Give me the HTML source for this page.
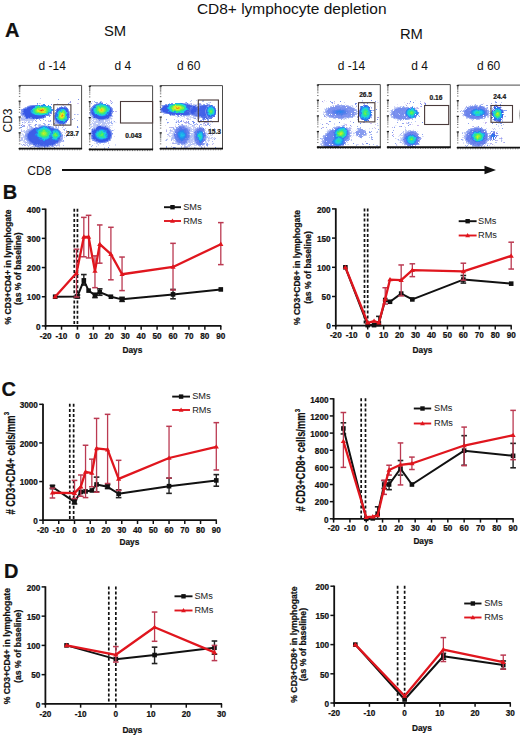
<!DOCTYPE html>
<html><head><meta charset="utf-8"><style>
html,body{margin:0;padding:0;background:#fff;}
body{width:520px;height:735px;overflow:hidden;}
svg{display:block;font-family:"Liberation Sans", sans-serif;}
text[font-weight="bold"]{stroke:#111;stroke-width:0.22px;}
</style></head><body>
<svg width="520" height="735" viewBox="0 0 520 735">
<defs><filter id="bl" x="-10%" y="-10%" width="120%" height="120%" color-interpolation-filters="sRGB"><feTurbulence type="fractalNoise" baseFrequency="0.35" numOctaves="2" seed="3" result="t"/><feDisplacementMap in="SourceGraphic" in2="t" scale="3" xChannelSelector="R" yChannelSelector="G" result="d"/><feGaussianBlur in="d" stdDeviation="0.5" result="b"/><feTurbulence type="fractalNoise" baseFrequency="0.9" numOctaves="1" seed="11" result="n0"/><feColorMatrix in="n0" type="matrix" values="0 0 0 0 0  0 0 0 0 0  0 0 0 0 0  2.2 0 0 0 -0.6" result="n"/><feComposite in="b" in2="n" operator="arithmetic" k1="0" k2="1.4" k3="-1" k4="0.5" result="m0"/><feComponentTransfer in="m0" result="m"><feFuncA type="linear" slope="10" intercept="-6.5"/></feComponentTransfer><feComposite in="b" in2="m" operator="in" result="r"/><feComponentTransfer in="r"><feFuncA type="linear" slope="1.6" intercept="0"/></feComponentTransfer></filter><radialGradient id="g0"><stop offset="0.000" stop-color="#b4c2f4" stop-opacity="0.75"/><stop offset="0.600" stop-color="#c4cef6" stop-opacity="0.6"/><stop offset="1.000" stop-color="#dde3fa" stop-opacity="0"/></radialGradient><radialGradient id="g1"><stop offset="0.000" stop-color="#3556e6" stop-opacity="1"/><stop offset="0.740" stop-color="#3556e6" stop-opacity="1"/><stop offset="0.880" stop-color="#8ea2f0" stop-opacity="0.75"/><stop offset="1.000" stop-color="#d2daf7" stop-opacity="0"/></radialGradient><radialGradient id="g2"><stop offset="0.000" stop-color="#e63c12" stop-opacity="1"/><stop offset="0.120" stop-color="#f5a014" stop-opacity="1"/><stop offset="0.260" stop-color="#e6ec22" stop-opacity="1"/><stop offset="0.420" stop-color="#8cf03a" stop-opacity="1"/><stop offset="0.600" stop-color="#2ee884" stop-opacity="1"/><stop offset="0.770" stop-color="#1ccfe6" stop-opacity="1"/><stop offset="0.890" stop-color="#1f8cf0" stop-opacity="1"/><stop offset="1.000" stop-color="#3556e6" stop-opacity="0"/></radialGradient><radialGradient id="g3"><stop offset="0.000" stop-color="#e6ec22" stop-opacity="1"/><stop offset="0.216" stop-color="#8cf03a" stop-opacity="1"/><stop offset="0.459" stop-color="#2ee884" stop-opacity="1"/><stop offset="0.689" stop-color="#1ccfe6" stop-opacity="1"/><stop offset="0.851" stop-color="#1f8cf0" stop-opacity="1"/><stop offset="1.000" stop-color="#3556e6" stop-opacity="0"/></radialGradient><radialGradient id="g4"><stop offset="0.000" stop-color="#8cf03a" stop-opacity="1"/><stop offset="0.310" stop-color="#2ee884" stop-opacity="1"/><stop offset="0.603" stop-color="#1ccfe6" stop-opacity="1"/><stop offset="0.810" stop-color="#1f8cf0" stop-opacity="1"/><stop offset="1.000" stop-color="#3556e6" stop-opacity="0"/></radialGradient><radialGradient id="g5"><stop offset="0.000" stop-color="#f5a014" stop-opacity="1"/><stop offset="0.159" stop-color="#e6ec22" stop-opacity="1"/><stop offset="0.341" stop-color="#8cf03a" stop-opacity="1"/><stop offset="0.545" stop-color="#2ee884" stop-opacity="1"/><stop offset="0.739" stop-color="#1ccfe6" stop-opacity="1"/><stop offset="0.875" stop-color="#1f8cf0" stop-opacity="1"/><stop offset="1.000" stop-color="#3556e6" stop-opacity="0"/></radialGradient><radialGradient id="g6"><stop offset="0.000" stop-color="#1ccfe6" stop-opacity="1"/><stop offset="0.522" stop-color="#1f8cf0" stop-opacity="1"/><stop offset="1.000" stop-color="#3556e6" stop-opacity="0"/></radialGradient><radialGradient id="g7"><stop offset="0.000" stop-color="#2ee884" stop-opacity="1"/><stop offset="0.425" stop-color="#1ccfe6" stop-opacity="1"/><stop offset="0.725" stop-color="#1f8cf0" stop-opacity="1"/><stop offset="1.000" stop-color="#3556e6" stop-opacity="0"/></radialGradient><radialGradient id="g8"><stop offset="0.000" stop-color="#1f8cf0" stop-opacity="1"/><stop offset="1.000" stop-color="#3556e6" stop-opacity="0"/></radialGradient></defs>
<clipPath id="fc19"><rect x="19.40" y="85.40" width="62.20" height="63.20"/></clipPath>
<g clip-path="url(#fc19)"><g filter="url(#bl)">
<rect x="39.4" y="103.0" width="1.1" height="1.1" fill="#b9c4f2"/>
<rect x="24.3" y="123.4" width="1.1" height="1.1" fill="#7890ec"/>
<rect x="55.0" y="143.2" width="1.1" height="1.1" fill="#8ea4f0"/>
<rect x="22.2" y="118.0" width="1.1" height="1.1" fill="#9fb0ee"/>
<rect x="34.4" y="124.2" width="1.1" height="1.1" fill="#b9c4f2"/>
<rect x="69.6" y="101.6" width="1.1" height="1.1" fill="#8ea4f0"/>
<rect x="57.8" y="125.9" width="1.1" height="1.1" fill="#b9c4f2"/>
<rect x="54.6" y="116.0" width="1.1" height="1.1" fill="#8ea4f0"/>
<rect x="22.8" y="140.5" width="1.1" height="1.1" fill="#d0d8f8"/>
<rect x="45.1" y="123.7" width="1.1" height="1.1" fill="#d0d8f8"/>
<rect x="53.6" y="131.1" width="1.1" height="1.1" fill="#9fb0ee"/>
<rect x="54.9" y="128.9" width="1.1" height="1.1" fill="#7890ec"/>
<rect x="25.8" y="132.7" width="1.1" height="1.1" fill="#b9c4f2"/>
<rect x="57.1" y="121.3" width="1.1" height="1.1" fill="#a8a0e8"/>
<rect x="66.6" y="119.7" width="1.1" height="1.1" fill="#6f8cf0"/>
<rect x="41.7" y="108.2" width="1.1" height="1.1" fill="#c8b8ee"/>
<rect x="61.9" y="107.9" width="1.1" height="1.1" fill="#d0d8f8"/>
<rect x="51.5" y="141.4" width="1.1" height="1.1" fill="#6f8cf0"/>
<rect x="37.3" y="146.9" width="1.1" height="1.1" fill="#9fb0ee"/>
<rect x="50.7" y="103.7" width="1.1" height="1.1" fill="#7890ec"/>
<rect x="29.1" y="120.9" width="1.1" height="1.1" fill="#b9c4f2"/>
<rect x="77.7" y="99.1" width="1.1" height="1.1" fill="#7890ec"/>
<rect x="40.4" y="113.6" width="1.1" height="1.1" fill="#6f8cf0"/>
<rect x="54.8" y="119.2" width="1.1" height="1.1" fill="#9fb0ee"/>
<rect x="76.7" y="120.1" width="1.1" height="1.1" fill="#9fb0ee"/>
<rect x="23.6" y="132.2" width="1.1" height="1.1" fill="#6f8cf0"/>
<rect x="37.1" y="115.4" width="1.1" height="1.1" fill="#7890ec"/>
<rect x="21.4" y="119.5" width="1.1" height="1.1" fill="#c8b8ee"/>
<rect x="56.7" y="121.2" width="1.1" height="1.1" fill="#8ea4f0"/>
<rect x="66.1" y="101.9" width="1.1" height="1.1" fill="#8ea4f0"/>
<rect x="43.9" y="143.6" width="1.1" height="1.1" fill="#6f8cf0"/>
<rect x="24.8" y="118.8" width="1.1" height="1.1" fill="#d0d8f8"/>
<rect x="73.0" y="138.4" width="1.1" height="1.1" fill="#d0d8f8"/>
<rect x="62.4" y="147.3" width="1.1" height="1.1" fill="#a8a0e8"/>
<rect x="77.5" y="103.0" width="1.1" height="1.1" fill="#c8b8ee"/>
<rect x="29.1" y="129.9" width="1.1" height="1.1" fill="#b9c4f2"/>
<rect x="49.1" y="126.2" width="1.1" height="1.1" fill="#d0d8f8"/>
<rect x="36.9" y="102.7" width="1.1" height="1.1" fill="#7890ec"/>
<rect x="56.6" y="111.9" width="1.1" height="1.1" fill="#c8b8ee"/>
<rect x="61.4" y="122.3" width="1.1" height="1.1" fill="#b9c4f2"/>
<rect x="47.4" y="141.2" width="1.1" height="1.1" fill="#a8a0e8"/>
<rect x="43.9" y="115.9" width="1.1" height="1.1" fill="#6f8cf0"/>
<rect x="58.1" y="98.3" width="1.1" height="1.1" fill="#9fb0ee"/>
<rect x="79.1" y="118.4" width="1.1" height="1.1" fill="#9fb0ee"/>
<rect x="40.4" y="97.8" width="1.1" height="1.1" fill="#b9c4f2"/>
<rect x="54.0" y="123.4" width="1.1" height="1.1" fill="#7890ec"/>
<rect x="56.8" y="98.7" width="1.1" height="1.1" fill="#8ea4f0"/>
<rect x="56.8" y="102.9" width="1.1" height="1.1" fill="#d0d8f8"/>
<rect x="77.3" y="126.9" width="1.1" height="1.1" fill="#6f8cf0"/>
<rect x="27.4" y="140.0" width="1.1" height="1.1" fill="#6f8cf0"/>
<rect x="48.8" y="111.5" width="1.1" height="1.1" fill="#c8b8ee"/>
<rect x="26.1" y="113.2" width="1.1" height="1.1" fill="#d0d8f8"/>
<rect x="48.7" y="131.7" width="1.1" height="1.1" fill="#b9c4f2"/>
<rect x="32.3" y="145.5" width="1.1" height="1.1" fill="#7890ec"/>
<rect x="28.8" y="123.8" width="1.1" height="1.1" fill="#b9c4f2"/>
<rect x="65.5" y="110.8" width="1.1" height="1.1" fill="#9fb0ee"/>
<rect x="61.8" y="108.8" width="1.1" height="1.1" fill="#7890ec"/>
<rect x="74.5" y="113.9" width="1.1" height="1.1" fill="#8ea4f0"/>
<rect x="52.0" y="136.3" width="1.1" height="1.1" fill="#7890ec"/>
<rect x="58.2" y="127.5" width="1.1" height="1.1" fill="#8ea4f0"/>
<rect x="68.4" y="138.4" width="1.1" height="1.1" fill="#8ea4f0"/>
<rect x="32.0" y="121.1" width="1.1" height="1.1" fill="#b9c4f2"/>
<rect x="79.4" y="136.9" width="1.1" height="1.1" fill="#6f8cf0"/>
<rect x="35.6" y="131.7" width="1.1" height="1.1" fill="#7890ec"/>
<rect x="46.8" y="144.7" width="1.1" height="1.1" fill="#7890ec"/>
<rect x="77.3" y="114.3" width="1.1" height="1.1" fill="#8ea4f0"/>
<rect x="26.1" y="119.9" width="1.1" height="1.1" fill="#7890ec"/>
<rect x="32.3" y="128.1" width="1.1" height="1.1" fill="#b9c4f2"/>
<rect x="48.8" y="129.6" width="1.1" height="1.1" fill="#9fb0ee"/>
<rect x="70.1" y="101.4" width="1.1" height="1.1" fill="#a8a0e8"/>
<rect x="66.9" y="134.8" width="1.1" height="1.1" fill="#6f8cf0"/>
<rect x="73.3" y="118.0" width="1.1" height="1.1" fill="#7890ec"/>
<rect x="25.2" y="145.1" width="1.1" height="1.1" fill="#a8a0e8"/>
<rect x="47.8" y="134.4" width="1.1" height="1.1" fill="#9fb0ee"/>
<rect x="63.5" y="104.0" width="1.1" height="1.1" fill="#c8b8ee"/>
<rect x="21.7" y="126.3" width="1.1" height="1.1" fill="#6f8cf0"/>
<rect x="68.4" y="102.7" width="1.1" height="1.1" fill="#6f8cf0"/>
<rect x="59.4" y="113.6" width="1.1" height="1.1" fill="#c8b8ee"/>
<rect x="21.3" y="137.4" width="1.1" height="1.1" fill="#9fb0ee"/>
<rect x="51.6" y="144.5" width="1.1" height="1.1" fill="#a8a0e8"/>
<rect x="65.4" y="123.8" width="1.1" height="1.1" fill="#8ea4f0"/>
<rect x="21.3" y="124.4" width="1.1" height="1.1" fill="#8ea4f0"/>
<rect x="55.1" y="127.8" width="1.1" height="1.1" fill="#a8a0e8"/>
<rect x="58.4" y="119.8" width="1.1" height="1.1" fill="#7890ec"/>
<rect x="61.3" y="137.9" width="1.1" height="1.1" fill="#a8a0e8"/>
<rect x="58.0" y="144.3" width="1.1" height="1.1" fill="#c8b8ee"/>
<rect x="44.5" y="133.7" width="1.1" height="1.1" fill="#b9c4f2"/>
<rect x="60.1" y="141.3" width="1.1" height="1.1" fill="#b9c4f2"/>
<rect x="55.7" y="122.5" width="1.1" height="1.1" fill="#c8b8ee"/>
<rect x="41.8" y="139.8" width="1.1" height="1.1" fill="#b9c4f2"/>
<rect x="35.0" y="133.6" width="1.1" height="1.1" fill="#6f8cf0"/>
<rect x="56.1" y="121.2" width="1.1" height="1.1" fill="#b9c4f2"/>
<rect x="31.4" y="126.3" width="1.1" height="1.1" fill="#9fb0ee"/>
<rect x="43.4" y="134.9" width="1.1" height="1.1" fill="#9fb0ee"/>
<rect x="40.4" y="136.4" width="1.1" height="1.1" fill="#8ea4f0"/>
<rect x="51.9" y="131.6" width="1.1" height="1.1" fill="#6f8cf0"/>
<rect x="43.4" y="125.4" width="1.1" height="1.1" fill="#d0d8f8"/>
<rect x="62.4" y="144.8" width="1.1" height="1.1" fill="#8ea4f0"/>
<rect x="58.6" y="122.1" width="1.1" height="1.1" fill="#9fb0ee"/>
<rect x="38.0" y="127.5" width="1.1" height="1.1" fill="#8ea4f0"/>
<rect x="39.7" y="124.4" width="1.1" height="1.1" fill="#d0d8f8"/>
<rect x="56.1" y="144.9" width="1.1" height="1.1" fill="#c8b8ee"/>
<rect x="63.2" y="137.3" width="1.1" height="1.1" fill="#7890ec"/>
<rect x="26.6" y="144.5" width="1.1" height="1.1" fill="#6f8cf0"/>
<rect x="30.1" y="146.6" width="1.1" height="1.1" fill="#a8a0e8"/>
<rect x="60.7" y="122.9" width="1.1" height="1.1" fill="#8ea4f0"/>
<rect x="27.4" y="130.9" width="1.1" height="1.1" fill="#a8a0e8"/>
<rect x="35.6" y="123.9" width="1.1" height="1.1" fill="#7890ec"/>
<rect x="24.2" y="129.0" width="1.1" height="1.1" fill="#7890ec"/>
<rect x="45.5" y="131.2" width="1.1" height="1.1" fill="#b9c4f2"/>
<rect x="37.7" y="133.5" width="1.1" height="1.1" fill="#d0d8f8"/>
<rect x="43.6" y="119.9" width="1.1" height="1.1" fill="#8ea4f0"/>
<rect x="64.7" y="121.1" width="1.1" height="1.1" fill="#d0d8f8"/>
<rect x="32.5" y="145.2" width="1.1" height="1.1" fill="#c8b8ee"/>
<rect x="32.4" y="121.9" width="1.1" height="1.1" fill="#a8a0e8"/>
<rect x="59.1" y="138.3" width="1.1" height="1.1" fill="#d0d8f8"/>
<rect x="38.7" y="134.1" width="1.1" height="1.1" fill="#6f8cf0"/>
<rect x="52.2" y="120.7" width="1.1" height="1.1" fill="#b9c4f2"/>
<rect x="56.8" y="123.5" width="1.1" height="1.1" fill="#9fb0ee"/>
<rect x="32.4" y="118.5" width="1.1" height="1.1" fill="#9fb0ee"/>
<rect x="56.9" y="120.5" width="1.1" height="1.1" fill="#8ea4f0"/>
<rect x="23.1" y="143.9" width="1.1" height="1.1" fill="#6f8cf0"/>
<rect x="20.5" y="147.8" width="1.1" height="1.1" fill="#a8a0e8"/>
<rect x="62.6" y="126.0" width="1.1" height="1.1" fill="#c8b8ee"/>
<rect x="22.0" y="139.3" width="1.1" height="1.1" fill="#9fb0ee"/>
<rect x="64.6" y="125.9" width="1.1" height="1.1" fill="#c8b8ee"/>
<rect x="29.3" y="127.4" width="1.1" height="1.1" fill="#d0d8f8"/>
<rect x="44.4" y="124.2" width="1.1" height="1.1" fill="#6f8cf0"/>
<rect x="43.0" y="123.3" width="1.1" height="1.1" fill="#7890ec"/>
<rect x="57.0" y="147.8" width="1.1" height="1.1" fill="#b9c4f2"/>
<rect x="20.7" y="140.0" width="1.1" height="1.1" fill="#8ea4f0"/>
<rect x="43.7" y="125.4" width="1.1" height="1.1" fill="#6f8cf0"/>
<rect x="24.9" y="142.6" width="1.1" height="1.1" fill="#a8a0e8"/>
<rect x="50.2" y="134.4" width="1.1" height="1.1" fill="#a8a0e8"/>
<rect x="64.6" y="127.2" width="1.1" height="1.1" fill="#8ea4f0"/>
<rect x="65.2" y="128.3" width="1.1" height="1.1" fill="#c8b8ee"/>
<rect x="38.6" y="128.4" width="1.1" height="1.1" fill="#b9c4f2"/>
<rect x="58.5" y="118.4" width="1.1" height="1.1" fill="#d0d8f8"/>
<rect x="39.8" y="119.7" width="1.1" height="1.1" fill="#a8a0e8"/>
<rect x="60.0" y="138.1" width="1.1" height="1.1" fill="#d0d8f8"/>
<rect x="47.5" y="138.8" width="1.1" height="1.1" fill="#b9c4f2"/>
<rect x="41.1" y="122.7" width="1.1" height="1.1" fill="#6f8cf0"/>
<rect x="20.2" y="128.9" width="1.1" height="1.1" fill="#7890ec"/>
<rect x="64.7" y="134.4" width="1.1" height="1.1" fill="#8ea4f0"/>
<rect x="21.6" y="144.5" width="1.1" height="1.1" fill="#8ea4f0"/>
<rect x="36.4" y="118.0" width="1.1" height="1.1" fill="#a8a0e8"/>
<rect x="23.9" y="126.4" width="1.1" height="1.1" fill="#8ea4f0"/>
<rect x="31.4" y="141.3" width="1.1" height="1.1" fill="#9fb0ee"/>
<rect x="32.2" y="120.7" width="1.1" height="1.1" fill="#a8a0e8"/>
<rect x="47.0" y="129.8" width="1.1" height="1.1" fill="#d0d8f8"/>
<rect x="34.0" y="125.0" width="1.1" height="1.1" fill="#c8b8ee"/>
<rect x="50.2" y="139.5" width="1.1" height="1.1" fill="#a8a0e8"/>
<rect x="55.2" y="139.6" width="1.1" height="1.1" fill="#6f8cf0"/>
<rect x="26.9" y="139.7" width="1.1" height="1.1" fill="#c8b8ee"/>
<rect x="22.0" y="143.1" width="1.1" height="1.1" fill="#a8a0e8"/>
<rect x="53.8" y="142.4" width="1.1" height="1.1" fill="#c8b8ee"/>
<rect x="61.9" y="140.6" width="1.1" height="1.1" fill="#b9c4f2"/>
<rect x="58.0" y="135.5" width="1.1" height="1.1" fill="#8ea4f0"/>
<rect x="23.9" y="119.3" width="1.1" height="1.1" fill="#7890ec"/>
<rect x="64.1" y="129.3" width="1.1" height="1.1" fill="#6f8cf0"/>
<rect x="45.7" y="136.8" width="1.1" height="1.1" fill="#8ea4f0"/>
<rect x="42.5" y="118.1" width="1.1" height="1.1" fill="#9fb0ee"/>
<rect x="54.4" y="133.1" width="1.1" height="1.1" fill="#9fb0ee"/>
<rect x="50.3" y="120.0" width="1.1" height="1.1" fill="#6f8cf0"/>
<rect x="31.6" y="120.2" width="1.1" height="1.1" fill="#d0d8f8"/>
<rect x="30.8" y="140.7" width="1.1" height="1.1" fill="#8ea4f0"/>
<rect x="54.0" y="147.3" width="1.1" height="1.1" fill="#6f8cf0"/>
<rect x="58.9" y="120.3" width="1.1" height="1.1" fill="#d0d8f8"/>
<rect x="55.3" y="136.5" width="1.1" height="1.1" fill="#8ea4f0"/>
<rect x="23.6" y="122.4" width="1.1" height="1.1" fill="#d0d8f8"/>
<rect x="50.0" y="138.8" width="1.1" height="1.1" fill="#c8b8ee"/>
<rect x="20.6" y="119.8" width="1.1" height="1.1" fill="#d0d8f8"/>
<rect x="64.7" y="121.0" width="1.1" height="1.1" fill="#8ea4f0"/>
<rect x="51.1" y="126.7" width="1.1" height="1.1" fill="#d0d8f8"/>
<rect x="41.4" y="132.0" width="1.1" height="1.1" fill="#9fb0ee"/>
<rect x="65.7" y="134.5" width="1.1" height="1.1" fill="#d0d8f8"/>
<rect x="65.0" y="146.1" width="1.1" height="1.1" fill="#b9c4f2"/>
<rect x="33.3" y="120.3" width="1.1" height="1.1" fill="#6f8cf0"/>
<rect x="65.7" y="129.6" width="1.1" height="1.1" fill="#8ea4f0"/>
<rect x="23.4" y="120.7" width="1.1" height="1.1" fill="#d0d8f8"/>
<rect x="63.8" y="122.0" width="1.1" height="1.1" fill="#d0d8f8"/>
<rect x="60.8" y="139.1" width="1.1" height="1.1" fill="#8ea4f0"/>
<rect x="42.9" y="144.3" width="1.1" height="1.1" fill="#a8a0e8"/>
<rect x="21.1" y="118.1" width="1.1" height="1.1" fill="#6f8cf0"/>
<rect x="51.4" y="130.2" width="1.1" height="1.1" fill="#c8b8ee"/>
<rect x="39.1" y="129.3" width="1.1" height="1.1" fill="#9fb0ee"/>
<rect x="58.7" y="118.1" width="1.1" height="1.1" fill="#7890ec"/>
<rect x="58.6" y="121.6" width="1.1" height="1.1" fill="#8ea4f0"/>
<rect x="52.8" y="145.0" width="1.1" height="1.1" fill="#d0d8f8"/>
<rect x="31.6" y="119.9" width="1.1" height="1.1" fill="#a8a0e8"/>
<rect x="65.9" y="135.7" width="1.1" height="1.1" fill="#7890ec"/>
<rect x="62.6" y="140.7" width="1.1" height="1.1" fill="#b9c4f2"/>
<rect x="32.9" y="119.5" width="1.1" height="1.1" fill="#d0d8f8"/>
<rect x="49.2" y="122.5" width="1.1" height="1.1" fill="#d0d8f8"/>
<rect x="40.1" y="127.5" width="1.1" height="1.1" fill="#7890ec"/>
<rect x="56.1" y="130.8" width="1.1" height="1.1" fill="#b9c4f2"/>
<rect x="57.4" y="136.9" width="1.1" height="1.1" fill="#8ea4f0"/>
<rect x="53.1" y="119.5" width="1.1" height="1.1" fill="#a8a0e8"/>
<rect x="40.7" y="140.6" width="1.1" height="1.1" fill="#d0d8f8"/>
<rect x="42.3" y="145.4" width="1.1" height="1.1" fill="#c8b8ee"/>
<rect x="27.9" y="130.4" width="1.1" height="1.1" fill="#d0d8f8"/>
<rect x="33.7" y="140.2" width="1.1" height="1.1" fill="#d0d8f8"/>
<rect x="38.7" y="125.2" width="1.1" height="1.1" fill="#6f8cf0"/>
<rect x="45.6" y="129.8" width="1.1" height="1.1" fill="#c8b8ee"/>
<rect x="49.6" y="120.3" width="1.1" height="1.1" fill="#6f8cf0"/>
<rect x="45.3" y="131.6" width="1.1" height="1.1" fill="#7890ec"/>
<rect x="65.8" y="131.5" width="1.1" height="1.1" fill="#c8b8ee"/>
<rect x="45.2" y="125.3" width="1.1" height="1.1" fill="#c8b8ee"/>
<rect x="35.7" y="120.7" width="1.1" height="1.1" fill="#8ea4f0"/>
<rect x="36.9" y="142.3" width="1.1" height="1.1" fill="#8ea4f0"/>
<rect x="60.8" y="140.5" width="1.1" height="1.1" fill="#a8a0e8"/>
<rect x="37.6" y="140.4" width="1.1" height="1.1" fill="#8ea4f0"/>
<rect x="37.3" y="128.1" width="1.1" height="1.1" fill="#b9c4f2"/>
<rect x="42.9" y="135.2" width="1.1" height="1.1" fill="#7890ec"/>
<rect x="25.8" y="133.1" width="1.1" height="1.1" fill="#8ea4f0"/>
<rect x="24.3" y="144.9" width="1.1" height="1.1" fill="#a8a0e8"/>
<rect x="38.4" y="131.4" width="1.1" height="1.1" fill="#d0d8f8"/>
<rect x="59.0" y="144.2" width="1.1" height="1.1" fill="#b9c4f2"/>
<rect x="25.9" y="130.8" width="1.1" height="1.1" fill="#6f8cf0"/>
<rect x="64.5" y="132.7" width="1.1" height="1.1" fill="#9fb0ee"/>
<rect x="38.0" y="145.8" width="1.1" height="1.1" fill="#6f8cf0"/>
<rect x="64.7" y="125.5" width="1.1" height="1.1" fill="#9fb0ee"/>
<rect x="30.3" y="122.6" width="1.1" height="1.1" fill="#9fb0ee"/>
<rect x="63.3" y="139.7" width="1.1" height="1.1" fill="#6f8cf0"/>
<rect x="23.9" y="141.3" width="1.1" height="1.1" fill="#b9c4f2"/>
<rect x="56.0" y="125.0" width="1.1" height="1.1" fill="#b9c4f2"/>
<rect x="49.7" y="127.1" width="1.1" height="1.1" fill="#c8b8ee"/>
<rect x="48.8" y="133.8" width="1.1" height="1.1" fill="#a8a0e8"/>
<rect x="52.1" y="121.4" width="1.1" height="1.1" fill="#9fb0ee"/>
<rect x="33.8" y="146.3" width="1.1" height="1.1" fill="#8ea4f0"/>
<rect x="37.9" y="124.7" width="1.1" height="1.1" fill="#b9c4f2"/>
<rect x="20.5" y="127.0" width="1.1" height="1.1" fill="#6f8cf0"/>
<rect x="32.8" y="127.5" width="1.1" height="1.1" fill="#8ea4f0"/>
<rect x="41.9" y="125.0" width="1.1" height="1.1" fill="#8ea4f0"/>
<rect x="21.3" y="130.4" width="1.1" height="1.1" fill="#d0d8f8"/>
<rect x="22.5" y="123.8" width="1.1" height="1.1" fill="#a8a0e8"/>
<rect x="23.7" y="124.8" width="1.1" height="1.1" fill="#a8a0e8"/>
<rect x="62.6" y="124.8" width="1.1" height="1.1" fill="#b9c4f2"/>
<rect x="52.0" y="139.5" width="1.1" height="1.1" fill="#7890ec"/>
<rect x="51.4" y="123.9" width="1.1" height="1.1" fill="#d0d8f8"/>
<rect x="54.0" y="133.1" width="1.1" height="1.1" fill="#8ea4f0"/>
<rect x="42.8" y="124.0" width="1.1" height="1.1" fill="#8ea4f0"/>
<rect x="30.6" y="124.6" width="1.1" height="1.1" fill="#d0d8f8"/>
<rect x="25.0" y="136.7" width="1.1" height="1.1" fill="#c8b8ee"/>
<rect x="61.2" y="132.6" width="1.1" height="1.1" fill="#b9c4f2"/>
<rect x="63.6" y="122.4" width="1.1" height="1.1" fill="#a8a0e8"/>
<rect x="22.5" y="118.7" width="1.1" height="1.1" fill="#c8b8ee"/>
<rect x="39.1" y="139.3" width="1.1" height="1.1" fill="#c8b8ee"/>
<rect x="38.1" y="144.9" width="1.1" height="1.1" fill="#7890ec"/>
<rect x="53.7" y="147.9" width="1.1" height="1.1" fill="#c8b8ee"/>
<rect x="35.1" y="123.6" width="1.1" height="1.1" fill="#6f8cf0"/>
<rect x="21.5" y="137.9" width="1.1" height="1.1" fill="#a8a0e8"/>
<rect x="58.6" y="147.5" width="1.1" height="1.1" fill="#6f8cf0"/>
<rect x="27.8" y="118.1" width="1.1" height="1.1" fill="#d0d8f8"/>
<rect x="23.7" y="130.6" width="1.1" height="1.1" fill="#9fb0ee"/>
<rect x="45.8" y="140.8" width="1.1" height="1.1" fill="#a8a0e8"/>
<rect x="36.4" y="142.6" width="1.1" height="1.1" fill="#a8a0e8"/>
<rect x="24.0" y="139.2" width="1.1" height="1.1" fill="#8ea4f0"/>
<rect x="37.1" y="145.6" width="1.1" height="1.1" fill="#8ea4f0"/>
<rect x="34.9" y="140.1" width="1.1" height="1.1" fill="#6f8cf0"/>
<rect x="21.4" y="130.3" width="1.1" height="1.1" fill="#a8a0e8"/>
<rect x="21.9" y="119.0" width="1.1" height="1.1" fill="#9fb0ee"/>
<rect x="57.0" y="119.9" width="1.1" height="1.1" fill="#8ea4f0"/>
<rect x="54.4" y="145.0" width="1.1" height="1.1" fill="#7890ec"/>
<rect x="36.7" y="128.0" width="1.1" height="1.1" fill="#b9c4f2"/>
<rect x="32.1" y="139.5" width="1.1" height="1.1" fill="#7890ec"/>
<rect x="62.5" y="126.9" width="1.1" height="1.1" fill="#9fb0ee"/>
<rect x="21.1" y="125.0" width="1.1" height="1.1" fill="#6f8cf0"/>
<rect x="52.9" y="132.0" width="1.1" height="1.1" fill="#a8a0e8"/>
<rect x="56.3" y="145.4" width="1.1" height="1.1" fill="#6f8cf0"/>
<rect x="26.1" y="132.9" width="1.1" height="1.1" fill="#b9c4f2"/>
<rect x="56.9" y="140.2" width="1.1" height="1.1" fill="#c8b8ee"/>
<rect x="47.9" y="127.8" width="1.1" height="1.1" fill="#7890ec"/>
<rect x="41.2" y="141.5" width="1.1" height="1.1" fill="#9fb0ee"/>
<rect x="43.5" y="129.8" width="1.1" height="1.1" fill="#c8b8ee"/>
<rect x="31.4" y="119.9" width="1.1" height="1.1" fill="#b9c4f2"/>
<rect x="42.2" y="134.3" width="1.1" height="1.1" fill="#c8b8ee"/>
<rect x="65.1" y="144.5" width="1.1" height="1.1" fill="#9fb0ee"/>
<rect x="32.2" y="120.5" width="1.1" height="1.1" fill="#9fb0ee"/>
<rect x="39.4" y="147.7" width="1.1" height="1.1" fill="#6f8cf0"/>
<rect x="28.0" y="122.0" width="1.1" height="1.1" fill="#6f8cf0"/>
<rect x="48.5" y="138.2" width="1.1" height="1.1" fill="#9fb0ee"/>
<rect x="55.9" y="126.8" width="1.1" height="1.1" fill="#d0d8f8"/>
<rect x="46.1" y="129.2" width="1.1" height="1.1" fill="#d0d8f8"/>
<rect x="29.2" y="125.4" width="1.1" height="1.1" fill="#8ea4f0"/>
<rect x="30.8" y="126.4" width="1.1" height="1.1" fill="#8ea4f0"/>
<rect x="35.0" y="129.9" width="1.1" height="1.1" fill="#8ea4f0"/>
<rect x="43.3" y="124.9" width="1.1" height="1.1" fill="#9fb0ee"/>
<rect x="50.1" y="147.7" width="1.1" height="1.1" fill="#9fb0ee"/>
<rect x="20.2" y="144.5" width="1.1" height="1.1" fill="#8ea4f0"/>
<rect x="58.7" y="145.4" width="1.1" height="1.1" fill="#b9c4f2"/>
<rect x="60.3" y="125.0" width="1.1" height="1.1" fill="#b9c4f2"/>
<rect x="28.7" y="147.2" width="1.1" height="1.1" fill="#8ea4f0"/>
<rect x="62.8" y="129.2" width="1.1" height="1.1" fill="#c8b8ee"/>
<rect x="40.7" y="125.8" width="1.1" height="1.1" fill="#b9c4f2"/>
<rect x="24.9" y="135.9" width="1.1" height="1.1" fill="#7890ec"/>
<rect x="30.0" y="129.1" width="1.1" height="1.1" fill="#c8b8ee"/>
<rect x="22.0" y="148.0" width="1.1" height="1.1" fill="#b9c4f2"/>
<rect x="47.6" y="137.5" width="1.1" height="1.1" fill="#8ea4f0"/>
<rect x="57.5" y="142.6" width="1.1" height="1.1" fill="#a8a0e8"/>
<rect x="51.2" y="123.6" width="1.1" height="1.1" fill="#d0d8f8"/>
<rect x="23.6" y="118.9" width="1.1" height="1.1" fill="#6f8cf0"/>
<rect x="45.2" y="119.9" width="1.1" height="1.1" fill="#9fb0ee"/>
<rect x="56.6" y="137.9" width="1.1" height="1.1" fill="#c8b8ee"/>
<rect x="49.4" y="120.7" width="1.1" height="1.1" fill="#c8b8ee"/>
<rect x="38.3" y="126.1" width="1.1" height="1.1" fill="#d0d8f8"/>
<rect x="50.7" y="130.5" width="1.1" height="1.1" fill="#b9c4f2"/>
<rect x="34.4" y="135.0" width="1.1" height="1.1" fill="#7890ec"/>
<rect x="39.0" y="118.5" width="1.1" height="1.1" fill="#7890ec"/>
<rect x="49.6" y="129.7" width="1.1" height="1.1" fill="#a8a0e8"/>
<rect x="29.4" y="118.2" width="1.1" height="1.1" fill="#c8b8ee"/>
<rect x="39.5" y="142.6" width="1.1" height="1.1" fill="#a8a0e8"/>
<rect x="46.6" y="128.9" width="1.1" height="1.1" fill="#c8b8ee"/>
<rect x="26.0" y="119.6" width="1.1" height="1.1" fill="#c8b8ee"/>
<rect x="49.5" y="145.3" width="1.1" height="1.1" fill="#9fb0ee"/>
<rect x="46.4" y="145.8" width="1.1" height="1.1" fill="#c8b8ee"/>
<rect x="26.7" y="126.5" width="1.1" height="1.1" fill="#c8b8ee"/>
<rect x="62.6" y="121.3" width="1.1" height="1.1" fill="#6f8cf0"/>
<rect x="54.7" y="141.8" width="1.1" height="1.1" fill="#8ea4f0"/>
<rect x="33.9" y="143.1" width="1.1" height="1.1" fill="#b9c4f2"/>
<rect x="64.9" y="132.5" width="1.1" height="1.1" fill="#b9c4f2"/>
<rect x="48.0" y="137.1" width="1.1" height="1.1" fill="#9fb0ee"/>
<rect x="61.6" y="136.6" width="1.1" height="1.1" fill="#c8b8ee"/>
<rect x="49.5" y="143.7" width="1.1" height="1.1" fill="#a8a0e8"/>
<rect x="48.3" y="123.9" width="1.1" height="1.1" fill="#6f8cf0"/>
<rect x="28.4" y="124.5" width="1.1" height="1.1" fill="#a8a0e8"/>
<rect x="63.2" y="122.7" width="1.1" height="1.1" fill="#7890ec"/>
<rect x="25.7" y="125.4" width="1.1" height="1.1" fill="#8ea4f0"/>
<rect x="21.9" y="134.9" width="1.1" height="1.1" fill="#b9c4f2"/>
<rect x="50.7" y="127.7" width="1.1" height="1.1" fill="#a8a0e8"/>
<rect x="47.6" y="134.5" width="1.1" height="1.1" fill="#d0d8f8"/>
<rect x="49.9" y="127.2" width="1.1" height="1.1" fill="#8ea4f0"/>
<rect x="39.6" y="137.8" width="1.1" height="1.1" fill="#6f8cf0"/>
<rect x="43.2" y="123.4" width="1.1" height="1.1" fill="#b9c4f2"/>
<rect x="48.5" y="132.7" width="1.1" height="1.1" fill="#8ea4f0"/>
<rect x="40.6" y="136.6" width="1.1" height="1.1" fill="#6f8cf0"/>
<rect x="58.5" y="142.3" width="1.1" height="1.1" fill="#a8a0e8"/>
<rect x="24.9" y="121.9" width="1.1" height="1.1" fill="#a8a0e8"/>
<rect x="36.8" y="142.1" width="1.1" height="1.1" fill="#b9c4f2"/>
<rect x="21.9" y="121.9" width="1.1" height="1.1" fill="#7890ec"/>
<ellipse cx="40.00" cy="137.00" rx="26.00" ry="14.00" fill="url(#g0)"/>
<ellipse cx="28.00" cy="116.00" rx="10.00" ry="9.00" fill="url(#g0)"/>
<ellipse cx="36.50" cy="112.00" rx="17.50" ry="8.20" fill="url(#g1)" opacity="1.0" transform="rotate(-4 36.50 112.00)"/><ellipse cx="41.50" cy="110.80" rx="11.90" ry="5.58" fill="url(#g2)" transform="rotate(-4 36.50 112.00)"/>
<ellipse cx="62.00" cy="115.50" rx="8.50" ry="10.50" fill="url(#g1)" opacity="1.0" transform="rotate(15 62.00 115.50)"/><ellipse cx="62.00" cy="115.50" rx="6.12" ry="7.56" fill="url(#g2)" transform="rotate(15 62.00 115.50)"/>
<ellipse cx="44.00" cy="136.50" rx="21.00" ry="12.00" fill="url(#g1)" opacity="0.9"/>
<ellipse cx="44.00" cy="133.50" rx="12.00" ry="10.00" fill="url(#g1)" opacity="0"/><ellipse cx="44.00" cy="133.50" rx="9.00" ry="7.50" fill="url(#g3)"/>
<ellipse cx="55.50" cy="135.00" rx="7.00" ry="8.00" fill="url(#g1)" opacity="0"/><ellipse cx="55.50" cy="135.00" rx="5.60" ry="6.40" fill="url(#g4)"/>
</g></g>
<path d="M19.40,148.60 M19.40,85.40 L81.60,85.40 L81.60,148.60" fill="none" stroke="#4a4a4a" stroke-width="1.0"/>
<line x1="18.60" y1="148.60" x2="20.80" y2="148.60" stroke="#222" stroke-width="1.3"/>
<line x1="18.90" y1="143.84" x2="20.30" y2="143.84" stroke="#555" stroke-width="0.8"/>
<line x1="18.90" y1="141.06" x2="20.30" y2="141.06" stroke="#555" stroke-width="0.8"/>
<line x1="18.90" y1="139.09" x2="20.30" y2="139.09" stroke="#555" stroke-width="0.8"/>
<line x1="18.90" y1="137.56" x2="20.30" y2="137.56" stroke="#555" stroke-width="0.8"/>
<line x1="18.90" y1="136.31" x2="20.30" y2="136.31" stroke="#555" stroke-width="0.8"/>
<line x1="18.90" y1="135.25" x2="20.30" y2="135.25" stroke="#555" stroke-width="0.8"/>
<line x1="18.90" y1="134.33" x2="20.30" y2="134.33" stroke="#555" stroke-width="0.8"/>
<line x1="18.90" y1="133.52" x2="20.30" y2="133.52" stroke="#555" stroke-width="0.8"/>
<line x1="18.60" y1="132.80" x2="20.80" y2="132.80" stroke="#222" stroke-width="1.3"/>
<line x1="18.90" y1="128.04" x2="20.30" y2="128.04" stroke="#555" stroke-width="0.8"/>
<line x1="18.90" y1="125.26" x2="20.30" y2="125.26" stroke="#555" stroke-width="0.8"/>
<line x1="18.90" y1="123.29" x2="20.30" y2="123.29" stroke="#555" stroke-width="0.8"/>
<line x1="18.90" y1="121.76" x2="20.30" y2="121.76" stroke="#555" stroke-width="0.8"/>
<line x1="18.90" y1="120.51" x2="20.30" y2="120.51" stroke="#555" stroke-width="0.8"/>
<line x1="18.90" y1="119.45" x2="20.30" y2="119.45" stroke="#555" stroke-width="0.8"/>
<line x1="18.90" y1="118.53" x2="20.30" y2="118.53" stroke="#555" stroke-width="0.8"/>
<line x1="18.90" y1="117.72" x2="20.30" y2="117.72" stroke="#555" stroke-width="0.8"/>
<line x1="18.60" y1="117.00" x2="20.80" y2="117.00" stroke="#222" stroke-width="1.3"/>
<line x1="18.90" y1="112.24" x2="20.30" y2="112.24" stroke="#555" stroke-width="0.8"/>
<line x1="18.90" y1="109.46" x2="20.30" y2="109.46" stroke="#555" stroke-width="0.8"/>
<line x1="18.90" y1="107.49" x2="20.30" y2="107.49" stroke="#555" stroke-width="0.8"/>
<line x1="18.90" y1="105.96" x2="20.30" y2="105.96" stroke="#555" stroke-width="0.8"/>
<line x1="18.90" y1="104.71" x2="20.30" y2="104.71" stroke="#555" stroke-width="0.8"/>
<line x1="18.90" y1="103.65" x2="20.30" y2="103.65" stroke="#555" stroke-width="0.8"/>
<line x1="18.90" y1="102.73" x2="20.30" y2="102.73" stroke="#555" stroke-width="0.8"/>
<line x1="18.90" y1="101.92" x2="20.30" y2="101.92" stroke="#555" stroke-width="0.8"/>
<line x1="18.60" y1="101.20" x2="20.80" y2="101.20" stroke="#222" stroke-width="1.3"/>
<line x1="18.90" y1="96.44" x2="20.30" y2="96.44" stroke="#555" stroke-width="0.8"/>
<line x1="18.90" y1="93.66" x2="20.30" y2="93.66" stroke="#555" stroke-width="0.8"/>
<line x1="18.90" y1="91.69" x2="20.30" y2="91.69" stroke="#555" stroke-width="0.8"/>
<line x1="18.90" y1="90.16" x2="20.30" y2="90.16" stroke="#555" stroke-width="0.8"/>
<line x1="18.90" y1="88.91" x2="20.30" y2="88.91" stroke="#555" stroke-width="0.8"/>
<line x1="18.90" y1="87.85" x2="20.30" y2="87.85" stroke="#555" stroke-width="0.8"/>
<line x1="18.90" y1="86.93" x2="20.30" y2="86.93" stroke="#555" stroke-width="0.8"/>
<line x1="18.90" y1="86.12" x2="20.30" y2="86.12" stroke="#555" stroke-width="0.8"/>
<line x1="18.60" y1="85.90" x2="20.80" y2="85.90" stroke="#222" stroke-width="1.2"/>
<line x1="18.90" y1="148.60" x2="82.10" y2="148.60" stroke="#111" stroke-width="1.9"/>
<line x1="19.40" y1="149.80" x2="81.60" y2="149.80" stroke="#333" stroke-width="0.8" stroke-dasharray="0.8 1.7"/>
<rect x="53.80" y="104.70" width="17.10" height="20.40" fill="none" stroke="#4a3a3a" stroke-width="1.1"/>
<text x="72.60" y="136.00" font-size="6.6" font-weight="bold" text-anchor="middle" fill="#222">23.7</text>
<clipPath id="fc89"><rect x="89.50" y="85.80" width="63.10" height="63.60"/></clipPath>
<g clip-path="url(#fc89)"><g filter="url(#bl)">
<rect x="111.8" y="124.6" width="1.1" height="1.1" fill="#b9c4f2"/>
<rect x="111.1" y="143.0" width="1.1" height="1.1" fill="#c8b8ee"/>
<rect x="90.7" y="103.2" width="1.1" height="1.1" fill="#9fb0ee"/>
<rect x="95.4" y="147.1" width="1.1" height="1.1" fill="#6f8cf0"/>
<rect x="98.1" y="138.9" width="1.1" height="1.1" fill="#c8b8ee"/>
<rect x="109.2" y="134.6" width="1.1" height="1.1" fill="#8ea4f0"/>
<rect x="91.8" y="116.8" width="1.1" height="1.1" fill="#d0d8f8"/>
<rect x="94.4" y="143.0" width="1.1" height="1.1" fill="#d0d8f8"/>
<rect x="115.3" y="121.9" width="1.1" height="1.1" fill="#d0d8f8"/>
<rect x="104.1" y="144.2" width="1.1" height="1.1" fill="#8ea4f0"/>
<rect x="106.6" y="129.6" width="1.1" height="1.1" fill="#8ea4f0"/>
<rect x="98.9" y="101.8" width="1.1" height="1.1" fill="#c8b8ee"/>
<rect x="101.3" y="130.6" width="1.1" height="1.1" fill="#d0d8f8"/>
<rect x="109.0" y="143.0" width="1.1" height="1.1" fill="#c8b8ee"/>
<rect x="112.2" y="112.7" width="1.1" height="1.1" fill="#b9c4f2"/>
<rect x="107.8" y="117.3" width="1.1" height="1.1" fill="#6f8cf0"/>
<rect x="105.5" y="127.8" width="1.1" height="1.1" fill="#9fb0ee"/>
<rect x="97.1" y="125.7" width="1.1" height="1.1" fill="#a8a0e8"/>
<rect x="110.7" y="117.8" width="1.1" height="1.1" fill="#a8a0e8"/>
<rect x="117.7" y="127.7" width="1.1" height="1.1" fill="#7890ec"/>
<rect x="99.3" y="103.9" width="1.1" height="1.1" fill="#8ea4f0"/>
<rect x="94.9" y="135.7" width="1.1" height="1.1" fill="#b9c4f2"/>
<rect x="98.3" y="124.8" width="1.1" height="1.1" fill="#d0d8f8"/>
<rect x="107.9" y="147.2" width="1.1" height="1.1" fill="#7890ec"/>
<rect x="110.5" y="135.9" width="1.1" height="1.1" fill="#8ea4f0"/>
<rect x="94.2" y="129.6" width="1.1" height="1.1" fill="#a8a0e8"/>
<rect x="101.7" y="117.5" width="1.1" height="1.1" fill="#b9c4f2"/>
<rect x="93.7" y="110.9" width="1.1" height="1.1" fill="#b9c4f2"/>
<rect x="90.6" y="100.1" width="1.1" height="1.1" fill="#7890ec"/>
<rect x="98.5" y="125.1" width="1.1" height="1.1" fill="#8ea4f0"/>
<rect x="101.6" y="114.5" width="1.1" height="1.1" fill="#c8b8ee"/>
<rect x="95.7" y="129.9" width="1.1" height="1.1" fill="#6f8cf0"/>
<rect x="94.4" y="100.7" width="1.1" height="1.1" fill="#8ea4f0"/>
<rect x="109.8" y="121.6" width="1.1" height="1.1" fill="#9fb0ee"/>
<rect x="107.9" y="141.8" width="1.1" height="1.1" fill="#d0d8f8"/>
<rect x="101.3" y="112.7" width="1.1" height="1.1" fill="#b9c4f2"/>
<rect x="91.6" y="139.4" width="1.1" height="1.1" fill="#7890ec"/>
<rect x="106.7" y="127.8" width="1.1" height="1.1" fill="#6f8cf0"/>
<rect x="97.0" y="143.4" width="1.1" height="1.1" fill="#b9c4f2"/>
<rect x="91.7" y="101.2" width="1.1" height="1.1" fill="#c8b8ee"/>
<rect x="96.7" y="102.8" width="1.1" height="1.1" fill="#9fb0ee"/>
<rect x="90.3" y="126.4" width="1.1" height="1.1" fill="#8ea4f0"/>
<rect x="94.0" y="109.6" width="1.1" height="1.1" fill="#a8a0e8"/>
<rect x="112.8" y="108.4" width="1.1" height="1.1" fill="#d0d8f8"/>
<rect x="91.8" y="130.0" width="1.1" height="1.1" fill="#6f8cf0"/>
<rect x="110.0" y="100.3" width="1.1" height="1.1" fill="#a8a0e8"/>
<rect x="110.9" y="122.3" width="1.1" height="1.1" fill="#6f8cf0"/>
<rect x="94.9" y="147.8" width="1.1" height="1.1" fill="#d0d8f8"/>
<rect x="96.5" y="101.9" width="1.1" height="1.1" fill="#7890ec"/>
<rect x="115.0" y="144.4" width="1.1" height="1.1" fill="#d0d8f8"/>
<rect x="109.9" y="112.8" width="1.1" height="1.1" fill="#a8a0e8"/>
<rect x="109.2" y="144.0" width="1.1" height="1.1" fill="#d0d8f8"/>
<rect x="98.3" y="144.6" width="1.1" height="1.1" fill="#8ea4f0"/>
<rect x="92.4" y="124.4" width="1.1" height="1.1" fill="#c8b8ee"/>
<rect x="97.3" y="111.3" width="1.1" height="1.1" fill="#8ea4f0"/>
<rect x="116.5" y="135.8" width="1.1" height="1.1" fill="#7890ec"/>
<rect x="95.4" y="118.7" width="1.1" height="1.1" fill="#8ea4f0"/>
<rect x="100.6" y="140.9" width="1.1" height="1.1" fill="#6f8cf0"/>
<rect x="103.2" y="125.5" width="1.1" height="1.1" fill="#b9c4f2"/>
<rect x="114.0" y="121.0" width="1.1" height="1.1" fill="#8ea4f0"/>
<rect x="106.0" y="114.8" width="1.1" height="1.1" fill="#8ea4f0"/>
<rect x="101.0" y="128.1" width="1.1" height="1.1" fill="#c8b8ee"/>
<rect x="94.0" y="101.3" width="1.1" height="1.1" fill="#9fb0ee"/>
<rect x="107.4" y="107.8" width="1.1" height="1.1" fill="#c8b8ee"/>
<rect x="109.6" y="101.5" width="1.1" height="1.1" fill="#c8b8ee"/>
<rect x="109.4" y="130.4" width="1.1" height="1.1" fill="#9fb0ee"/>
<rect x="110.6" y="103.2" width="1.1" height="1.1" fill="#7890ec"/>
<rect x="95.6" y="145.8" width="1.1" height="1.1" fill="#9fb0ee"/>
<rect x="114.6" y="136.3" width="1.1" height="1.1" fill="#a8a0e8"/>
<rect x="93.0" y="109.9" width="1.1" height="1.1" fill="#9fb0ee"/>
<rect x="90.9" y="145.6" width="1.1" height="1.1" fill="#9fb0ee"/>
<rect x="113.1" y="130.3" width="1.1" height="1.1" fill="#d0d8f8"/>
<rect x="103.4" y="106.4" width="1.1" height="1.1" fill="#8ea4f0"/>
<rect x="98.2" y="116.2" width="1.1" height="1.1" fill="#d0d8f8"/>
<rect x="90.6" y="112.3" width="1.1" height="1.1" fill="#d0d8f8"/>
<rect x="91.4" y="136.5" width="1.1" height="1.1" fill="#7890ec"/>
<rect x="111.5" y="128.9" width="1.1" height="1.1" fill="#6f8cf0"/>
<rect x="113.8" y="129.7" width="1.1" height="1.1" fill="#b9c4f2"/>
<rect x="112.1" y="101.5" width="1.1" height="1.1" fill="#9fb0ee"/>
<rect x="99.7" y="133.8" width="1.1" height="1.1" fill="#8ea4f0"/>
<rect x="110.0" y="139.7" width="1.1" height="1.1" fill="#d0d8f8"/>
<rect x="94.8" y="100.1" width="1.1" height="1.1" fill="#8ea4f0"/>
<rect x="98.1" y="136.0" width="1.1" height="1.1" fill="#b9c4f2"/>
<rect x="90.1" y="123.6" width="1.1" height="1.1" fill="#6f8cf0"/>
<rect x="109.5" y="139.6" width="1.1" height="1.1" fill="#6f8cf0"/>
<rect x="106.6" y="145.9" width="1.1" height="1.1" fill="#d0d8f8"/>
<rect x="106.2" y="107.6" width="1.1" height="1.1" fill="#8ea4f0"/>
<rect x="116.3" y="111.1" width="1.1" height="1.1" fill="#c8b8ee"/>
<rect x="93.1" y="130.6" width="1.1" height="1.1" fill="#9fb0ee"/>
<rect x="103.7" y="147.6" width="1.1" height="1.1" fill="#9fb0ee"/>
<ellipse cx="101.00" cy="122.00" rx="15.00" ry="22.00" fill="url(#g0)"/>
<ellipse cx="101.50" cy="111.50" rx="13.00" ry="9.80" fill="url(#g1)" opacity="1.0"/><ellipse cx="101.50" cy="110.00" rx="9.36" ry="7.06" fill="url(#g5)"/>
<ellipse cx="101.50" cy="134.50" rx="12.00" ry="9.80" fill="url(#g1)" opacity="1.0"/><ellipse cx="101.50" cy="134.50" rx="7.44" ry="6.08" fill="url(#g4)"/>
</g></g>
<path d="M89.50,149.40 M89.50,85.80 L152.60,85.80 L152.60,149.40" fill="none" stroke="#4a4a4a" stroke-width="1.0"/>
<line x1="88.70" y1="149.40" x2="90.90" y2="149.40" stroke="#222" stroke-width="1.3"/>
<line x1="89.00" y1="144.61" x2="90.40" y2="144.61" stroke="#555" stroke-width="0.8"/>
<line x1="89.00" y1="141.81" x2="90.40" y2="141.81" stroke="#555" stroke-width="0.8"/>
<line x1="89.00" y1="139.83" x2="90.40" y2="139.83" stroke="#555" stroke-width="0.8"/>
<line x1="89.00" y1="138.29" x2="90.40" y2="138.29" stroke="#555" stroke-width="0.8"/>
<line x1="89.00" y1="137.03" x2="90.40" y2="137.03" stroke="#555" stroke-width="0.8"/>
<line x1="89.00" y1="135.96" x2="90.40" y2="135.96" stroke="#555" stroke-width="0.8"/>
<line x1="89.00" y1="135.04" x2="90.40" y2="135.04" stroke="#555" stroke-width="0.8"/>
<line x1="89.00" y1="134.23" x2="90.40" y2="134.23" stroke="#555" stroke-width="0.8"/>
<line x1="88.70" y1="133.50" x2="90.90" y2="133.50" stroke="#222" stroke-width="1.3"/>
<line x1="89.00" y1="128.71" x2="90.40" y2="128.71" stroke="#555" stroke-width="0.8"/>
<line x1="89.00" y1="125.91" x2="90.40" y2="125.91" stroke="#555" stroke-width="0.8"/>
<line x1="89.00" y1="123.93" x2="90.40" y2="123.93" stroke="#555" stroke-width="0.8"/>
<line x1="89.00" y1="122.39" x2="90.40" y2="122.39" stroke="#555" stroke-width="0.8"/>
<line x1="89.00" y1="121.13" x2="90.40" y2="121.13" stroke="#555" stroke-width="0.8"/>
<line x1="89.00" y1="120.06" x2="90.40" y2="120.06" stroke="#555" stroke-width="0.8"/>
<line x1="89.00" y1="119.14" x2="90.40" y2="119.14" stroke="#555" stroke-width="0.8"/>
<line x1="89.00" y1="118.33" x2="90.40" y2="118.33" stroke="#555" stroke-width="0.8"/>
<line x1="88.70" y1="117.60" x2="90.90" y2="117.60" stroke="#222" stroke-width="1.3"/>
<line x1="89.00" y1="112.81" x2="90.40" y2="112.81" stroke="#555" stroke-width="0.8"/>
<line x1="89.00" y1="110.01" x2="90.40" y2="110.01" stroke="#555" stroke-width="0.8"/>
<line x1="89.00" y1="108.03" x2="90.40" y2="108.03" stroke="#555" stroke-width="0.8"/>
<line x1="89.00" y1="106.49" x2="90.40" y2="106.49" stroke="#555" stroke-width="0.8"/>
<line x1="89.00" y1="105.23" x2="90.40" y2="105.23" stroke="#555" stroke-width="0.8"/>
<line x1="89.00" y1="104.16" x2="90.40" y2="104.16" stroke="#555" stroke-width="0.8"/>
<line x1="89.00" y1="103.24" x2="90.40" y2="103.24" stroke="#555" stroke-width="0.8"/>
<line x1="89.00" y1="102.43" x2="90.40" y2="102.43" stroke="#555" stroke-width="0.8"/>
<line x1="88.70" y1="101.70" x2="90.90" y2="101.70" stroke="#222" stroke-width="1.3"/>
<line x1="89.00" y1="96.91" x2="90.40" y2="96.91" stroke="#555" stroke-width="0.8"/>
<line x1="89.00" y1="94.11" x2="90.40" y2="94.11" stroke="#555" stroke-width="0.8"/>
<line x1="89.00" y1="92.13" x2="90.40" y2="92.13" stroke="#555" stroke-width="0.8"/>
<line x1="89.00" y1="90.59" x2="90.40" y2="90.59" stroke="#555" stroke-width="0.8"/>
<line x1="89.00" y1="89.33" x2="90.40" y2="89.33" stroke="#555" stroke-width="0.8"/>
<line x1="89.00" y1="88.26" x2="90.40" y2="88.26" stroke="#555" stroke-width="0.8"/>
<line x1="89.00" y1="87.34" x2="90.40" y2="87.34" stroke="#555" stroke-width="0.8"/>
<line x1="89.00" y1="86.53" x2="90.40" y2="86.53" stroke="#555" stroke-width="0.8"/>
<line x1="88.70" y1="86.30" x2="90.90" y2="86.30" stroke="#222" stroke-width="1.2"/>
<line x1="89.00" y1="149.40" x2="153.10" y2="149.40" stroke="#111" stroke-width="1.9"/>
<line x1="89.50" y1="150.60" x2="152.60" y2="150.60" stroke="#333" stroke-width="0.8" stroke-dasharray="0.8 1.7"/>
<rect x="120.50" y="101.50" width="32.10" height="21.50" fill="none" stroke="#4a3a3a" stroke-width="1.1"/>
<text x="133.50" y="138.30" font-size="6.6" font-weight="bold" text-anchor="middle" fill="#222">0.043</text>
<clipPath id="fc160"><rect x="160.40" y="85.60" width="62.10" height="63.00"/></clipPath>
<g clip-path="url(#fc160)"><g filter="url(#bl)">
<rect x="196.4" y="128.7" width="1.1" height="1.1" fill="#a8a0e8"/>
<rect x="211.4" y="144.8" width="1.1" height="1.1" fill="#9fb0ee"/>
<rect x="186.1" y="137.4" width="1.1" height="1.1" fill="#7890ec"/>
<rect x="175.3" y="125.9" width="1.1" height="1.1" fill="#c8b8ee"/>
<rect x="184.0" y="144.5" width="1.1" height="1.1" fill="#8ea4f0"/>
<rect x="212.2" y="121.8" width="1.1" height="1.1" fill="#b9c4f2"/>
<rect x="182.4" y="127.8" width="1.1" height="1.1" fill="#c8b8ee"/>
<rect x="208.4" y="131.5" width="1.1" height="1.1" fill="#7890ec"/>
<rect x="173.5" y="131.2" width="1.1" height="1.1" fill="#d0d8f8"/>
<rect x="194.0" y="121.8" width="1.1" height="1.1" fill="#6f8cf0"/>
<rect x="197.1" y="138.9" width="1.1" height="1.1" fill="#8ea4f0"/>
<rect x="178.4" y="140.6" width="1.1" height="1.1" fill="#c8b8ee"/>
<rect x="201.2" y="147.2" width="1.1" height="1.1" fill="#7890ec"/>
<rect x="195.1" y="128.5" width="1.1" height="1.1" fill="#8ea4f0"/>
<rect x="181.4" y="123.7" width="1.1" height="1.1" fill="#9fb0ee"/>
<rect x="173.2" y="137.7" width="1.1" height="1.1" fill="#8ea4f0"/>
<rect x="184.2" y="147.5" width="1.1" height="1.1" fill="#d0d8f8"/>
<rect x="201.7" y="131.0" width="1.1" height="1.1" fill="#8ea4f0"/>
<rect x="170.5" y="145.3" width="1.1" height="1.1" fill="#d0d8f8"/>
<rect x="175.3" y="129.7" width="1.1" height="1.1" fill="#b9c4f2"/>
<rect x="165.6" y="143.6" width="1.1" height="1.1" fill="#a8a0e8"/>
<rect x="199.7" y="133.0" width="1.1" height="1.1" fill="#d0d8f8"/>
<rect x="188.2" y="122.3" width="1.1" height="1.1" fill="#a8a0e8"/>
<rect x="165.3" y="125.3" width="1.1" height="1.1" fill="#a8a0e8"/>
<rect x="200.1" y="135.6" width="1.1" height="1.1" fill="#a8a0e8"/>
<rect x="207.3" y="138.0" width="1.1" height="1.1" fill="#8ea4f0"/>
<rect x="199.0" y="137.2" width="1.1" height="1.1" fill="#6f8cf0"/>
<rect x="186.6" y="125.8" width="1.1" height="1.1" fill="#9fb0ee"/>
<rect x="209.7" y="125.3" width="1.1" height="1.1" fill="#a8a0e8"/>
<rect x="200.7" y="136.9" width="1.1" height="1.1" fill="#d0d8f8"/>
<rect x="207.5" y="132.5" width="1.1" height="1.1" fill="#b9c4f2"/>
<rect x="196.1" y="130.3" width="1.1" height="1.1" fill="#c8b8ee"/>
<rect x="209.7" y="127.8" width="1.1" height="1.1" fill="#b9c4f2"/>
<rect x="184.4" y="132.7" width="1.1" height="1.1" fill="#9fb0ee"/>
<rect x="166.9" y="134.3" width="1.1" height="1.1" fill="#c8b8ee"/>
<rect x="200.8" y="146.5" width="1.1" height="1.1" fill="#8ea4f0"/>
<rect x="191.0" y="121.0" width="1.1" height="1.1" fill="#6f8cf0"/>
<rect x="192.1" y="139.5" width="1.1" height="1.1" fill="#b9c4f2"/>
<rect x="197.0" y="142.9" width="1.1" height="1.1" fill="#7890ec"/>
<rect x="185.5" y="146.4" width="1.1" height="1.1" fill="#8ea4f0"/>
<rect x="214.5" y="123.5" width="1.1" height="1.1" fill="#9fb0ee"/>
<rect x="201.5" y="136.4" width="1.1" height="1.1" fill="#b9c4f2"/>
<rect x="177.6" y="129.5" width="1.1" height="1.1" fill="#b9c4f2"/>
<rect x="165.7" y="130.6" width="1.1" height="1.1" fill="#a8a0e8"/>
<rect x="196.4" y="138.2" width="1.1" height="1.1" fill="#d0d8f8"/>
<rect x="170.5" y="127.1" width="1.1" height="1.1" fill="#a8a0e8"/>
<rect x="212.0" y="133.8" width="1.1" height="1.1" fill="#8ea4f0"/>
<rect x="214.7" y="146.8" width="1.1" height="1.1" fill="#6f8cf0"/>
<rect x="175.6" y="121.9" width="1.1" height="1.1" fill="#9fb0ee"/>
<rect x="205.5" y="137.0" width="1.1" height="1.1" fill="#6f8cf0"/>
<rect x="197.1" y="139.6" width="1.1" height="1.1" fill="#c8b8ee"/>
<rect x="182.7" y="137.2" width="1.1" height="1.1" fill="#a8a0e8"/>
<rect x="188.4" y="126.8" width="1.1" height="1.1" fill="#c8b8ee"/>
<rect x="204.0" y="132.1" width="1.1" height="1.1" fill="#8ea4f0"/>
<rect x="178.4" y="129.3" width="1.1" height="1.1" fill="#d0d8f8"/>
<rect x="214.1" y="138.4" width="1.1" height="1.1" fill="#6f8cf0"/>
<rect x="165.1" y="139.7" width="1.1" height="1.1" fill="#d0d8f8"/>
<rect x="182.9" y="137.6" width="1.1" height="1.1" fill="#7890ec"/>
<rect x="189.0" y="130.9" width="1.1" height="1.1" fill="#9fb0ee"/>
<rect x="198.0" y="128.9" width="1.1" height="1.1" fill="#d0d8f8"/>
<rect x="207.7" y="119.7" width="1.1" height="1.1" fill="#7890ec"/>
<rect x="204.2" y="122.2" width="1.1" height="1.1" fill="#7890ec"/>
<rect x="196.7" y="118.4" width="1.1" height="1.1" fill="#b9c4f2"/>
<rect x="175.5" y="120.2" width="1.1" height="1.1" fill="#d0d8f8"/>
<rect x="177.5" y="121.0" width="1.1" height="1.1" fill="#c8b8ee"/>
<rect x="207.7" y="123.6" width="1.1" height="1.1" fill="#6f8cf0"/>
<rect x="182.3" y="122.6" width="1.1" height="1.1" fill="#a8a0e8"/>
<rect x="204.6" y="123.0" width="1.1" height="1.1" fill="#9fb0ee"/>
<rect x="198.4" y="144.8" width="1.1" height="1.1" fill="#d0d8f8"/>
<rect x="174.9" y="138.8" width="1.1" height="1.1" fill="#9fb0ee"/>
<rect x="202.1" y="131.2" width="1.1" height="1.1" fill="#9fb0ee"/>
<rect x="192.8" y="125.9" width="1.1" height="1.1" fill="#8ea4f0"/>
<rect x="206.4" y="132.2" width="1.1" height="1.1" fill="#b9c4f2"/>
<rect x="189.2" y="145.2" width="1.1" height="1.1" fill="#6f8cf0"/>
<rect x="177.3" y="122.9" width="1.1" height="1.1" fill="#b9c4f2"/>
<rect x="173.0" y="127.6" width="1.1" height="1.1" fill="#6f8cf0"/>
<rect x="198.3" y="143.2" width="1.1" height="1.1" fill="#7890ec"/>
<rect x="186.3" y="148.0" width="1.1" height="1.1" fill="#9fb0ee"/>
<rect x="174.0" y="128.8" width="1.1" height="1.1" fill="#b9c4f2"/>
<rect x="166.0" y="119.4" width="1.1" height="1.1" fill="#7890ec"/>
<rect x="205.4" y="120.8" width="1.1" height="1.1" fill="#6f8cf0"/>
<rect x="189.2" y="144.9" width="1.1" height="1.1" fill="#b9c4f2"/>
<rect x="175.7" y="130.5" width="1.1" height="1.1" fill="#c8b8ee"/>
<rect x="181.9" y="143.9" width="1.1" height="1.1" fill="#7890ec"/>
<rect x="182.1" y="141.4" width="1.1" height="1.1" fill="#8ea4f0"/>
<rect x="179.2" y="128.3" width="1.1" height="1.1" fill="#d0d8f8"/>
<rect x="192.7" y="142.8" width="1.1" height="1.1" fill="#d0d8f8"/>
<rect x="182.8" y="132.8" width="1.1" height="1.1" fill="#7890ec"/>
<rect x="190.2" y="126.2" width="1.1" height="1.1" fill="#7890ec"/>
<rect x="213.7" y="137.6" width="1.1" height="1.1" fill="#9fb0ee"/>
<rect x="181.5" y="127.5" width="1.1" height="1.1" fill="#d0d8f8"/>
<rect x="171.4" y="147.2" width="1.1" height="1.1" fill="#9fb0ee"/>
<rect x="204.2" y="119.2" width="1.1" height="1.1" fill="#a8a0e8"/>
<rect x="192.3" y="119.5" width="1.1" height="1.1" fill="#d0d8f8"/>
<rect x="170.4" y="119.4" width="1.1" height="1.1" fill="#6f8cf0"/>
<rect x="195.4" y="137.7" width="1.1" height="1.1" fill="#a8a0e8"/>
<rect x="195.8" y="136.8" width="1.1" height="1.1" fill="#9fb0ee"/>
<rect x="175.6" y="138.0" width="1.1" height="1.1" fill="#6f8cf0"/>
<rect x="196.3" y="123.2" width="1.1" height="1.1" fill="#c8b8ee"/>
<rect x="208.5" y="130.6" width="1.1" height="1.1" fill="#9fb0ee"/>
<rect x="210.7" y="137.7" width="1.1" height="1.1" fill="#7890ec"/>
<rect x="208.6" y="122.2" width="1.1" height="1.1" fill="#d0d8f8"/>
<rect x="193.1" y="125.7" width="1.1" height="1.1" fill="#d0d8f8"/>
<rect x="174.2" y="119.0" width="1.1" height="1.1" fill="#b9c4f2"/>
<rect x="186.5" y="137.3" width="1.1" height="1.1" fill="#b9c4f2"/>
<rect x="189.9" y="133.7" width="1.1" height="1.1" fill="#9fb0ee"/>
<rect x="203.7" y="130.6" width="1.1" height="1.1" fill="#a8a0e8"/>
<rect x="187.3" y="118.4" width="1.1" height="1.1" fill="#a8a0e8"/>
<rect x="194.7" y="147.8" width="1.1" height="1.1" fill="#c8b8ee"/>
<rect x="188.8" y="130.4" width="1.1" height="1.1" fill="#9fb0ee"/>
<rect x="169.1" y="132.2" width="1.1" height="1.1" fill="#c8b8ee"/>
<rect x="196.3" y="130.8" width="1.1" height="1.1" fill="#b9c4f2"/>
<rect x="199.2" y="121.7" width="1.1" height="1.1" fill="#9fb0ee"/>
<rect x="175.9" y="121.6" width="1.1" height="1.1" fill="#6f8cf0"/>
<rect x="165.9" y="139.6" width="1.1" height="1.1" fill="#8ea4f0"/>
<rect x="187.5" y="140.3" width="1.1" height="1.1" fill="#b9c4f2"/>
<rect x="183.3" y="140.4" width="1.1" height="1.1" fill="#c8b8ee"/>
<rect x="201.5" y="120.5" width="1.1" height="1.1" fill="#6f8cf0"/>
<rect x="188.0" y="146.0" width="1.1" height="1.1" fill="#d0d8f8"/>
<rect x="210.7" y="119.6" width="1.1" height="1.1" fill="#b9c4f2"/>
<rect x="165.6" y="118.4" width="1.1" height="1.1" fill="#9fb0ee"/>
<rect x="184.4" y="127.4" width="1.1" height="1.1" fill="#c8b8ee"/>
<rect x="212.9" y="143.0" width="1.1" height="1.1" fill="#b9c4f2"/>
<rect x="180.8" y="146.5" width="1.1" height="1.1" fill="#6f8cf0"/>
<rect x="188.5" y="123.0" width="1.1" height="1.1" fill="#9fb0ee"/>
<rect x="183.2" y="137.3" width="1.1" height="1.1" fill="#a8a0e8"/>
<rect x="188.8" y="141.3" width="1.1" height="1.1" fill="#6f8cf0"/>
<rect x="212.2" y="141.5" width="1.1" height="1.1" fill="#7890ec"/>
<rect x="179.6" y="119.8" width="1.1" height="1.1" fill="#7890ec"/>
<rect x="208.5" y="139.8" width="1.1" height="1.1" fill="#b9c4f2"/>
<rect x="206.6" y="136.0" width="1.1" height="1.1" fill="#d0d8f8"/>
<rect x="194.2" y="147.3" width="1.1" height="1.1" fill="#8ea4f0"/>
<rect x="183.8" y="138.5" width="1.1" height="1.1" fill="#8ea4f0"/>
<rect x="205.4" y="126.5" width="1.1" height="1.1" fill="#b9c4f2"/>
<rect x="181.1" y="126.0" width="1.1" height="1.1" fill="#c8b8ee"/>
<rect x="194.3" y="142.5" width="1.1" height="1.1" fill="#b9c4f2"/>
<rect x="179.4" y="122.2" width="1.1" height="1.1" fill="#c8b8ee"/>
<rect x="178.7" y="143.5" width="1.1" height="1.1" fill="#6f8cf0"/>
<rect x="182.3" y="120.6" width="1.1" height="1.1" fill="#6f8cf0"/>
<rect x="204.9" y="124.0" width="1.1" height="1.1" fill="#8ea4f0"/>
<rect x="180.5" y="119.7" width="1.1" height="1.1" fill="#a8a0e8"/>
<rect x="188.3" y="124.2" width="1.1" height="1.1" fill="#d0d8f8"/>
<rect x="194.3" y="118.3" width="1.1" height="1.1" fill="#a8a0e8"/>
<rect x="188.0" y="120.6" width="1.1" height="1.1" fill="#7890ec"/>
<rect x="203.6" y="125.0" width="1.1" height="1.1" fill="#d0d8f8"/>
<rect x="209.3" y="133.7" width="1.1" height="1.1" fill="#6f8cf0"/>
<rect x="190.3" y="124.1" width="1.1" height="1.1" fill="#8ea4f0"/>
<rect x="174.6" y="123.4" width="1.1" height="1.1" fill="#d0d8f8"/>
<rect x="183.1" y="134.9" width="1.1" height="1.1" fill="#a8a0e8"/>
<rect x="204.0" y="143.7" width="1.1" height="1.1" fill="#8ea4f0"/>
<rect x="167.2" y="147.9" width="1.1" height="1.1" fill="#7890ec"/>
<rect x="208.3" y="129.2" width="1.1" height="1.1" fill="#6f8cf0"/>
<rect x="204.4" y="122.7" width="1.1" height="1.1" fill="#b9c4f2"/>
<rect x="182.2" y="133.6" width="1.1" height="1.1" fill="#b9c4f2"/>
<rect x="169.7" y="124.1" width="1.1" height="1.1" fill="#6f8cf0"/>
<rect x="194.3" y="124.4" width="1.1" height="1.1" fill="#d0d8f8"/>
<rect x="186.3" y="146.4" width="1.1" height="1.1" fill="#c8b8ee"/>
<rect x="177.7" y="119.1" width="1.1" height="1.1" fill="#8ea4f0"/>
<rect x="214.7" y="129.3" width="1.1" height="1.1" fill="#b9c4f2"/>
<rect x="167.5" y="134.7" width="1.1" height="1.1" fill="#6f8cf0"/>
<rect x="189.3" y="143.4" width="1.1" height="1.1" fill="#9fb0ee"/>
<rect x="208.1" y="137.2" width="1.1" height="1.1" fill="#9fb0ee"/>
<rect x="200.3" y="120.7" width="1.1" height="1.1" fill="#7890ec"/>
<rect x="193.2" y="137.2" width="1.1" height="1.1" fill="#a8a0e8"/>
<rect x="174.1" y="143.5" width="1.1" height="1.1" fill="#7890ec"/>
<rect x="213.3" y="147.8" width="1.1" height="1.1" fill="#8ea4f0"/>
<rect x="173.6" y="146.3" width="1.1" height="1.1" fill="#7890ec"/>
<rect x="168.0" y="134.6" width="1.1" height="1.1" fill="#b9c4f2"/>
<rect x="206.9" y="119.4" width="1.1" height="1.1" fill="#6f8cf0"/>
<rect x="167.8" y="122.3" width="1.1" height="1.1" fill="#b9c4f2"/>
<rect x="212.0" y="138.3" width="1.1" height="1.1" fill="#d0d8f8"/>
<rect x="194.5" y="131.2" width="1.1" height="1.1" fill="#9fb0ee"/>
<rect x="188.5" y="129.2" width="1.1" height="1.1" fill="#a8a0e8"/>
<rect x="171.2" y="132.4" width="1.1" height="1.1" fill="#c8b8ee"/>
<rect x="187.1" y="142.2" width="1.1" height="1.1" fill="#b9c4f2"/>
<rect x="188.4" y="145.4" width="1.1" height="1.1" fill="#b9c4f2"/>
<rect x="172.8" y="143.0" width="1.1" height="1.1" fill="#9fb0ee"/>
<rect x="211.7" y="144.0" width="1.1" height="1.1" fill="#c8b8ee"/>
<rect x="203.9" y="146.7" width="1.1" height="1.1" fill="#a8a0e8"/>
<rect x="207.1" y="136.9" width="1.1" height="1.1" fill="#6f8cf0"/>
<rect x="213.6" y="127.7" width="1.1" height="1.1" fill="#8ea4f0"/>
<rect x="188.9" y="136.8" width="1.1" height="1.1" fill="#c8b8ee"/>
<rect x="181.6" y="140.1" width="1.1" height="1.1" fill="#c8b8ee"/>
<rect x="200.7" y="134.6" width="1.1" height="1.1" fill="#c8b8ee"/>
<rect x="186.9" y="122.5" width="1.1" height="1.1" fill="#a8a0e8"/>
<rect x="185.6" y="122.7" width="1.1" height="1.1" fill="#d0d8f8"/>
<rect x="193.5" y="126.9" width="1.1" height="1.1" fill="#c8b8ee"/>
<rect x="178.0" y="121.3" width="1.1" height="1.1" fill="#6f8cf0"/>
<rect x="210.2" y="121.4" width="1.1" height="1.1" fill="#b9c4f2"/>
<rect x="196.6" y="141.6" width="1.1" height="1.1" fill="#8ea4f0"/>
<rect x="193.0" y="143.1" width="1.1" height="1.1" fill="#9fb0ee"/>
<rect x="177.9" y="124.0" width="1.1" height="1.1" fill="#7890ec"/>
<rect x="186.6" y="125.8" width="1.1" height="1.1" fill="#8ea4f0"/>
<rect x="211.3" y="120.9" width="1.1" height="1.1" fill="#d0d8f8"/>
<rect x="185.8" y="122.9" width="1.1" height="1.1" fill="#d0d8f8"/>
<rect x="172.2" y="137.2" width="1.1" height="1.1" fill="#6f8cf0"/>
<rect x="205.4" y="128.2" width="1.1" height="1.1" fill="#c8b8ee"/>
<rect x="187.2" y="141.7" width="1.1" height="1.1" fill="#d0d8f8"/>
<rect x="174.3" y="131.1" width="1.1" height="1.1" fill="#a8a0e8"/>
<rect x="175.9" y="135.1" width="1.1" height="1.1" fill="#c8b8ee"/>
<rect x="207.2" y="133.6" width="1.1" height="1.1" fill="#8ea4f0"/>
<rect x="200.6" y="123.9" width="1.1" height="1.1" fill="#9fb0ee"/>
<rect x="206.4" y="144.7" width="1.1" height="1.1" fill="#6f8cf0"/>
<rect x="203.1" y="123.3" width="1.1" height="1.1" fill="#c8b8ee"/>
<rect x="195.6" y="139.2" width="1.1" height="1.1" fill="#8ea4f0"/>
<rect x="194.1" y="124.1" width="1.1" height="1.1" fill="#9fb0ee"/>
<rect x="199.6" y="133.6" width="1.1" height="1.1" fill="#b9c4f2"/>
<rect x="190.9" y="128.4" width="1.1" height="1.1" fill="#d0d8f8"/>
<rect x="207.1" y="143.9" width="1.1" height="1.1" fill="#6f8cf0"/>
<rect x="169.5" y="130.3" width="1.1" height="1.1" fill="#6f8cf0"/>
<rect x="171.7" y="138.0" width="1.1" height="1.1" fill="#8ea4f0"/>
<rect x="174.3" y="142.9" width="1.1" height="1.1" fill="#7890ec"/>
<rect x="166.8" y="139.1" width="1.1" height="1.1" fill="#b9c4f2"/>
<rect x="182.8" y="146.0" width="1.1" height="1.1" fill="#9fb0ee"/>
<rect x="171.0" y="139.4" width="1.1" height="1.1" fill="#7890ec"/>
<rect x="204.0" y="144.0" width="1.1" height="1.1" fill="#b9c4f2"/>
<rect x="179.6" y="121.2" width="1.1" height="1.1" fill="#6f8cf0"/>
<rect x="187.3" y="118.8" width="1.1" height="1.1" fill="#c8b8ee"/>
<rect x="166.0" y="147.0" width="1.1" height="1.1" fill="#8ea4f0"/>
<rect x="196.0" y="123.0" width="1.1" height="1.1" fill="#d0d8f8"/>
<rect x="177.5" y="142.5" width="1.1" height="1.1" fill="#b9c4f2"/>
<rect x="166.0" y="145.8" width="1.1" height="1.1" fill="#8ea4f0"/>
<rect x="178.1" y="143.1" width="1.1" height="1.1" fill="#6f8cf0"/>
<rect x="191.1" y="139.1" width="1.1" height="1.1" fill="#9fb0ee"/>
<rect x="182.5" y="120.8" width="1.1" height="1.1" fill="#c8b8ee"/>
<rect x="167.3" y="121.7" width="1.1" height="1.1" fill="#6f8cf0"/>
<rect x="194.3" y="140.8" width="1.1" height="1.1" fill="#9fb0ee"/>
<rect x="171.1" y="130.2" width="1.1" height="1.1" fill="#c8b8ee"/>
<rect x="192.1" y="124.8" width="1.1" height="1.1" fill="#8ea4f0"/>
<rect x="172.4" y="135.2" width="1.1" height="1.1" fill="#a8a0e8"/>
<rect x="173.2" y="142.8" width="1.1" height="1.1" fill="#a8a0e8"/>
<rect x="199.7" y="135.9" width="1.1" height="1.1" fill="#b9c4f2"/>
<rect x="184.8" y="146.2" width="1.1" height="1.1" fill="#7890ec"/>
<rect x="181.9" y="125.2" width="1.1" height="1.1" fill="#7890ec"/>
<rect x="200.8" y="143.3" width="1.1" height="1.1" fill="#7890ec"/>
<rect x="205.8" y="143.4" width="1.1" height="1.1" fill="#b9c4f2"/>
<rect x="181.2" y="122.4" width="1.1" height="1.1" fill="#7890ec"/>
<rect x="177.5" y="130.7" width="1.1" height="1.1" fill="#b9c4f2"/>
<rect x="183.2" y="133.9" width="1.1" height="1.1" fill="#9fb0ee"/>
<rect x="181.2" y="124.0" width="1.1" height="1.1" fill="#b9c4f2"/>
<rect x="176.3" y="130.6" width="1.1" height="1.1" fill="#a8a0e8"/>
<rect x="203.8" y="146.1" width="1.1" height="1.1" fill="#b9c4f2"/>
<rect x="205.5" y="144.5" width="1.1" height="1.1" fill="#b9c4f2"/>
<rect x="166.7" y="137.2" width="1.1" height="1.1" fill="#d0d8f8"/>
<rect x="210.9" y="136.7" width="1.1" height="1.1" fill="#b9c4f2"/>
<rect x="196.1" y="125.5" width="1.1" height="1.1" fill="#b9c4f2"/>
<rect x="186.7" y="146.5" width="1.1" height="1.1" fill="#d0d8f8"/>
<rect x="170.7" y="128.4" width="1.1" height="1.1" fill="#c8b8ee"/>
<rect x="171.0" y="135.8" width="1.1" height="1.1" fill="#d0d8f8"/>
<rect x="169.2" y="135.7" width="1.1" height="1.1" fill="#c8b8ee"/>
<rect x="187.0" y="133.3" width="1.1" height="1.1" fill="#d0d8f8"/>
<rect x="210.8" y="135.3" width="1.1" height="1.1" fill="#d0d8f8"/>
<rect x="177.2" y="120.6" width="1.1" height="1.1" fill="#d0d8f8"/>
<rect x="207.0" y="136.3" width="1.1" height="1.1" fill="#8ea4f0"/>
<rect x="197.5" y="124.0" width="1.1" height="1.1" fill="#7890ec"/>
<rect x="188.0" y="134.4" width="1.1" height="1.1" fill="#6f8cf0"/>
<rect x="188.4" y="127.3" width="1.1" height="1.1" fill="#8ea4f0"/>
<rect x="181.7" y="123.7" width="1.1" height="1.1" fill="#a8a0e8"/>
<rect x="213.5" y="129.9" width="1.1" height="1.1" fill="#7890ec"/>
<rect x="173.1" y="146.6" width="1.1" height="1.1" fill="#7890ec"/>
<rect x="192.8" y="132.7" width="1.1" height="1.1" fill="#d0d8f8"/>
<rect x="208.9" y="124.5" width="1.1" height="1.1" fill="#b9c4f2"/>
<rect x="203.6" y="122.8" width="1.1" height="1.1" fill="#9fb0ee"/>
<rect x="195.3" y="128.4" width="1.1" height="1.1" fill="#b9c4f2"/>
<rect x="190.8" y="143.0" width="1.1" height="1.1" fill="#7890ec"/>
<rect x="201.8" y="121.3" width="1.1" height="1.1" fill="#8ea4f0"/>
<rect x="214.5" y="138.3" width="1.1" height="1.1" fill="#c8b8ee"/>
<rect x="185.8" y="138.0" width="1.1" height="1.1" fill="#c8b8ee"/>
<rect x="198.8" y="136.5" width="1.1" height="1.1" fill="#d0d8f8"/>
<rect x="206.1" y="133.5" width="1.1" height="1.1" fill="#6f8cf0"/>
<rect x="178.4" y="136.9" width="1.1" height="1.1" fill="#c8b8ee"/>
<rect x="185.7" y="121.1" width="1.1" height="1.1" fill="#a8a0e8"/>
<rect x="203.3" y="135.6" width="1.1" height="1.1" fill="#6f8cf0"/>
<rect x="184.9" y="147.8" width="1.1" height="1.1" fill="#c8b8ee"/>
<rect x="185.9" y="141.5" width="1.1" height="1.1" fill="#9fb0ee"/>
<rect x="184.0" y="131.6" width="1.1" height="1.1" fill="#6f8cf0"/>
<rect x="179.4" y="128.6" width="1.1" height="1.1" fill="#7890ec"/>
<rect x="184.5" y="134.7" width="1.1" height="1.1" fill="#a8a0e8"/>
<rect x="197.4" y="118.2" width="1.1" height="1.1" fill="#6f8cf0"/>
<rect x="184.0" y="127.0" width="1.1" height="1.1" fill="#d0d8f8"/>
<rect x="205.1" y="110.9" width="1.1" height="1.1" fill="#a8a0e8"/>
<rect x="199.5" y="102.2" width="1.1" height="1.1" fill="#7890ec"/>
<rect x="193.1" y="121.1" width="1.1" height="1.1" fill="#8ea4f0"/>
<rect x="209.0" y="105.1" width="1.1" height="1.1" fill="#a8a0e8"/>
<rect x="207.3" y="123.9" width="1.1" height="1.1" fill="#b9c4f2"/>
<rect x="186.2" y="114.1" width="1.1" height="1.1" fill="#6f8cf0"/>
<rect x="192.5" y="113.4" width="1.1" height="1.1" fill="#d0d8f8"/>
<rect x="198.5" y="125.0" width="1.1" height="1.1" fill="#a8a0e8"/>
<rect x="194.7" y="108.9" width="1.1" height="1.1" fill="#7890ec"/>
<rect x="196.3" y="100.3" width="1.1" height="1.1" fill="#9fb0ee"/>
<rect x="198.1" y="102.5" width="1.1" height="1.1" fill="#7890ec"/>
<rect x="197.5" y="116.2" width="1.1" height="1.1" fill="#c8b8ee"/>
<rect x="207.0" y="124.1" width="1.1" height="1.1" fill="#6f8cf0"/>
<rect x="195.0" y="119.2" width="1.1" height="1.1" fill="#7890ec"/>
<rect x="202.3" y="118.7" width="1.1" height="1.1" fill="#9fb0ee"/>
<rect x="189.3" y="108.0" width="1.1" height="1.1" fill="#9fb0ee"/>
<rect x="205.7" y="112.8" width="1.1" height="1.1" fill="#9fb0ee"/>
<rect x="201.4" y="107.4" width="1.1" height="1.1" fill="#7890ec"/>
<rect x="205.5" y="124.8" width="1.1" height="1.1" fill="#a8a0e8"/>
<rect x="200.8" y="113.1" width="1.1" height="1.1" fill="#8ea4f0"/>
<rect x="197.6" y="104.7" width="1.1" height="1.1" fill="#c8b8ee"/>
<rect x="186.5" y="114.1" width="1.1" height="1.1" fill="#9fb0ee"/>
<rect x="193.8" y="124.8" width="1.1" height="1.1" fill="#b9c4f2"/>
<rect x="202.3" y="100.3" width="1.1" height="1.1" fill="#b9c4f2"/>
<rect x="192.7" y="117.3" width="1.1" height="1.1" fill="#b9c4f2"/>
<rect x="207.9" y="109.9" width="1.1" height="1.1" fill="#9fb0ee"/>
<rect x="199.7" y="116.7" width="1.1" height="1.1" fill="#8ea4f0"/>
<rect x="189.4" y="119.2" width="1.1" height="1.1" fill="#d0d8f8"/>
<rect x="206.8" y="122.4" width="1.1" height="1.1" fill="#c8b8ee"/>
<rect x="199.4" y="110.3" width="1.1" height="1.1" fill="#9fb0ee"/>
<rect x="188.6" y="113.0" width="1.1" height="1.1" fill="#9fb0ee"/>
<rect x="185.7" y="101.9" width="1.1" height="1.1" fill="#6f8cf0"/>
<rect x="205.6" y="115.3" width="1.1" height="1.1" fill="#b9c4f2"/>
<rect x="201.3" y="117.1" width="1.1" height="1.1" fill="#7890ec"/>
<rect x="188.6" y="106.0" width="1.1" height="1.1" fill="#d0d8f8"/>
<rect x="189.2" y="106.7" width="1.1" height="1.1" fill="#9fb0ee"/>
<rect x="206.5" y="123.7" width="1.1" height="1.1" fill="#9fb0ee"/>
<rect x="193.7" y="111.2" width="1.1" height="1.1" fill="#a8a0e8"/>
<rect x="185.5" y="105.5" width="1.1" height="1.1" fill="#a8a0e8"/>
<rect x="199.6" y="124.0" width="1.1" height="1.1" fill="#6f8cf0"/>
<rect x="186.4" y="106.0" width="1.1" height="1.1" fill="#8ea4f0"/>
<rect x="186.1" y="123.3" width="1.1" height="1.1" fill="#c8b8ee"/>
<rect x="192.9" y="122.5" width="1.1" height="1.1" fill="#6f8cf0"/>
<rect x="192.6" y="115.1" width="1.1" height="1.1" fill="#6f8cf0"/>
<rect x="209.5" y="101.7" width="1.1" height="1.1" fill="#a8a0e8"/>
<rect x="201.9" y="114.6" width="1.1" height="1.1" fill="#a8a0e8"/>
<rect x="192.7" y="121.9" width="1.1" height="1.1" fill="#6f8cf0"/>
<rect x="185.6" y="121.7" width="1.1" height="1.1" fill="#9fb0ee"/>
<rect x="189.3" y="109.0" width="1.1" height="1.1" fill="#c8b8ee"/>
<rect x="185.2" y="122.1" width="1.1" height="1.1" fill="#a8a0e8"/>
<rect x="199.0" y="102.9" width="1.1" height="1.1" fill="#a8a0e8"/>
<rect x="193.4" y="116.3" width="1.1" height="1.1" fill="#9fb0ee"/>
<rect x="195.6" y="122.8" width="1.1" height="1.1" fill="#8ea4f0"/>
<rect x="194.7" y="111.7" width="1.1" height="1.1" fill="#7890ec"/>
<rect x="190.9" y="100.9" width="1.1" height="1.1" fill="#b9c4f2"/>
<rect x="193.5" y="103.9" width="1.1" height="1.1" fill="#c8b8ee"/>
<rect x="187.3" y="106.7" width="1.1" height="1.1" fill="#c8b8ee"/>
<rect x="198.9" y="111.7" width="1.1" height="1.1" fill="#8ea4f0"/>
<rect x="189.0" y="108.8" width="1.1" height="1.1" fill="#a8a0e8"/>
<rect x="194.4" y="124.0" width="1.1" height="1.1" fill="#8ea4f0"/>
<rect x="192.4" y="111.9" width="1.1" height="1.1" fill="#8ea4f0"/>
<rect x="190.7" y="111.3" width="1.1" height="1.1" fill="#c8b8ee"/>
<rect x="208.6" y="124.9" width="1.1" height="1.1" fill="#6f8cf0"/>
<rect x="199.7" y="109.2" width="1.1" height="1.1" fill="#8ea4f0"/>
<rect x="195.1" y="112.8" width="1.1" height="1.1" fill="#c8b8ee"/>
<rect x="206.8" y="103.1" width="1.1" height="1.1" fill="#9fb0ee"/>
<rect x="198.6" y="106.8" width="1.1" height="1.1" fill="#a8a0e8"/>
<rect x="185.7" y="118.0" width="1.1" height="1.1" fill="#c8b8ee"/>
<rect x="192.8" y="109.7" width="1.1" height="1.1" fill="#9fb0ee"/>
<rect x="202.4" y="119.4" width="1.1" height="1.1" fill="#8ea4f0"/>
<rect x="193.0" y="116.6" width="1.1" height="1.1" fill="#9fb0ee"/>
<rect x="186.7" y="122.8" width="1.1" height="1.1" fill="#d0d8f8"/>
<rect x="189.8" y="118.0" width="1.1" height="1.1" fill="#9fb0ee"/>
<rect x="190.7" y="103.2" width="1.1" height="1.1" fill="#a8a0e8"/>
<rect x="192.1" y="110.1" width="1.1" height="1.1" fill="#6f8cf0"/>
<rect x="204.4" y="122.1" width="1.1" height="1.1" fill="#c8b8ee"/>
<rect x="208.4" y="104.4" width="1.1" height="1.1" fill="#7890ec"/>
<rect x="202.0" y="116.6" width="1.1" height="1.1" fill="#7890ec"/>
<rect x="207.4" y="100.6" width="1.1" height="1.1" fill="#6f8cf0"/>
<rect x="191.2" y="121.2" width="1.1" height="1.1" fill="#7890ec"/>
<rect x="207.7" y="102.4" width="1.1" height="1.1" fill="#d0d8f8"/>
<rect x="187.9" y="122.8" width="1.1" height="1.1" fill="#8ea4f0"/>
<rect x="202.8" y="101.0" width="1.1" height="1.1" fill="#b9c4f2"/>
<rect x="200.2" y="110.8" width="1.1" height="1.1" fill="#d0d8f8"/>
<rect x="188.9" y="118.5" width="1.1" height="1.1" fill="#d0d8f8"/>
<rect x="200.7" y="123.5" width="1.1" height="1.1" fill="#8ea4f0"/>
<rect x="199.3" y="117.9" width="1.1" height="1.1" fill="#d0d8f8"/>
<rect x="208.1" y="116.8" width="1.1" height="1.1" fill="#7890ec"/>
<rect x="208.4" y="102.8" width="1.1" height="1.1" fill="#d0d8f8"/>
<rect x="207.5" y="121.9" width="1.1" height="1.1" fill="#b9c4f2"/>
<ellipse cx="190.00" cy="136.00" rx="28.00" ry="14.00" fill="url(#g0)"/>
<ellipse cx="190.00" cy="111.00" rx="30.00" ry="10.00" fill="url(#g0)"/>
<ellipse cx="179.50" cy="109.50" rx="23.00" ry="7.20" fill="url(#g1)" opacity="0.9" transform="rotate(2 179.50 109.50)"/>
<ellipse cx="200.00" cy="111.00" rx="12.00" ry="7.00" fill="url(#g1)" opacity="0.6"/>
<ellipse cx="177.50" cy="108.00" rx="13.50" ry="6.50" fill="url(#g1)" opacity="0"/><ellipse cx="177.50" cy="108.00" rx="11.47" ry="5.52" fill="url(#g2)"/>
<ellipse cx="206.00" cy="112.00" rx="10.00" ry="9.00" fill="url(#g1)" opacity="0.65"/>
<ellipse cx="211.00" cy="111.50" rx="6.00" ry="7.50" fill="url(#g1)" opacity="1.0"/><ellipse cx="211.00" cy="111.50" rx="4.80" ry="6.00" fill="url(#g4)"/>
<ellipse cx="182.00" cy="135.00" rx="9.50" ry="11.00" fill="url(#g1)" opacity="0.55"/><ellipse cx="182.00" cy="135.00" rx="5.70" ry="6.60" fill="url(#g6)"/>
<ellipse cx="200.00" cy="136.50" rx="7.00" ry="11.00" fill="url(#g1)" opacity="0.55"/><ellipse cx="200.00" cy="136.50" rx="4.20" ry="6.60" fill="url(#g7)"/>
</g></g>
<path d="M160.40,148.60 M160.40,85.60 L222.50,85.60 L222.50,148.60" fill="none" stroke="#4a4a4a" stroke-width="1.0"/>
<line x1="159.60" y1="148.60" x2="161.80" y2="148.60" stroke="#222" stroke-width="1.3"/>
<line x1="159.90" y1="143.86" x2="161.30" y2="143.86" stroke="#555" stroke-width="0.8"/>
<line x1="159.90" y1="141.09" x2="161.30" y2="141.09" stroke="#555" stroke-width="0.8"/>
<line x1="159.90" y1="139.12" x2="161.30" y2="139.12" stroke="#555" stroke-width="0.8"/>
<line x1="159.90" y1="137.59" x2="161.30" y2="137.59" stroke="#555" stroke-width="0.8"/>
<line x1="159.90" y1="136.34" x2="161.30" y2="136.34" stroke="#555" stroke-width="0.8"/>
<line x1="159.90" y1="135.29" x2="161.30" y2="135.29" stroke="#555" stroke-width="0.8"/>
<line x1="159.90" y1="134.38" x2="161.30" y2="134.38" stroke="#555" stroke-width="0.8"/>
<line x1="159.90" y1="133.57" x2="161.30" y2="133.57" stroke="#555" stroke-width="0.8"/>
<line x1="159.60" y1="132.85" x2="161.80" y2="132.85" stroke="#222" stroke-width="1.3"/>
<line x1="159.90" y1="128.11" x2="161.30" y2="128.11" stroke="#555" stroke-width="0.8"/>
<line x1="159.90" y1="125.34" x2="161.30" y2="125.34" stroke="#555" stroke-width="0.8"/>
<line x1="159.90" y1="123.37" x2="161.30" y2="123.37" stroke="#555" stroke-width="0.8"/>
<line x1="159.90" y1="121.84" x2="161.30" y2="121.84" stroke="#555" stroke-width="0.8"/>
<line x1="159.90" y1="120.59" x2="161.30" y2="120.59" stroke="#555" stroke-width="0.8"/>
<line x1="159.90" y1="119.54" x2="161.30" y2="119.54" stroke="#555" stroke-width="0.8"/>
<line x1="159.90" y1="118.63" x2="161.30" y2="118.63" stroke="#555" stroke-width="0.8"/>
<line x1="159.90" y1="117.82" x2="161.30" y2="117.82" stroke="#555" stroke-width="0.8"/>
<line x1="159.60" y1="117.10" x2="161.80" y2="117.10" stroke="#222" stroke-width="1.3"/>
<line x1="159.90" y1="112.36" x2="161.30" y2="112.36" stroke="#555" stroke-width="0.8"/>
<line x1="159.90" y1="109.59" x2="161.30" y2="109.59" stroke="#555" stroke-width="0.8"/>
<line x1="159.90" y1="107.62" x2="161.30" y2="107.62" stroke="#555" stroke-width="0.8"/>
<line x1="159.90" y1="106.09" x2="161.30" y2="106.09" stroke="#555" stroke-width="0.8"/>
<line x1="159.90" y1="104.84" x2="161.30" y2="104.84" stroke="#555" stroke-width="0.8"/>
<line x1="159.90" y1="103.79" x2="161.30" y2="103.79" stroke="#555" stroke-width="0.8"/>
<line x1="159.90" y1="102.88" x2="161.30" y2="102.88" stroke="#555" stroke-width="0.8"/>
<line x1="159.90" y1="102.07" x2="161.30" y2="102.07" stroke="#555" stroke-width="0.8"/>
<line x1="159.60" y1="101.35" x2="161.80" y2="101.35" stroke="#222" stroke-width="1.3"/>
<line x1="159.90" y1="96.61" x2="161.30" y2="96.61" stroke="#555" stroke-width="0.8"/>
<line x1="159.90" y1="93.84" x2="161.30" y2="93.84" stroke="#555" stroke-width="0.8"/>
<line x1="159.90" y1="91.87" x2="161.30" y2="91.87" stroke="#555" stroke-width="0.8"/>
<line x1="159.90" y1="90.34" x2="161.30" y2="90.34" stroke="#555" stroke-width="0.8"/>
<line x1="159.90" y1="89.09" x2="161.30" y2="89.09" stroke="#555" stroke-width="0.8"/>
<line x1="159.90" y1="88.04" x2="161.30" y2="88.04" stroke="#555" stroke-width="0.8"/>
<line x1="159.90" y1="87.13" x2="161.30" y2="87.13" stroke="#555" stroke-width="0.8"/>
<line x1="159.90" y1="86.32" x2="161.30" y2="86.32" stroke="#555" stroke-width="0.8"/>
<line x1="159.60" y1="86.10" x2="161.80" y2="86.10" stroke="#222" stroke-width="1.2"/>
<line x1="159.90" y1="148.60" x2="223.00" y2="148.60" stroke="#111" stroke-width="1.9"/>
<line x1="160.40" y1="149.80" x2="222.50" y2="149.80" stroke="#333" stroke-width="0.8" stroke-dasharray="0.8 1.7"/>
<rect x="198.30" y="100.00" width="20.10" height="21.60" fill="none" stroke="#4a3a3a" stroke-width="1.1"/>
<text x="214.60" y="133.80" font-size="6.6" font-weight="bold" text-anchor="middle" fill="#222">15.3</text>
<clipPath id="fc317"><rect x="317.60" y="84.60" width="62.70" height="62.60"/></clipPath>
<g clip-path="url(#fc317)"><g filter="url(#bl)">
<rect x="376.5" y="132.0" width="1.1" height="1.1" fill="#b9c4f2"/>
<rect x="365.9" y="109.9" width="1.1" height="1.1" fill="#7890ec"/>
<rect x="363.5" y="104.0" width="1.1" height="1.1" fill="#a8a0e8"/>
<rect x="377.9" y="128.9" width="1.1" height="1.1" fill="#8ea4f0"/>
<rect x="336.3" y="104.2" width="1.1" height="1.1" fill="#a8a0e8"/>
<rect x="345.7" y="116.0" width="1.1" height="1.1" fill="#6f8cf0"/>
<rect x="349.5" y="131.8" width="1.1" height="1.1" fill="#8ea4f0"/>
<rect x="344.8" y="124.1" width="1.1" height="1.1" fill="#c8b8ee"/>
<rect x="348.4" y="108.9" width="1.1" height="1.1" fill="#d0d8f8"/>
<rect x="330.1" y="107.7" width="1.1" height="1.1" fill="#8ea4f0"/>
<rect x="351.5" y="111.7" width="1.1" height="1.1" fill="#b9c4f2"/>
<rect x="329.7" y="116.3" width="1.1" height="1.1" fill="#9fb0ee"/>
<rect x="331.7" y="114.6" width="1.1" height="1.1" fill="#c8b8ee"/>
<rect x="359.8" y="122.9" width="1.1" height="1.1" fill="#6f8cf0"/>
<rect x="333.8" y="111.4" width="1.1" height="1.1" fill="#6f8cf0"/>
<rect x="327.7" y="130.1" width="1.1" height="1.1" fill="#d0d8f8"/>
<rect x="327.7" y="133.3" width="1.1" height="1.1" fill="#8ea4f0"/>
<rect x="339.3" y="138.3" width="1.1" height="1.1" fill="#a8a0e8"/>
<rect x="364.1" y="108.0" width="1.1" height="1.1" fill="#c8b8ee"/>
<rect x="354.7" y="121.7" width="1.1" height="1.1" fill="#a8a0e8"/>
<rect x="368.2" y="105.4" width="1.1" height="1.1" fill="#d0d8f8"/>
<rect x="320.7" y="122.9" width="1.1" height="1.1" fill="#b9c4f2"/>
<rect x="323.5" y="113.2" width="1.1" height="1.1" fill="#8ea4f0"/>
<rect x="326.4" y="114.5" width="1.1" height="1.1" fill="#9fb0ee"/>
<rect x="329.4" y="120.9" width="1.1" height="1.1" fill="#7890ec"/>
<rect x="336.8" y="126.2" width="1.1" height="1.1" fill="#b9c4f2"/>
<rect x="320.6" y="146.6" width="1.1" height="1.1" fill="#6f8cf0"/>
<rect x="324.9" y="133.7" width="1.1" height="1.1" fill="#d0d8f8"/>
<rect x="326.3" y="123.0" width="1.1" height="1.1" fill="#a8a0e8"/>
<rect x="348.3" y="136.8" width="1.1" height="1.1" fill="#7890ec"/>
<rect x="320.5" y="143.2" width="1.1" height="1.1" fill="#d0d8f8"/>
<rect x="356.4" y="144.0" width="1.1" height="1.1" fill="#d0d8f8"/>
<rect x="357.9" y="103.7" width="1.1" height="1.1" fill="#b9c4f2"/>
<rect x="321.5" y="118.6" width="1.1" height="1.1" fill="#c8b8ee"/>
<rect x="337.2" y="108.7" width="1.1" height="1.1" fill="#c8b8ee"/>
<rect x="325.9" y="133.8" width="1.1" height="1.1" fill="#d0d8f8"/>
<rect x="363.1" y="115.4" width="1.1" height="1.1" fill="#c8b8ee"/>
<rect x="357.5" y="116.7" width="1.1" height="1.1" fill="#8ea4f0"/>
<rect x="341.4" y="125.9" width="1.1" height="1.1" fill="#7890ec"/>
<rect x="368.6" y="111.9" width="1.1" height="1.1" fill="#b9c4f2"/>
<rect x="322.4" y="126.6" width="1.1" height="1.1" fill="#a8a0e8"/>
<rect x="372.5" y="144.4" width="1.1" height="1.1" fill="#6f8cf0"/>
<rect x="344.5" y="134.3" width="1.1" height="1.1" fill="#d0d8f8"/>
<rect x="355.0" y="129.4" width="1.1" height="1.1" fill="#c8b8ee"/>
<rect x="359.9" y="107.7" width="1.1" height="1.1" fill="#6f8cf0"/>
<rect x="356.9" y="118.9" width="1.1" height="1.1" fill="#b9c4f2"/>
<rect x="369.3" y="122.5" width="1.1" height="1.1" fill="#8ea4f0"/>
<rect x="361.9" y="100.1" width="1.1" height="1.1" fill="#a8a0e8"/>
<rect x="328.3" y="103.4" width="1.1" height="1.1" fill="#b9c4f2"/>
<rect x="349.8" y="119.8" width="1.1" height="1.1" fill="#7890ec"/>
<rect x="323.6" y="100.4" width="1.1" height="1.1" fill="#c8b8ee"/>
<rect x="372.4" y="107.7" width="1.1" height="1.1" fill="#d0d8f8"/>
<rect x="320.2" y="137.8" width="1.1" height="1.1" fill="#7890ec"/>
<rect x="352.9" y="122.0" width="1.1" height="1.1" fill="#7890ec"/>
<rect x="350.0" y="120.1" width="1.1" height="1.1" fill="#c8b8ee"/>
<rect x="376.5" y="145.2" width="1.1" height="1.1" fill="#9fb0ee"/>
<rect x="367.0" y="102.8" width="1.1" height="1.1" fill="#7890ec"/>
<rect x="355.3" y="114.0" width="1.1" height="1.1" fill="#a8a0e8"/>
<rect x="375.3" y="122.6" width="1.1" height="1.1" fill="#c8b8ee"/>
<rect x="337.4" y="116.1" width="1.1" height="1.1" fill="#b9c4f2"/>
<rect x="369.2" y="110.5" width="1.1" height="1.1" fill="#6f8cf0"/>
<rect x="360.1" y="106.9" width="1.1" height="1.1" fill="#7890ec"/>
<rect x="352.2" y="144.3" width="1.1" height="1.1" fill="#7890ec"/>
<rect x="350.7" y="126.5" width="1.1" height="1.1" fill="#a8a0e8"/>
<rect x="335.1" y="110.7" width="1.1" height="1.1" fill="#8ea4f0"/>
<rect x="351.8" y="105.3" width="1.1" height="1.1" fill="#d0d8f8"/>
<rect x="357.7" y="108.8" width="1.1" height="1.1" fill="#d0d8f8"/>
<rect x="361.1" y="110.7" width="1.1" height="1.1" fill="#6f8cf0"/>
<rect x="333.1" y="126.9" width="1.1" height="1.1" fill="#9fb0ee"/>
<rect x="362.7" y="142.7" width="1.1" height="1.1" fill="#9fb0ee"/>
<rect x="369.4" y="131.9" width="1.1" height="1.1" fill="#6f8cf0"/>
<rect x="327.8" y="123.6" width="1.1" height="1.1" fill="#9fb0ee"/>
<rect x="356.3" y="145.1" width="1.1" height="1.1" fill="#9fb0ee"/>
<rect x="346.7" y="132.2" width="1.1" height="1.1" fill="#c8b8ee"/>
<rect x="376.1" y="109.0" width="1.1" height="1.1" fill="#6f8cf0"/>
<rect x="364.9" y="106.4" width="1.1" height="1.1" fill="#b9c4f2"/>
<rect x="343.5" y="102.2" width="1.1" height="1.1" fill="#b9c4f2"/>
<rect x="320.9" y="127.9" width="1.1" height="1.1" fill="#8ea4f0"/>
<rect x="346.7" y="105.7" width="1.1" height="1.1" fill="#c8b8ee"/>
<rect x="344.7" y="141.8" width="1.1" height="1.1" fill="#8ea4f0"/>
<rect x="352.7" y="143.1" width="1.1" height="1.1" fill="#7890ec"/>
<rect x="329.7" y="135.0" width="1.1" height="1.1" fill="#7890ec"/>
<rect x="366.6" y="134.6" width="1.1" height="1.1" fill="#b9c4f2"/>
<rect x="367.9" y="105.8" width="1.1" height="1.1" fill="#7890ec"/>
<rect x="349.8" y="124.7" width="1.1" height="1.1" fill="#7890ec"/>
<rect x="361.9" y="102.0" width="1.1" height="1.1" fill="#7890ec"/>
<rect x="325.8" y="125.8" width="1.1" height="1.1" fill="#9fb0ee"/>
<rect x="322.0" y="142.8" width="1.1" height="1.1" fill="#8ea4f0"/>
<rect x="334.8" y="109.1" width="1.1" height="1.1" fill="#6f8cf0"/>
<rect x="321.2" y="146.5" width="1.1" height="1.1" fill="#6f8cf0"/>
<rect x="326.6" y="101.0" width="1.1" height="1.1" fill="#9fb0ee"/>
<rect x="324.3" y="112.1" width="1.1" height="1.1" fill="#c8b8ee"/>
<rect x="352.1" y="113.6" width="1.1" height="1.1" fill="#a8a0e8"/>
<rect x="368.5" y="127.7" width="1.1" height="1.1" fill="#d0d8f8"/>
<rect x="351.2" y="132.4" width="1.1" height="1.1" fill="#d0d8f8"/>
<rect x="375.0" y="100.6" width="1.1" height="1.1" fill="#7890ec"/>
<rect x="377.7" y="122.9" width="1.1" height="1.1" fill="#6f8cf0"/>
<rect x="370.6" y="137.6" width="1.1" height="1.1" fill="#b9c4f2"/>
<rect x="324.3" y="129.2" width="1.1" height="1.1" fill="#a8a0e8"/>
<rect x="368.9" y="145.5" width="1.1" height="1.1" fill="#6f8cf0"/>
<rect x="342.8" y="141.0" width="1.1" height="1.1" fill="#9fb0ee"/>
<rect x="340.9" y="124.8" width="1.1" height="1.1" fill="#d0d8f8"/>
<rect x="371.9" y="127.7" width="1.1" height="1.1" fill="#b9c4f2"/>
<rect x="332.3" y="138.5" width="1.1" height="1.1" fill="#6f8cf0"/>
<rect x="339.2" y="122.0" width="1.1" height="1.1" fill="#7890ec"/>
<rect x="338.2" y="115.8" width="1.1" height="1.1" fill="#6f8cf0"/>
<rect x="339.4" y="101.0" width="1.1" height="1.1" fill="#6f8cf0"/>
<rect x="370.8" y="128.6" width="1.1" height="1.1" fill="#c8b8ee"/>
<rect x="362.2" y="106.8" width="1.1" height="1.1" fill="#a8a0e8"/>
<rect x="335.9" y="123.5" width="1.1" height="1.1" fill="#d0d8f8"/>
<rect x="340.7" y="127.0" width="1.1" height="1.1" fill="#c8b8ee"/>
<rect x="377.5" y="101.6" width="1.1" height="1.1" fill="#9fb0ee"/>
<rect x="370.6" y="136.4" width="1.1" height="1.1" fill="#9fb0ee"/>
<rect x="341.0" y="113.2" width="1.1" height="1.1" fill="#8ea4f0"/>
<rect x="370.6" y="144.1" width="1.1" height="1.1" fill="#9fb0ee"/>
<rect x="337.6" y="135.9" width="1.1" height="1.1" fill="#7890ec"/>
<rect x="349.5" y="129.9" width="1.1" height="1.1" fill="#7890ec"/>
<rect x="370.6" y="133.6" width="1.1" height="1.1" fill="#7890ec"/>
<rect x="323.5" y="115.8" width="1.1" height="1.1" fill="#7890ec"/>
<rect x="371.3" y="136.8" width="1.1" height="1.1" fill="#7890ec"/>
<rect x="371.9" y="138.0" width="1.1" height="1.1" fill="#7890ec"/>
<rect x="328.7" y="109.7" width="1.1" height="1.1" fill="#6f8cf0"/>
<rect x="343.5" y="118.6" width="1.1" height="1.1" fill="#d0d8f8"/>
<rect x="373.9" y="127.6" width="1.1" height="1.1" fill="#c8b8ee"/>
<rect x="337.5" y="114.5" width="1.1" height="1.1" fill="#7890ec"/>
<rect x="324.3" y="108.9" width="1.1" height="1.1" fill="#9fb0ee"/>
<rect x="353.9" y="114.3" width="1.1" height="1.1" fill="#7890ec"/>
<rect x="377.3" y="116.8" width="1.1" height="1.1" fill="#a8a0e8"/>
<rect x="361.8" y="143.3" width="1.1" height="1.1" fill="#6f8cf0"/>
<rect x="338.5" y="108.2" width="1.1" height="1.1" fill="#d0d8f8"/>
<rect x="351.7" y="135.6" width="1.1" height="1.1" fill="#d0d8f8"/>
<rect x="333.7" y="100.9" width="1.1" height="1.1" fill="#b9c4f2"/>
<rect x="343.2" y="109.4" width="1.1" height="1.1" fill="#d0d8f8"/>
<rect x="370.1" y="130.5" width="1.1" height="1.1" fill="#8ea4f0"/>
<rect x="334.0" y="102.7" width="1.1" height="1.1" fill="#c8b8ee"/>
<rect x="354.9" y="103.7" width="1.1" height="1.1" fill="#7890ec"/>
<rect x="361.7" y="100.2" width="1.1" height="1.1" fill="#d0d8f8"/>
<rect x="351.1" y="141.1" width="1.1" height="1.1" fill="#7890ec"/>
<rect x="373.5" y="110.0" width="1.1" height="1.1" fill="#7890ec"/>
<rect x="370.3" y="101.3" width="1.1" height="1.1" fill="#6f8cf0"/>
<rect x="343.5" y="131.9" width="1.1" height="1.1" fill="#7890ec"/>
<rect x="330.1" y="140.6" width="1.1" height="1.1" fill="#b9c4f2"/>
<rect x="325.1" y="128.8" width="1.1" height="1.1" fill="#6f8cf0"/>
<rect x="377.3" y="118.8" width="1.1" height="1.1" fill="#6f8cf0"/>
<rect x="370.7" y="101.2" width="1.1" height="1.1" fill="#7890ec"/>
<rect x="352.7" y="146.4" width="1.1" height="1.1" fill="#b9c4f2"/>
<rect x="344.1" y="133.4" width="1.1" height="1.1" fill="#7890ec"/>
<rect x="329.1" y="100.9" width="1.1" height="1.1" fill="#8ea4f0"/>
<rect x="328.3" y="136.1" width="1.1" height="1.1" fill="#9fb0ee"/>
<rect x="340.8" y="117.0" width="1.1" height="1.1" fill="#7890ec"/>
<rect x="351.2" y="127.7" width="1.1" height="1.1" fill="#c8b8ee"/>
<rect x="358.1" y="128.3" width="1.1" height="1.1" fill="#7890ec"/>
<rect x="333.3" y="129.1" width="1.1" height="1.1" fill="#6f8cf0"/>
<rect x="364.3" y="136.5" width="1.1" height="1.1" fill="#d0d8f8"/>
<rect x="357.8" y="125.8" width="1.1" height="1.1" fill="#6f8cf0"/>
<rect x="352.4" y="117.0" width="1.1" height="1.1" fill="#d0d8f8"/>
<rect x="327.6" y="100.4" width="1.1" height="1.1" fill="#6f8cf0"/>
<rect x="325.8" y="138.0" width="1.1" height="1.1" fill="#7890ec"/>
<rect x="328.7" y="129.6" width="1.1" height="1.1" fill="#a8a0e8"/>
<rect x="363.9" y="104.2" width="1.1" height="1.1" fill="#b9c4f2"/>
<rect x="356.2" y="105.7" width="1.1" height="1.1" fill="#8ea4f0"/>
<rect x="352.2" y="108.5" width="1.1" height="1.1" fill="#7890ec"/>
<rect x="362.8" y="142.4" width="1.1" height="1.1" fill="#c8b8ee"/>
<rect x="350.7" y="116.5" width="1.1" height="1.1" fill="#8ea4f0"/>
<rect x="345.6" y="140.4" width="1.1" height="1.1" fill="#8ea4f0"/>
<rect x="356.9" y="116.2" width="1.1" height="1.1" fill="#a8a0e8"/>
<rect x="346.7" y="115.2" width="1.1" height="1.1" fill="#b9c4f2"/>
<rect x="326.3" y="134.5" width="1.1" height="1.1" fill="#9fb0ee"/>
<rect x="366.8" y="142.9" width="1.1" height="1.1" fill="#7890ec"/>
<rect x="323.5" y="126.5" width="1.1" height="1.1" fill="#a8a0e8"/>
<rect x="372.6" y="117.7" width="1.1" height="1.1" fill="#8ea4f0"/>
<rect x="321.8" y="101.0" width="1.1" height="1.1" fill="#a8a0e8"/>
<rect x="334.0" y="116.7" width="1.1" height="1.1" fill="#7890ec"/>
<rect x="364.0" y="130.2" width="1.1" height="1.1" fill="#d0d8f8"/>
<rect x="371.0" y="123.4" width="1.1" height="1.1" fill="#c8b8ee"/>
<rect x="347.7" y="143.9" width="1.1" height="1.1" fill="#d0d8f8"/>
<rect x="375.3" y="106.4" width="1.1" height="1.1" fill="#d0d8f8"/>
<rect x="336.4" y="115.6" width="1.1" height="1.1" fill="#6f8cf0"/>
<rect x="370.6" y="111.7" width="1.1" height="1.1" fill="#7890ec"/>
<rect x="359.6" y="128.1" width="1.1" height="1.1" fill="#6f8cf0"/>
<rect x="332.3" y="102.5" width="1.1" height="1.1" fill="#8ea4f0"/>
<rect x="369.4" y="134.6" width="1.1" height="1.1" fill="#b9c4f2"/>
<rect x="365.2" y="140.6" width="1.1" height="1.1" fill="#c8b8ee"/>
<rect x="345.2" y="106.6" width="1.1" height="1.1" fill="#d0d8f8"/>
<rect x="359.7" y="137.8" width="1.1" height="1.1" fill="#c8b8ee"/>
<rect x="376.5" y="100.4" width="1.1" height="1.1" fill="#d0d8f8"/>
<rect x="328.7" y="134.6" width="1.1" height="1.1" fill="#9fb0ee"/>
<rect x="363.6" y="121.8" width="1.1" height="1.1" fill="#a8a0e8"/>
<rect x="325.2" y="116.0" width="1.1" height="1.1" fill="#a8a0e8"/>
<rect x="371.2" y="146.0" width="1.1" height="1.1" fill="#b9c4f2"/>
<rect x="353.9" y="109.5" width="1.1" height="1.1" fill="#b9c4f2"/>
<rect x="322.2" y="123.7" width="1.1" height="1.1" fill="#8ea4f0"/>
<rect x="353.3" y="132.8" width="1.1" height="1.1" fill="#b9c4f2"/>
<rect x="322.8" y="142.0" width="1.1" height="1.1" fill="#9fb0ee"/>
<rect x="371.0" y="105.7" width="1.1" height="1.1" fill="#6f8cf0"/>
<rect x="376.3" y="124.7" width="1.1" height="1.1" fill="#b9c4f2"/>
<rect x="330.4" y="132.2" width="1.1" height="1.1" fill="#c8b8ee"/>
<rect x="356.7" y="125.6" width="1.1" height="1.1" fill="#9fb0ee"/>
<rect x="350.7" y="139.5" width="1.1" height="1.1" fill="#9fb0ee"/>
<rect x="340.3" y="110.1" width="1.1" height="1.1" fill="#8ea4f0"/>
<rect x="362.4" y="112.8" width="1.1" height="1.1" fill="#c8b8ee"/>
<rect x="320.9" y="112.6" width="1.1" height="1.1" fill="#b9c4f2"/>
<rect x="331.4" y="102.2" width="1.1" height="1.1" fill="#7890ec"/>
<rect x="335.5" y="115.3" width="1.1" height="1.1" fill="#b9c4f2"/>
<rect x="357.9" y="125.6" width="1.1" height="1.1" fill="#7890ec"/>
<rect x="360.0" y="146.2" width="1.1" height="1.1" fill="#d0d8f8"/>
<rect x="343.2" y="115.0" width="1.1" height="1.1" fill="#a8a0e8"/>
<rect x="342.2" y="107.1" width="1.1" height="1.1" fill="#a8a0e8"/>
<rect x="371.1" y="137.8" width="1.1" height="1.1" fill="#b9c4f2"/>
<rect x="333.9" y="123.5" width="1.1" height="1.1" fill="#d0d8f8"/>
<rect x="360.2" y="134.3" width="1.1" height="1.1" fill="#8ea4f0"/>
<rect x="367.9" y="131.2" width="1.1" height="1.1" fill="#9fb0ee"/>
<rect x="368.9" y="136.8" width="1.1" height="1.1" fill="#b9c4f2"/>
<rect x="343.5" y="126.3" width="1.1" height="1.1" fill="#6f8cf0"/>
<rect x="351.8" y="114.8" width="1.1" height="1.1" fill="#b9c4f2"/>
<rect x="347.5" y="130.4" width="1.1" height="1.1" fill="#6f8cf0"/>
<rect x="349.6" y="127.8" width="1.1" height="1.1" fill="#a8a0e8"/>
<rect x="333.6" y="129.6" width="1.1" height="1.1" fill="#a8a0e8"/>
<rect x="340.6" y="103.0" width="1.1" height="1.1" fill="#d0d8f8"/>
<rect x="355.5" y="131.8" width="1.1" height="1.1" fill="#7890ec"/>
<ellipse cx="341.00" cy="112.00" rx="22.00" ry="10.00" fill="url(#g0)"/>
<ellipse cx="336.00" cy="138.00" rx="22.00" ry="13.00" fill="url(#g0)" transform="rotate(-25 336.00 138.00)"/>
<ellipse cx="341.00" cy="112.00" rx="18.50" ry="8.00" fill="url(#g1)" opacity="0.38"/><ellipse cx="340.00" cy="112.00" rx="9.25" ry="4.00" fill="url(#g8)"/>
<ellipse cx="365.50" cy="113.00" rx="7.80" ry="9.80" fill="url(#g1)" opacity="0.6"/><ellipse cx="365.50" cy="113.00" rx="6.24" ry="7.84" fill="url(#g4)"/>
<ellipse cx="336.50" cy="138.00" rx="17.50" ry="11.50" fill="url(#g1)" opacity="0.5" transform="rotate(-30 336.50 138.00)"/>
<ellipse cx="341.00" cy="133.50" rx="8.50" ry="7.00" fill="url(#g1)" opacity="0" transform="rotate(-35 341.00 133.50)"/><ellipse cx="341.00" cy="133.50" rx="7.65" ry="6.30" fill="url(#g3)" transform="rotate(-35 341.00 133.50)"/>
<ellipse cx="338.50" cy="141.00" rx="7.00" ry="5.50" fill="url(#g1)" opacity="0" transform="rotate(-20 338.50 141.00)"/><ellipse cx="338.50" cy="141.00" rx="6.30" ry="4.95" fill="url(#g7)" transform="rotate(-20 338.50 141.00)"/>
<ellipse cx="361.00" cy="133.00" rx="8.00" ry="6.00" fill="url(#g0)"/>
<ellipse cx="361.00" cy="133.00" rx="6.50" ry="4.80" fill="url(#g1)" opacity="0.3"/>
</g></g>
<path d="M317.60,147.20 M317.60,84.60 L380.30,84.60 L380.30,147.20" fill="none" stroke="#4a4a4a" stroke-width="1.0"/>
<line x1="316.80" y1="147.20" x2="319.00" y2="147.20" stroke="#222" stroke-width="1.3"/>
<line x1="317.10" y1="142.49" x2="318.50" y2="142.49" stroke="#555" stroke-width="0.8"/>
<line x1="317.10" y1="139.73" x2="318.50" y2="139.73" stroke="#555" stroke-width="0.8"/>
<line x1="317.10" y1="137.78" x2="318.50" y2="137.78" stroke="#555" stroke-width="0.8"/>
<line x1="317.10" y1="136.26" x2="318.50" y2="136.26" stroke="#555" stroke-width="0.8"/>
<line x1="317.10" y1="135.02" x2="318.50" y2="135.02" stroke="#555" stroke-width="0.8"/>
<line x1="317.10" y1="133.97" x2="318.50" y2="133.97" stroke="#555" stroke-width="0.8"/>
<line x1="317.10" y1="133.07" x2="318.50" y2="133.07" stroke="#555" stroke-width="0.8"/>
<line x1="317.10" y1="132.27" x2="318.50" y2="132.27" stroke="#555" stroke-width="0.8"/>
<line x1="316.80" y1="131.55" x2="319.00" y2="131.55" stroke="#222" stroke-width="1.3"/>
<line x1="317.10" y1="126.84" x2="318.50" y2="126.84" stroke="#555" stroke-width="0.8"/>
<line x1="317.10" y1="124.08" x2="318.50" y2="124.08" stroke="#555" stroke-width="0.8"/>
<line x1="317.10" y1="122.13" x2="318.50" y2="122.13" stroke="#555" stroke-width="0.8"/>
<line x1="317.10" y1="120.61" x2="318.50" y2="120.61" stroke="#555" stroke-width="0.8"/>
<line x1="317.10" y1="119.37" x2="318.50" y2="119.37" stroke="#555" stroke-width="0.8"/>
<line x1="317.10" y1="118.32" x2="318.50" y2="118.32" stroke="#555" stroke-width="0.8"/>
<line x1="317.10" y1="117.42" x2="318.50" y2="117.42" stroke="#555" stroke-width="0.8"/>
<line x1="317.10" y1="116.62" x2="318.50" y2="116.62" stroke="#555" stroke-width="0.8"/>
<line x1="316.80" y1="115.90" x2="319.00" y2="115.90" stroke="#222" stroke-width="1.3"/>
<line x1="317.10" y1="111.19" x2="318.50" y2="111.19" stroke="#555" stroke-width="0.8"/>
<line x1="317.10" y1="108.43" x2="318.50" y2="108.43" stroke="#555" stroke-width="0.8"/>
<line x1="317.10" y1="106.48" x2="318.50" y2="106.48" stroke="#555" stroke-width="0.8"/>
<line x1="317.10" y1="104.96" x2="318.50" y2="104.96" stroke="#555" stroke-width="0.8"/>
<line x1="317.10" y1="103.72" x2="318.50" y2="103.72" stroke="#555" stroke-width="0.8"/>
<line x1="317.10" y1="102.67" x2="318.50" y2="102.67" stroke="#555" stroke-width="0.8"/>
<line x1="317.10" y1="101.77" x2="318.50" y2="101.77" stroke="#555" stroke-width="0.8"/>
<line x1="317.10" y1="100.97" x2="318.50" y2="100.97" stroke="#555" stroke-width="0.8"/>
<line x1="316.80" y1="100.25" x2="319.00" y2="100.25" stroke="#222" stroke-width="1.3"/>
<line x1="317.10" y1="95.54" x2="318.50" y2="95.54" stroke="#555" stroke-width="0.8"/>
<line x1="317.10" y1="92.78" x2="318.50" y2="92.78" stroke="#555" stroke-width="0.8"/>
<line x1="317.10" y1="90.83" x2="318.50" y2="90.83" stroke="#555" stroke-width="0.8"/>
<line x1="317.10" y1="89.31" x2="318.50" y2="89.31" stroke="#555" stroke-width="0.8"/>
<line x1="317.10" y1="88.07" x2="318.50" y2="88.07" stroke="#555" stroke-width="0.8"/>
<line x1="317.10" y1="87.02" x2="318.50" y2="87.02" stroke="#555" stroke-width="0.8"/>
<line x1="317.10" y1="86.12" x2="318.50" y2="86.12" stroke="#555" stroke-width="0.8"/>
<line x1="317.10" y1="85.32" x2="318.50" y2="85.32" stroke="#555" stroke-width="0.8"/>
<line x1="316.80" y1="85.10" x2="319.00" y2="85.10" stroke="#222" stroke-width="1.2"/>
<line x1="317.10" y1="147.20" x2="380.80" y2="147.20" stroke="#111" stroke-width="1.9"/>
<line x1="317.60" y1="148.40" x2="380.30" y2="148.40" stroke="#333" stroke-width="0.8" stroke-dasharray="0.8 1.7"/>
<rect x="358.50" y="102.70" width="16.40" height="19.20" fill="none" stroke="#4a3a3a" stroke-width="1.1"/>
<text x="365.60" y="97.00" font-size="6.6" font-weight="bold" text-anchor="middle" fill="#222">26.5</text>
<clipPath id="fc387"><rect x="387.60" y="84.60" width="62.70" height="62.60"/></clipPath>
<g clip-path="url(#fc387)"><g filter="url(#bl)">
<rect x="392.5" y="137.5" width="1.1" height="1.1" fill="#8ea4f0"/>
<rect x="422.3" y="136.0" width="1.1" height="1.1" fill="#d0d8f8"/>
<rect x="421.8" y="122.2" width="1.1" height="1.1" fill="#7890ec"/>
<rect x="408.3" y="122.4" width="1.1" height="1.1" fill="#8ea4f0"/>
<rect x="425.0" y="103.1" width="1.1" height="1.1" fill="#7890ec"/>
<rect x="408.3" y="124.8" width="1.1" height="1.1" fill="#7890ec"/>
<rect x="398.4" y="108.1" width="1.1" height="1.1" fill="#6f8cf0"/>
<rect x="396.2" y="144.5" width="1.1" height="1.1" fill="#b9c4f2"/>
<rect x="401.3" y="117.0" width="1.1" height="1.1" fill="#a8a0e8"/>
<rect x="394.3" y="107.2" width="1.1" height="1.1" fill="#d0d8f8"/>
<rect x="403.1" y="117.1" width="1.1" height="1.1" fill="#d0d8f8"/>
<rect x="405.8" y="104.1" width="1.1" height="1.1" fill="#a8a0e8"/>
<rect x="400.2" y="121.0" width="1.1" height="1.1" fill="#9fb0ee"/>
<rect x="405.7" y="122.5" width="1.1" height="1.1" fill="#c8b8ee"/>
<rect x="416.6" y="107.0" width="1.1" height="1.1" fill="#c8b8ee"/>
<rect x="402.8" y="124.5" width="1.1" height="1.1" fill="#8ea4f0"/>
<rect x="411.8" y="124.6" width="1.1" height="1.1" fill="#a8a0e8"/>
<rect x="398.9" y="126.1" width="1.1" height="1.1" fill="#b9c4f2"/>
<rect x="410.0" y="102.7" width="1.1" height="1.1" fill="#c8b8ee"/>
<rect x="400.7" y="125.6" width="1.1" height="1.1" fill="#7890ec"/>
<rect x="398.9" y="112.5" width="1.1" height="1.1" fill="#6f8cf0"/>
<rect x="393.2" y="129.9" width="1.1" height="1.1" fill="#9fb0ee"/>
<rect x="397.1" y="119.9" width="1.1" height="1.1" fill="#d0d8f8"/>
<rect x="411.6" y="117.5" width="1.1" height="1.1" fill="#b9c4f2"/>
<rect x="415.1" y="117.7" width="1.1" height="1.1" fill="#b9c4f2"/>
<rect x="414.9" y="113.9" width="1.1" height="1.1" fill="#a8a0e8"/>
<rect x="405.1" y="128.5" width="1.1" height="1.1" fill="#d0d8f8"/>
<rect x="402.3" y="118.1" width="1.1" height="1.1" fill="#c8b8ee"/>
<rect x="422.4" y="109.0" width="1.1" height="1.1" fill="#7890ec"/>
<rect x="392.2" y="109.5" width="1.1" height="1.1" fill="#9fb0ee"/>
<rect x="392.8" y="120.9" width="1.1" height="1.1" fill="#a8a0e8"/>
<rect x="408.4" y="123.3" width="1.1" height="1.1" fill="#b9c4f2"/>
<rect x="393.8" y="126.5" width="1.1" height="1.1" fill="#6f8cf0"/>
<rect x="414.5" y="120.5" width="1.1" height="1.1" fill="#6f8cf0"/>
<rect x="396.2" y="103.1" width="1.1" height="1.1" fill="#a8a0e8"/>
<rect x="407.2" y="124.1" width="1.1" height="1.1" fill="#b9c4f2"/>
<rect x="413.5" y="134.8" width="1.1" height="1.1" fill="#a8a0e8"/>
<rect x="409.0" y="143.5" width="1.1" height="1.1" fill="#d0d8f8"/>
<rect x="409.4" y="136.2" width="1.1" height="1.1" fill="#6f8cf0"/>
<rect x="394.1" y="110.4" width="1.1" height="1.1" fill="#9fb0ee"/>
<rect x="410.0" y="100.7" width="1.1" height="1.1" fill="#6f8cf0"/>
<rect x="393.1" y="135.4" width="1.1" height="1.1" fill="#6f8cf0"/>
<rect x="391.9" y="132.0" width="1.1" height="1.1" fill="#7890ec"/>
<rect x="406.9" y="102.6" width="1.1" height="1.1" fill="#a8a0e8"/>
<rect x="419.5" y="106.6" width="1.1" height="1.1" fill="#a8a0e8"/>
<rect x="418.6" y="141.0" width="1.1" height="1.1" fill="#c8b8ee"/>
<rect x="401.2" y="108.9" width="1.1" height="1.1" fill="#b9c4f2"/>
<rect x="396.5" y="125.3" width="1.1" height="1.1" fill="#d0d8f8"/>
<rect x="393.0" y="118.0" width="1.1" height="1.1" fill="#d0d8f8"/>
<rect x="409.4" y="124.0" width="1.1" height="1.1" fill="#a8a0e8"/>
<rect x="413.8" y="114.4" width="1.1" height="1.1" fill="#8ea4f0"/>
<rect x="420.3" y="137.7" width="1.1" height="1.1" fill="#d0d8f8"/>
<rect x="400.7" y="106.2" width="1.1" height="1.1" fill="#8ea4f0"/>
<rect x="408.8" y="117.6" width="1.1" height="1.1" fill="#6f8cf0"/>
<rect x="413.0" y="133.4" width="1.1" height="1.1" fill="#c8b8ee"/>
<rect x="402.8" y="137.7" width="1.1" height="1.1" fill="#8ea4f0"/>
<rect x="406.0" y="133.2" width="1.1" height="1.1" fill="#b9c4f2"/>
<rect x="415.5" y="100.4" width="1.1" height="1.1" fill="#9fb0ee"/>
<rect x="404.3" y="126.6" width="1.1" height="1.1" fill="#7890ec"/>
<rect x="391.2" y="110.3" width="1.1" height="1.1" fill="#6f8cf0"/>
<rect x="400.2" y="133.4" width="1.1" height="1.1" fill="#6f8cf0"/>
<rect x="404.2" y="134.2" width="1.1" height="1.1" fill="#8ea4f0"/>
<rect x="420.7" y="102.7" width="1.1" height="1.1" fill="#a8a0e8"/>
<rect x="420.0" y="105.8" width="1.1" height="1.1" fill="#c8b8ee"/>
<rect x="420.2" y="103.4" width="1.1" height="1.1" fill="#6f8cf0"/>
<rect x="396.3" y="143.4" width="1.1" height="1.1" fill="#c8b8ee"/>
<rect x="407.4" y="131.7" width="1.1" height="1.1" fill="#d0d8f8"/>
<rect x="418.1" y="125.1" width="1.1" height="1.1" fill="#c8b8ee"/>
<rect x="395.1" y="143.1" width="1.1" height="1.1" fill="#8ea4f0"/>
<rect x="408.1" y="121.9" width="1.1" height="1.1" fill="#8ea4f0"/>
<rect x="417.4" y="144.7" width="1.1" height="1.1" fill="#a8a0e8"/>
<rect x="397.8" y="139.2" width="1.1" height="1.1" fill="#6f8cf0"/>
<rect x="414.0" y="107.3" width="1.1" height="1.1" fill="#b9c4f2"/>
<rect x="422.3" y="106.3" width="1.1" height="1.1" fill="#c8b8ee"/>
<rect x="419.3" y="113.8" width="1.1" height="1.1" fill="#8ea4f0"/>
<rect x="420.6" y="137.5" width="1.1" height="1.1" fill="#c8b8ee"/>
<rect x="400.8" y="112.1" width="1.1" height="1.1" fill="#8ea4f0"/>
<rect x="395.3" y="137.6" width="1.1" height="1.1" fill="#8ea4f0"/>
<rect x="403.7" y="101.5" width="1.1" height="1.1" fill="#a8a0e8"/>
<rect x="395.5" y="113.7" width="1.1" height="1.1" fill="#9fb0ee"/>
<rect x="396.9" y="107.0" width="1.1" height="1.1" fill="#c8b8ee"/>
<rect x="405.0" y="131.9" width="1.1" height="1.1" fill="#9fb0ee"/>
<rect x="391.4" y="116.5" width="1.1" height="1.1" fill="#8ea4f0"/>
<rect x="424.9" y="144.2" width="1.1" height="1.1" fill="#9fb0ee"/>
<rect x="400.2" y="116.4" width="1.1" height="1.1" fill="#6f8cf0"/>
<rect x="421.1" y="142.9" width="1.1" height="1.1" fill="#8ea4f0"/>
<rect x="407.0" y="140.6" width="1.1" height="1.1" fill="#9fb0ee"/>
<rect x="397.0" y="122.1" width="1.1" height="1.1" fill="#8ea4f0"/>
<rect x="410.3" y="114.1" width="1.1" height="1.1" fill="#9fb0ee"/>
<rect x="423.9" y="116.2" width="1.1" height="1.1" fill="#c8b8ee"/>
<rect x="413.0" y="102.4" width="1.1" height="1.1" fill="#7890ec"/>
<rect x="402.3" y="122.6" width="1.1" height="1.1" fill="#7890ec"/>
<rect x="416.0" y="108.4" width="1.1" height="1.1" fill="#d0d8f8"/>
<rect x="418.3" y="134.0" width="1.1" height="1.1" fill="#6f8cf0"/>
<rect x="393.3" y="125.9" width="1.1" height="1.1" fill="#c8b8ee"/>
<rect x="410.8" y="121.7" width="1.1" height="1.1" fill="#b9c4f2"/>
<rect x="391.4" y="127.2" width="1.1" height="1.1" fill="#a8a0e8"/>
<rect x="412.6" y="106.2" width="1.1" height="1.1" fill="#7890ec"/>
<rect x="392.7" y="134.2" width="1.1" height="1.1" fill="#c8b8ee"/>
<rect x="402.6" y="131.1" width="1.1" height="1.1" fill="#9fb0ee"/>
<rect x="401.6" y="139.6" width="1.1" height="1.1" fill="#6f8cf0"/>
<rect x="400.6" y="112.3" width="1.1" height="1.1" fill="#9fb0ee"/>
<rect x="420.8" y="105.5" width="1.1" height="1.1" fill="#6f8cf0"/>
<rect x="399.5" y="125.4" width="1.1" height="1.1" fill="#7890ec"/>
<rect x="406.4" y="107.7" width="1.1" height="1.1" fill="#b9c4f2"/>
<rect x="407.7" y="117.2" width="1.1" height="1.1" fill="#8ea4f0"/>
<rect x="399.9" y="126.1" width="1.1" height="1.1" fill="#c8b8ee"/>
<rect x="421.8" y="134.1" width="1.1" height="1.1" fill="#8ea4f0"/>
<rect x="421.2" y="100.7" width="1.1" height="1.1" fill="#b9c4f2"/>
<rect x="407.1" y="137.2" width="1.1" height="1.1" fill="#8ea4f0"/>
<rect x="414.1" y="110.8" width="1.1" height="1.1" fill="#c8b8ee"/>
<rect x="395.4" y="112.4" width="1.1" height="1.1" fill="#b9c4f2"/>
<rect x="404.8" y="129.3" width="1.1" height="1.1" fill="#9fb0ee"/>
<rect x="400.2" y="141.9" width="1.1" height="1.1" fill="#9fb0ee"/>
<rect x="413.2" y="110.2" width="1.1" height="1.1" fill="#8ea4f0"/>
<rect x="410.8" y="136.8" width="1.1" height="1.1" fill="#b9c4f2"/>
<rect x="418.7" y="103.4" width="1.1" height="1.1" fill="#7890ec"/>
<rect x="424.4" y="101.9" width="1.1" height="1.1" fill="#c8b8ee"/>
<rect x="418.5" y="116.1" width="1.1" height="1.1" fill="#6f8cf0"/>
<rect x="410.7" y="108.6" width="1.1" height="1.1" fill="#7890ec"/>
<ellipse cx="403.00" cy="113.00" rx="19.00" ry="9.00" fill="url(#g0)"/>
<ellipse cx="409.00" cy="138.00" rx="14.00" ry="11.00" fill="url(#g0)"/>
<ellipse cx="404.00" cy="113.50" rx="15.00" ry="7.50" fill="url(#g1)" opacity="0.42"/>
<ellipse cx="411.50" cy="112.80" rx="7.50" ry="6.50" fill="url(#g1)" opacity="0.3"/><ellipse cx="411.50" cy="112.80" rx="6.38" ry="5.52" fill="url(#g4)"/>
<ellipse cx="411.50" cy="139.00" rx="9.50" ry="9.50" fill="url(#g1)" opacity="0.5"/><ellipse cx="411.50" cy="139.50" rx="5.70" ry="5.70" fill="url(#g4)"/>
</g></g>
<path d="M387.60,147.20 M387.60,84.60 L450.30,84.60 L450.30,147.20" fill="none" stroke="#4a4a4a" stroke-width="1.0"/>
<line x1="386.80" y1="147.20" x2="389.00" y2="147.20" stroke="#222" stroke-width="1.3"/>
<line x1="387.10" y1="142.49" x2="388.50" y2="142.49" stroke="#555" stroke-width="0.8"/>
<line x1="387.10" y1="139.73" x2="388.50" y2="139.73" stroke="#555" stroke-width="0.8"/>
<line x1="387.10" y1="137.78" x2="388.50" y2="137.78" stroke="#555" stroke-width="0.8"/>
<line x1="387.10" y1="136.26" x2="388.50" y2="136.26" stroke="#555" stroke-width="0.8"/>
<line x1="387.10" y1="135.02" x2="388.50" y2="135.02" stroke="#555" stroke-width="0.8"/>
<line x1="387.10" y1="133.97" x2="388.50" y2="133.97" stroke="#555" stroke-width="0.8"/>
<line x1="387.10" y1="133.07" x2="388.50" y2="133.07" stroke="#555" stroke-width="0.8"/>
<line x1="387.10" y1="132.27" x2="388.50" y2="132.27" stroke="#555" stroke-width="0.8"/>
<line x1="386.80" y1="131.55" x2="389.00" y2="131.55" stroke="#222" stroke-width="1.3"/>
<line x1="387.10" y1="126.84" x2="388.50" y2="126.84" stroke="#555" stroke-width="0.8"/>
<line x1="387.10" y1="124.08" x2="388.50" y2="124.08" stroke="#555" stroke-width="0.8"/>
<line x1="387.10" y1="122.13" x2="388.50" y2="122.13" stroke="#555" stroke-width="0.8"/>
<line x1="387.10" y1="120.61" x2="388.50" y2="120.61" stroke="#555" stroke-width="0.8"/>
<line x1="387.10" y1="119.37" x2="388.50" y2="119.37" stroke="#555" stroke-width="0.8"/>
<line x1="387.10" y1="118.32" x2="388.50" y2="118.32" stroke="#555" stroke-width="0.8"/>
<line x1="387.10" y1="117.42" x2="388.50" y2="117.42" stroke="#555" stroke-width="0.8"/>
<line x1="387.10" y1="116.62" x2="388.50" y2="116.62" stroke="#555" stroke-width="0.8"/>
<line x1="386.80" y1="115.90" x2="389.00" y2="115.90" stroke="#222" stroke-width="1.3"/>
<line x1="387.10" y1="111.19" x2="388.50" y2="111.19" stroke="#555" stroke-width="0.8"/>
<line x1="387.10" y1="108.43" x2="388.50" y2="108.43" stroke="#555" stroke-width="0.8"/>
<line x1="387.10" y1="106.48" x2="388.50" y2="106.48" stroke="#555" stroke-width="0.8"/>
<line x1="387.10" y1="104.96" x2="388.50" y2="104.96" stroke="#555" stroke-width="0.8"/>
<line x1="387.10" y1="103.72" x2="388.50" y2="103.72" stroke="#555" stroke-width="0.8"/>
<line x1="387.10" y1="102.67" x2="388.50" y2="102.67" stroke="#555" stroke-width="0.8"/>
<line x1="387.10" y1="101.77" x2="388.50" y2="101.77" stroke="#555" stroke-width="0.8"/>
<line x1="387.10" y1="100.97" x2="388.50" y2="100.97" stroke="#555" stroke-width="0.8"/>
<line x1="386.80" y1="100.25" x2="389.00" y2="100.25" stroke="#222" stroke-width="1.3"/>
<line x1="387.10" y1="95.54" x2="388.50" y2="95.54" stroke="#555" stroke-width="0.8"/>
<line x1="387.10" y1="92.78" x2="388.50" y2="92.78" stroke="#555" stroke-width="0.8"/>
<line x1="387.10" y1="90.83" x2="388.50" y2="90.83" stroke="#555" stroke-width="0.8"/>
<line x1="387.10" y1="89.31" x2="388.50" y2="89.31" stroke="#555" stroke-width="0.8"/>
<line x1="387.10" y1="88.07" x2="388.50" y2="88.07" stroke="#555" stroke-width="0.8"/>
<line x1="387.10" y1="87.02" x2="388.50" y2="87.02" stroke="#555" stroke-width="0.8"/>
<line x1="387.10" y1="86.12" x2="388.50" y2="86.12" stroke="#555" stroke-width="0.8"/>
<line x1="387.10" y1="85.32" x2="388.50" y2="85.32" stroke="#555" stroke-width="0.8"/>
<line x1="386.80" y1="85.10" x2="389.00" y2="85.10" stroke="#222" stroke-width="1.2"/>
<line x1="387.10" y1="147.20" x2="450.80" y2="147.20" stroke="#111" stroke-width="1.9"/>
<line x1="387.60" y1="148.40" x2="450.30" y2="148.40" stroke="#333" stroke-width="0.8" stroke-dasharray="0.8 1.7"/>
<rect x="424.60" y="105.50" width="24.10" height="19.00" fill="none" stroke="#4a3a3a" stroke-width="1.1"/>
<text x="436.00" y="100.00" font-size="6.6" font-weight="bold" text-anchor="middle" fill="#222">0.16</text>
<clipPath id="fc457"><rect x="457.50" y="85.10" width="82.50" height="62.50"/></clipPath>
<g clip-path="url(#fc457)"><g filter="url(#bl)">
<rect x="502.3" y="120.5" width="1.1" height="1.1" fill="#a8a0e8"/>
<rect x="461.5" y="137.5" width="1.1" height="1.1" fill="#c8b8ee"/>
<rect x="493.0" y="132.5" width="1.1" height="1.1" fill="#c8b8ee"/>
<rect x="495.9" y="136.7" width="1.1" height="1.1" fill="#8ea4f0"/>
<rect x="468.9" y="111.9" width="1.1" height="1.1" fill="#7890ec"/>
<rect x="491.9" y="105.0" width="1.1" height="1.1" fill="#b9c4f2"/>
<rect x="495.6" y="123.6" width="1.1" height="1.1" fill="#6f8cf0"/>
<rect x="483.6" y="116.9" width="1.1" height="1.1" fill="#9fb0ee"/>
<rect x="493.8" y="130.6" width="1.1" height="1.1" fill="#8ea4f0"/>
<rect x="499.0" y="104.3" width="1.1" height="1.1" fill="#7890ec"/>
<rect x="495.4" y="106.2" width="1.1" height="1.1" fill="#7890ec"/>
<rect x="486.2" y="138.2" width="1.1" height="1.1" fill="#6f8cf0"/>
<rect x="490.3" y="135.6" width="1.1" height="1.1" fill="#c8b8ee"/>
<rect x="471.7" y="133.2" width="1.1" height="1.1" fill="#d0d8f8"/>
<rect x="500.7" y="135.5" width="1.1" height="1.1" fill="#c8b8ee"/>
<rect x="479.6" y="139.1" width="1.1" height="1.1" fill="#d0d8f8"/>
<rect x="493.7" y="128.7" width="1.1" height="1.1" fill="#9fb0ee"/>
<rect x="463.1" y="137.2" width="1.1" height="1.1" fill="#d0d8f8"/>
<rect x="493.8" y="140.1" width="1.1" height="1.1" fill="#8ea4f0"/>
<rect x="468.9" y="122.6" width="1.1" height="1.1" fill="#8ea4f0"/>
<rect x="499.5" y="127.9" width="1.1" height="1.1" fill="#b9c4f2"/>
<rect x="477.6" y="137.3" width="1.1" height="1.1" fill="#7890ec"/>
<rect x="497.2" y="120.3" width="1.1" height="1.1" fill="#9fb0ee"/>
<rect x="470.3" y="132.2" width="1.1" height="1.1" fill="#7890ec"/>
<rect x="489.8" y="142.7" width="1.1" height="1.1" fill="#a8a0e8"/>
<rect x="495.7" y="102.2" width="1.1" height="1.1" fill="#6f8cf0"/>
<rect x="487.2" y="144.8" width="1.1" height="1.1" fill="#6f8cf0"/>
<rect x="478.8" y="129.2" width="1.1" height="1.1" fill="#6f8cf0"/>
<rect x="466.6" y="126.5" width="1.1" height="1.1" fill="#9fb0ee"/>
<rect x="475.9" y="140.0" width="1.1" height="1.1" fill="#b9c4f2"/>
<rect x="473.1" y="106.0" width="1.1" height="1.1" fill="#d0d8f8"/>
<rect x="468.4" y="142.0" width="1.1" height="1.1" fill="#a8a0e8"/>
<rect x="489.7" y="138.3" width="1.1" height="1.1" fill="#9fb0ee"/>
<rect x="469.7" y="130.2" width="1.1" height="1.1" fill="#a8a0e8"/>
<rect x="497.0" y="110.3" width="1.1" height="1.1" fill="#d0d8f8"/>
<rect x="475.0" y="108.8" width="1.1" height="1.1" fill="#c8b8ee"/>
<rect x="470.1" y="142.0" width="1.1" height="1.1" fill="#a8a0e8"/>
<rect x="473.9" y="116.3" width="1.1" height="1.1" fill="#8ea4f0"/>
<rect x="498.6" y="145.6" width="1.1" height="1.1" fill="#a8a0e8"/>
<rect x="483.7" y="102.0" width="1.1" height="1.1" fill="#c8b8ee"/>
<rect x="464.7" y="113.1" width="1.1" height="1.1" fill="#d0d8f8"/>
<rect x="493.1" y="132.4" width="1.1" height="1.1" fill="#a8a0e8"/>
<rect x="466.1" y="135.9" width="1.1" height="1.1" fill="#d0d8f8"/>
<rect x="490.0" y="105.4" width="1.1" height="1.1" fill="#7890ec"/>
<rect x="480.0" y="145.1" width="1.1" height="1.1" fill="#7890ec"/>
<rect x="473.7" y="133.9" width="1.1" height="1.1" fill="#a8a0e8"/>
<rect x="502.2" y="138.4" width="1.1" height="1.1" fill="#b9c4f2"/>
<rect x="500.8" y="124.4" width="1.1" height="1.1" fill="#7890ec"/>
<rect x="491.1" y="102.8" width="1.1" height="1.1" fill="#9fb0ee"/>
<rect x="485.1" y="122.1" width="1.1" height="1.1" fill="#c8b8ee"/>
<rect x="492.8" y="135.7" width="1.1" height="1.1" fill="#b9c4f2"/>
<rect x="502.7" y="123.7" width="1.1" height="1.1" fill="#b9c4f2"/>
<rect x="502.9" y="142.1" width="1.1" height="1.1" fill="#c8b8ee"/>
<rect x="468.4" y="143.3" width="1.1" height="1.1" fill="#b9c4f2"/>
<rect x="504.9" y="109.8" width="1.1" height="1.1" fill="#d0d8f8"/>
<rect x="488.2" y="112.9" width="1.1" height="1.1" fill="#b9c4f2"/>
<rect x="478.9" y="146.0" width="1.1" height="1.1" fill="#9fb0ee"/>
<rect x="496.2" y="132.4" width="1.1" height="1.1" fill="#a8a0e8"/>
<rect x="482.2" y="145.9" width="1.1" height="1.1" fill="#7890ec"/>
<rect x="491.1" y="114.5" width="1.1" height="1.1" fill="#c8b8ee"/>
<rect x="497.5" y="124.3" width="1.1" height="1.1" fill="#b9c4f2"/>
<rect x="495.7" y="117.6" width="1.1" height="1.1" fill="#c8b8ee"/>
<rect x="469.0" y="138.3" width="1.1" height="1.1" fill="#b9c4f2"/>
<rect x="467.3" y="135.2" width="1.1" height="1.1" fill="#c8b8ee"/>
<rect x="490.7" y="142.8" width="1.1" height="1.1" fill="#d0d8f8"/>
<rect x="503.7" y="137.0" width="1.1" height="1.1" fill="#7890ec"/>
<rect x="503.3" y="110.4" width="1.1" height="1.1" fill="#d0d8f8"/>
<rect x="500.1" y="123.4" width="1.1" height="1.1" fill="#7890ec"/>
<rect x="501.8" y="120.1" width="1.1" height="1.1" fill="#d0d8f8"/>
<rect x="476.3" y="116.4" width="1.1" height="1.1" fill="#6f8cf0"/>
<rect x="472.0" y="111.2" width="1.1" height="1.1" fill="#6f8cf0"/>
<rect x="482.6" y="120.4" width="1.1" height="1.1" fill="#c8b8ee"/>
<rect x="495.0" y="116.2" width="1.1" height="1.1" fill="#c8b8ee"/>
<rect x="472.6" y="126.1" width="1.1" height="1.1" fill="#a8a0e8"/>
<rect x="493.9" y="114.4" width="1.1" height="1.1" fill="#7890ec"/>
<rect x="492.3" y="119.8" width="1.1" height="1.1" fill="#d0d8f8"/>
<rect x="498.3" y="107.4" width="1.1" height="1.1" fill="#6f8cf0"/>
<rect x="494.7" y="103.9" width="1.1" height="1.1" fill="#d0d8f8"/>
<rect x="475.9" y="144.3" width="1.1" height="1.1" fill="#d0d8f8"/>
<rect x="504.1" y="141.9" width="1.1" height="1.1" fill="#9fb0ee"/>
<rect x="493.9" y="132.5" width="1.1" height="1.1" fill="#a8a0e8"/>
<rect x="497.5" y="134.0" width="1.1" height="1.1" fill="#d0d8f8"/>
<rect x="467.5" y="109.9" width="1.1" height="1.1" fill="#9fb0ee"/>
<rect x="494.9" y="119.8" width="1.1" height="1.1" fill="#7890ec"/>
<rect x="478.0" y="124.5" width="1.1" height="1.1" fill="#7890ec"/>
<rect x="475.7" y="110.4" width="1.1" height="1.1" fill="#c8b8ee"/>
<rect x="483.9" y="125.5" width="1.1" height="1.1" fill="#d0d8f8"/>
<rect x="466.0" y="117.2" width="1.1" height="1.1" fill="#9fb0ee"/>
<rect x="501.6" y="105.0" width="1.1" height="1.1" fill="#b9c4f2"/>
<rect x="498.3" y="132.1" width="1.1" height="1.1" fill="#a8a0e8"/>
<rect x="478.2" y="127.8" width="1.1" height="1.1" fill="#d0d8f8"/>
<rect x="495.3" y="132.6" width="1.1" height="1.1" fill="#c8b8ee"/>
<rect x="466.8" y="132.2" width="1.1" height="1.1" fill="#8ea4f0"/>
<rect x="482.5" y="142.4" width="1.1" height="1.1" fill="#b9c4f2"/>
<rect x="493.4" y="138.9" width="1.1" height="1.1" fill="#a8a0e8"/>
<rect x="499.5" y="107.9" width="1.1" height="1.1" fill="#a8a0e8"/>
<rect x="487.6" y="114.4" width="1.1" height="1.1" fill="#9fb0ee"/>
<rect x="494.7" y="129.2" width="1.1" height="1.1" fill="#d0d8f8"/>
<rect x="487.3" y="142.7" width="1.1" height="1.1" fill="#d0d8f8"/>
<rect x="464.2" y="132.4" width="1.1" height="1.1" fill="#9fb0ee"/>
<rect x="476.2" y="133.5" width="1.1" height="1.1" fill="#9fb0ee"/>
<rect x="465.5" y="144.9" width="1.1" height="1.1" fill="#8ea4f0"/>
<rect x="460.2" y="130.3" width="1.1" height="1.1" fill="#c8b8ee"/>
<rect x="480.1" y="124.7" width="1.1" height="1.1" fill="#6f8cf0"/>
<rect x="486.6" y="128.8" width="1.1" height="1.1" fill="#b9c4f2"/>
<rect x="461.8" y="139.2" width="1.1" height="1.1" fill="#9fb0ee"/>
<rect x="481.8" y="115.2" width="1.1" height="1.1" fill="#7890ec"/>
<rect x="503.4" y="125.9" width="1.1" height="1.1" fill="#8ea4f0"/>
<rect x="469.8" y="137.7" width="1.1" height="1.1" fill="#8ea4f0"/>
<rect x="472.7" y="145.8" width="1.1" height="1.1" fill="#b9c4f2"/>
<rect x="470.0" y="109.8" width="1.1" height="1.1" fill="#d0d8f8"/>
<rect x="479.1" y="104.8" width="1.1" height="1.1" fill="#d0d8f8"/>
<rect x="492.6" y="128.3" width="1.1" height="1.1" fill="#a8a0e8"/>
<rect x="477.6" y="145.0" width="1.1" height="1.1" fill="#a8a0e8"/>
<rect x="470.2" y="141.0" width="1.1" height="1.1" fill="#b9c4f2"/>
<rect x="496.2" y="145.3" width="1.1" height="1.1" fill="#7890ec"/>
<rect x="489.6" y="113.3" width="1.1" height="1.1" fill="#6f8cf0"/>
<rect x="485.9" y="121.4" width="1.1" height="1.1" fill="#6f8cf0"/>
<rect x="468.6" y="129.7" width="1.1" height="1.1" fill="#9fb0ee"/>
<rect x="478.1" y="114.7" width="1.1" height="1.1" fill="#8ea4f0"/>
<rect x="463.4" y="142.4" width="1.1" height="1.1" fill="#b9c4f2"/>
<rect x="479.7" y="110.9" width="1.1" height="1.1" fill="#8ea4f0"/>
<rect x="494.8" y="111.1" width="1.1" height="1.1" fill="#d0d8f8"/>
<rect x="493.6" y="144.7" width="1.1" height="1.1" fill="#b9c4f2"/>
<rect x="462.8" y="111.3" width="1.1" height="1.1" fill="#b9c4f2"/>
<rect x="497.6" y="130.9" width="1.1" height="1.1" fill="#d0d8f8"/>
<rect x="485.1" y="130.2" width="1.1" height="1.1" fill="#7890ec"/>
<rect x="504.6" y="115.8" width="1.1" height="1.1" fill="#b9c4f2"/>
<rect x="493.3" y="133.1" width="1.1" height="1.1" fill="#a8a0e8"/>
<rect x="500.5" y="138.2" width="1.1" height="1.1" fill="#6f8cf0"/>
<rect x="494.8" y="117.4" width="1.1" height="1.1" fill="#c8b8ee"/>
<rect x="476.4" y="141.8" width="1.1" height="1.1" fill="#6f8cf0"/>
<rect x="504.6" y="143.0" width="1.1" height="1.1" fill="#7890ec"/>
<rect x="481.4" y="139.0" width="1.1" height="1.1" fill="#c8b8ee"/>
<rect x="498.2" y="125.8" width="1.1" height="1.1" fill="#d0d8f8"/>
<rect x="482.9" y="111.4" width="1.1" height="1.1" fill="#d0d8f8"/>
<rect x="489.5" y="144.2" width="1.1" height="1.1" fill="#8ea4f0"/>
<rect x="492.0" y="144.5" width="1.1" height="1.1" fill="#a8a0e8"/>
<rect x="494.8" y="134.7" width="1.1" height="1.1" fill="#c8b8ee"/>
<rect x="496.5" y="139.9" width="1.1" height="1.1" fill="#c8b8ee"/>
<rect x="466.2" y="107.0" width="1.1" height="1.1" fill="#a8a0e8"/>
<rect x="461.2" y="138.6" width="1.1" height="1.1" fill="#9fb0ee"/>
<rect x="480.9" y="103.9" width="1.1" height="1.1" fill="#9fb0ee"/>
<rect x="498.6" y="117.2" width="1.1" height="1.1" fill="#6f8cf0"/>
<rect x="481.8" y="130.8" width="1.1" height="1.1" fill="#8ea4f0"/>
<rect x="460.3" y="111.2" width="1.1" height="1.1" fill="#7890ec"/>
<rect x="477.2" y="106.7" width="1.1" height="1.1" fill="#c8b8ee"/>
<rect x="502.5" y="121.8" width="1.1" height="1.1" fill="#6f8cf0"/>
<rect x="494.3" y="127.7" width="1.1" height="1.1" fill="#b9c4f2"/>
<rect x="498.8" y="109.6" width="1.1" height="1.1" fill="#8ea4f0"/>
<rect x="492.3" y="123.1" width="1.1" height="1.1" fill="#6f8cf0"/>
<rect x="487.3" y="107.3" width="1.1" height="1.1" fill="#6f8cf0"/>
<rect x="487.0" y="104.8" width="1.1" height="1.1" fill="#8ea4f0"/>
<rect x="496.0" y="142.0" width="1.1" height="1.1" fill="#b9c4f2"/>
<rect x="477.7" y="137.5" width="1.1" height="1.1" fill="#8ea4f0"/>
<rect x="488.5" y="135.4" width="1.1" height="1.1" fill="#b9c4f2"/>
<rect x="470.9" y="142.9" width="1.1" height="1.1" fill="#8ea4f0"/>
<rect x="496.1" y="103.7" width="1.1" height="1.1" fill="#b9c4f2"/>
<rect x="478.1" y="144.4" width="1.1" height="1.1" fill="#8ea4f0"/>
<rect x="494.9" y="104.0" width="1.1" height="1.1" fill="#a8a0e8"/>
<rect x="471.8" y="108.9" width="1.1" height="1.1" fill="#b9c4f2"/>
<rect x="481.5" y="145.0" width="1.1" height="1.1" fill="#9fb0ee"/>
<rect x="468.4" y="138.3" width="1.1" height="1.1" fill="#c8b8ee"/>
<rect x="487.7" y="116.5" width="1.1" height="1.1" fill="#a8a0e8"/>
<rect x="501.2" y="102.1" width="1.1" height="1.1" fill="#b9c4f2"/>
<rect x="485.0" y="139.0" width="1.1" height="1.1" fill="#9fb0ee"/>
<rect x="491.8" y="131.8" width="1.1" height="1.1" fill="#d0d8f8"/>
<rect x="480.6" y="132.2" width="1.1" height="1.1" fill="#8ea4f0"/>
<rect x="461.1" y="139.3" width="1.1" height="1.1" fill="#6f8cf0"/>
<rect x="469.4" y="133.9" width="1.1" height="1.1" fill="#8ea4f0"/>
<rect x="490.2" y="146.2" width="1.1" height="1.1" fill="#9fb0ee"/>
<rect x="484.6" y="117.9" width="1.1" height="1.1" fill="#9fb0ee"/>
<rect x="464.0" y="112.8" width="1.1" height="1.1" fill="#9fb0ee"/>
<rect x="464.0" y="114.3" width="1.1" height="1.1" fill="#d0d8f8"/>
<rect x="494.3" y="108.7" width="1.1" height="1.1" fill="#7890ec"/>
<rect x="494.6" y="102.3" width="1.1" height="1.1" fill="#9fb0ee"/>
<rect x="462.0" y="132.7" width="1.1" height="1.1" fill="#8ea4f0"/>
<rect x="483.4" y="122.5" width="1.1" height="1.1" fill="#a8a0e8"/>
<rect x="501.6" y="127.9" width="1.1" height="1.1" fill="#8ea4f0"/>
<rect x="501.2" y="135.0" width="1.1" height="1.1" fill="#9fb0ee"/>
<rect x="501.1" y="139.7" width="1.1" height="1.1" fill="#b9c4f2"/>
<rect x="490.2" y="108.1" width="1.1" height="1.1" fill="#a8a0e8"/>
<rect x="496.1" y="104.5" width="1.1" height="1.1" fill="#d0d8f8"/>
<rect x="479.9" y="133.8" width="1.1" height="1.1" fill="#d0d8f8"/>
<rect x="495.4" y="140.1" width="1.1" height="1.1" fill="#b9c4f2"/>
<rect x="474.6" y="106.3" width="1.1" height="1.1" fill="#6f8cf0"/>
<rect x="467.3" y="144.6" width="1.1" height="1.1" fill="#6f8cf0"/>
<rect x="494.3" y="139.7" width="1.1" height="1.1" fill="#7890ec"/>
<rect x="472.3" y="113.2" width="1.1" height="1.1" fill="#a8a0e8"/>
<rect x="484.2" y="117.3" width="1.1" height="1.1" fill="#7890ec"/>
<rect x="501.4" y="116.8" width="1.1" height="1.1" fill="#8ea4f0"/>
<rect x="500.0" y="137.8" width="1.1" height="1.1" fill="#c8b8ee"/>
<rect x="464.7" y="139.1" width="1.1" height="1.1" fill="#7890ec"/>
<rect x="479.1" y="117.2" width="1.1" height="1.1" fill="#9fb0ee"/>
<rect x="484.2" y="145.5" width="1.1" height="1.1" fill="#c8b8ee"/>
<rect x="469.5" y="104.4" width="1.1" height="1.1" fill="#8ea4f0"/>
<rect x="502.2" y="120.3" width="1.1" height="1.1" fill="#9fb0ee"/>
<rect x="489.2" y="111.8" width="1.1" height="1.1" fill="#b9c4f2"/>
<rect x="492.1" y="121.4" width="1.1" height="1.1" fill="#9fb0ee"/>
<rect x="504.5" y="109.9" width="1.1" height="1.1" fill="#6f8cf0"/>
<ellipse cx="476.00" cy="112.50" rx="18.00" ry="10.00" fill="url(#g0)"/>
<ellipse cx="476.00" cy="137.00" rx="17.00" ry="12.00" fill="url(#g0)"/>
<ellipse cx="476.00" cy="112.50" rx="15.00" ry="8.00" fill="url(#g1)" opacity="0.5"/><ellipse cx="478.00" cy="112.50" rx="8.25" ry="4.40" fill="url(#g7)"/>
<ellipse cx="497.50" cy="114.00" rx="7.50" ry="9.50" fill="url(#g1)" opacity="0.6"/><ellipse cx="497.50" cy="114.00" rx="5.25" ry="6.65" fill="url(#g3)"/>
<ellipse cx="477.00" cy="137.00" rx="13.50" ry="11.00" fill="url(#g1)" opacity="0.55"/><ellipse cx="478.00" cy="136.50" rx="7.43" ry="6.05" fill="url(#g3)"/>
<ellipse cx="493.20" cy="136.00" rx="5.00" ry="5.50" fill="url(#g1)" opacity="0.4"/><ellipse cx="493.20" cy="136.00" rx="3.00" ry="3.30" fill="url(#g8)"/>
</g></g>
<path d="M457.50,147.60 M457.50,85.10 L540.00,85.10 L540.00,147.60" fill="none" stroke="#4a4a4a" stroke-width="1.0"/>
<line x1="456.70" y1="147.60" x2="458.90" y2="147.60" stroke="#222" stroke-width="1.3"/>
<line x1="457.00" y1="142.90" x2="458.40" y2="142.90" stroke="#555" stroke-width="0.8"/>
<line x1="457.00" y1="140.14" x2="458.40" y2="140.14" stroke="#555" stroke-width="0.8"/>
<line x1="457.00" y1="138.19" x2="458.40" y2="138.19" stroke="#555" stroke-width="0.8"/>
<line x1="457.00" y1="136.68" x2="458.40" y2="136.68" stroke="#555" stroke-width="0.8"/>
<line x1="457.00" y1="135.44" x2="458.40" y2="135.44" stroke="#555" stroke-width="0.8"/>
<line x1="457.00" y1="134.40" x2="458.40" y2="134.40" stroke="#555" stroke-width="0.8"/>
<line x1="457.00" y1="133.49" x2="458.40" y2="133.49" stroke="#555" stroke-width="0.8"/>
<line x1="457.00" y1="132.69" x2="458.40" y2="132.69" stroke="#555" stroke-width="0.8"/>
<line x1="456.70" y1="131.97" x2="458.90" y2="131.97" stroke="#222" stroke-width="1.3"/>
<line x1="457.00" y1="127.27" x2="458.40" y2="127.27" stroke="#555" stroke-width="0.8"/>
<line x1="457.00" y1="124.52" x2="458.40" y2="124.52" stroke="#555" stroke-width="0.8"/>
<line x1="457.00" y1="122.57" x2="458.40" y2="122.57" stroke="#555" stroke-width="0.8"/>
<line x1="457.00" y1="121.05" x2="458.40" y2="121.05" stroke="#555" stroke-width="0.8"/>
<line x1="457.00" y1="119.82" x2="458.40" y2="119.82" stroke="#555" stroke-width="0.8"/>
<line x1="457.00" y1="118.77" x2="458.40" y2="118.77" stroke="#555" stroke-width="0.8"/>
<line x1="457.00" y1="117.86" x2="458.40" y2="117.86" stroke="#555" stroke-width="0.8"/>
<line x1="457.00" y1="117.06" x2="458.40" y2="117.06" stroke="#555" stroke-width="0.8"/>
<line x1="456.70" y1="116.35" x2="458.90" y2="116.35" stroke="#222" stroke-width="1.3"/>
<line x1="457.00" y1="111.65" x2="458.40" y2="111.65" stroke="#555" stroke-width="0.8"/>
<line x1="457.00" y1="108.89" x2="458.40" y2="108.89" stroke="#555" stroke-width="0.8"/>
<line x1="457.00" y1="106.94" x2="458.40" y2="106.94" stroke="#555" stroke-width="0.8"/>
<line x1="457.00" y1="105.43" x2="458.40" y2="105.43" stroke="#555" stroke-width="0.8"/>
<line x1="457.00" y1="104.19" x2="458.40" y2="104.19" stroke="#555" stroke-width="0.8"/>
<line x1="457.00" y1="103.15" x2="458.40" y2="103.15" stroke="#555" stroke-width="0.8"/>
<line x1="457.00" y1="102.24" x2="458.40" y2="102.24" stroke="#555" stroke-width="0.8"/>
<line x1="457.00" y1="101.44" x2="458.40" y2="101.44" stroke="#555" stroke-width="0.8"/>
<line x1="456.70" y1="100.72" x2="458.90" y2="100.72" stroke="#222" stroke-width="1.3"/>
<line x1="457.00" y1="96.02" x2="458.40" y2="96.02" stroke="#555" stroke-width="0.8"/>
<line x1="457.00" y1="93.27" x2="458.40" y2="93.27" stroke="#555" stroke-width="0.8"/>
<line x1="457.00" y1="91.32" x2="458.40" y2="91.32" stroke="#555" stroke-width="0.8"/>
<line x1="457.00" y1="89.80" x2="458.40" y2="89.80" stroke="#555" stroke-width="0.8"/>
<line x1="457.00" y1="88.57" x2="458.40" y2="88.57" stroke="#555" stroke-width="0.8"/>
<line x1="457.00" y1="87.52" x2="458.40" y2="87.52" stroke="#555" stroke-width="0.8"/>
<line x1="457.00" y1="86.61" x2="458.40" y2="86.61" stroke="#555" stroke-width="0.8"/>
<line x1="457.00" y1="85.81" x2="458.40" y2="85.81" stroke="#555" stroke-width="0.8"/>
<line x1="456.70" y1="85.60" x2="458.90" y2="85.60" stroke="#222" stroke-width="1.2"/>
<line x1="457.00" y1="147.60" x2="540.50" y2="147.60" stroke="#111" stroke-width="1.9"/>
<line x1="457.50" y1="148.80" x2="540.00" y2="148.80" stroke="#333" stroke-width="0.8" stroke-dasharray="0.8 1.7"/>
<rect x="491.00" y="105.50" width="21.50" height="16.80" fill="none" stroke="#4a3a3a" stroke-width="1.1"/>
<text x="499.70" y="98.60" font-size="6.6" font-weight="bold" text-anchor="middle" fill="#222">24.4</text>
<path d="M520.3,109.5 Q518.6,114.7 520.3,119.8" fill="none" stroke="#999" stroke-width="0.9"/>
<line x1="74.27" y1="208.70" x2="74.27" y2="325.90" stroke="#111" stroke-width="1.7" stroke-dasharray="3 2.1"/>
<line x1="77.45" y1="208.70" x2="77.45" y2="325.90" stroke="#111" stroke-width="1.7" stroke-dasharray="3 2.1"/>
<line x1="45.60" y1="208.60" x2="45.60" y2="326.80" stroke="#111" stroke-width="1.8"/>
<line x1="44.70" y1="325.90" x2="221.40" y2="325.90" stroke="#111" stroke-width="1.8"/>
<line x1="41.80" y1="325.90" x2="45.60" y2="325.90" stroke="#111" stroke-width="1.5"/>
<text x="40.50" y="329.65" font-size="8.2" font-weight="bold" text-anchor="end" fill="#111">0</text>
<line x1="41.80" y1="296.72" x2="45.60" y2="296.72" stroke="#111" stroke-width="1.5"/>
<text x="40.50" y="300.48" font-size="8.2" font-weight="bold" text-anchor="end" fill="#111">100</text>
<line x1="41.80" y1="267.55" x2="45.60" y2="267.55" stroke="#111" stroke-width="1.5"/>
<text x="40.50" y="271.30" font-size="8.2" font-weight="bold" text-anchor="end" fill="#111">200</text>
<line x1="41.80" y1="238.37" x2="45.60" y2="238.37" stroke="#111" stroke-width="1.5"/>
<text x="40.50" y="242.13" font-size="8.2" font-weight="bold" text-anchor="end" fill="#111">300</text>
<line x1="41.80" y1="209.20" x2="45.60" y2="209.20" stroke="#111" stroke-width="1.5"/>
<text x="40.50" y="212.95" font-size="8.2" font-weight="bold" text-anchor="end" fill="#111">400</text>
<line x1="45.60" y1="325.90" x2="45.60" y2="329.70" stroke="#111" stroke-width="1.5"/>
<text x="45.60" y="338.50" font-size="8.2" font-weight="bold" text-anchor="middle" fill="#111">-20</text>
<line x1="61.53" y1="325.90" x2="61.53" y2="329.70" stroke="#111" stroke-width="1.5"/>
<text x="61.53" y="338.50" font-size="8.2" font-weight="bold" text-anchor="middle" fill="#111">-10</text>
<line x1="77.45" y1="325.90" x2="77.45" y2="329.70" stroke="#111" stroke-width="1.5"/>
<text x="77.45" y="338.50" font-size="8.2" font-weight="bold" text-anchor="middle" fill="#111">0</text>
<line x1="93.38" y1="325.90" x2="93.38" y2="329.70" stroke="#111" stroke-width="1.5"/>
<text x="93.38" y="338.50" font-size="8.2" font-weight="bold" text-anchor="middle" fill="#111">10</text>
<line x1="109.31" y1="325.90" x2="109.31" y2="329.70" stroke="#111" stroke-width="1.5"/>
<text x="109.31" y="338.50" font-size="8.2" font-weight="bold" text-anchor="middle" fill="#111">20</text>
<line x1="125.24" y1="325.90" x2="125.24" y2="329.70" stroke="#111" stroke-width="1.5"/>
<text x="125.24" y="338.50" font-size="8.2" font-weight="bold" text-anchor="middle" fill="#111">30</text>
<line x1="141.16" y1="325.90" x2="141.16" y2="329.70" stroke="#111" stroke-width="1.5"/>
<text x="141.16" y="338.50" font-size="8.2" font-weight="bold" text-anchor="middle" fill="#111">40</text>
<line x1="157.09" y1="325.90" x2="157.09" y2="329.70" stroke="#111" stroke-width="1.5"/>
<text x="157.09" y="338.50" font-size="8.2" font-weight="bold" text-anchor="middle" fill="#111">50</text>
<line x1="173.02" y1="325.90" x2="173.02" y2="329.70" stroke="#111" stroke-width="1.5"/>
<text x="173.02" y="338.50" font-size="8.2" font-weight="bold" text-anchor="middle" fill="#111">60</text>
<line x1="188.95" y1="325.90" x2="188.95" y2="329.70" stroke="#111" stroke-width="1.5"/>
<text x="188.95" y="338.50" font-size="8.2" font-weight="bold" text-anchor="middle" fill="#111">70</text>
<line x1="204.87" y1="325.90" x2="204.87" y2="329.70" stroke="#111" stroke-width="1.5"/>
<text x="204.87" y="338.50" font-size="8.2" font-weight="bold" text-anchor="middle" fill="#111">80</text>
<line x1="220.80" y1="325.90" x2="220.80" y2="329.70" stroke="#111" stroke-width="1.5"/>
<text x="220.80" y="338.50" font-size="8.2" font-weight="bold" text-anchor="middle" fill="#111">90</text>
<text x="132.40" y="353.30" font-size="8.3" font-weight="bold" text-anchor="middle" fill="#111">Days</text>
<text x="11.30" y="267.00" font-size="8.6" font-weight="bold" text-anchor="middle" fill="#111" transform="rotate(-90 11.30 267.00)">% CD3+CD4+ in lymphogate</text>
<text x="21.40" y="268.70" font-size="8.6" font-weight="bold" text-anchor="middle" fill="#111" transform="rotate(-90 21.40 268.70)">(as % of baseline)</text>
<line x1="77.45" y1="297.89" x2="77.45" y2="294.97" stroke="#222" stroke-width="1.4"/>
<line x1="74.65" y1="297.89" x2="80.25" y2="297.89" stroke="#222" stroke-width="1.6"/>
<line x1="74.65" y1="294.97" x2="80.25" y2="294.97" stroke="#222" stroke-width="1.6"/>
<line x1="83.83" y1="285.05" x2="83.83" y2="274.55" stroke="#222" stroke-width="1.4"/>
<line x1="81.03" y1="285.05" x2="86.63" y2="285.05" stroke="#222" stroke-width="1.6"/>
<line x1="81.03" y1="274.55" x2="86.63" y2="274.55" stroke="#222" stroke-width="1.6"/>
<line x1="94.97" y1="297.60" x2="94.97" y2="293.22" stroke="#222" stroke-width="1.4"/>
<line x1="92.17" y1="297.60" x2="97.77" y2="297.60" stroke="#222" stroke-width="1.6"/>
<line x1="92.17" y1="293.22" x2="97.77" y2="293.22" stroke="#222" stroke-width="1.6"/>
<line x1="99.75" y1="295.27" x2="99.75" y2="288.85" stroke="#222" stroke-width="1.4"/>
<line x1="96.95" y1="295.27" x2="102.55" y2="295.27" stroke="#222" stroke-width="1.6"/>
<line x1="96.95" y1="288.85" x2="102.55" y2="288.85" stroke="#222" stroke-width="1.6"/>
<line x1="122.05" y1="301.39" x2="122.05" y2="297.31" stroke="#222" stroke-width="1.4"/>
<line x1="119.25" y1="301.39" x2="124.85" y2="301.39" stroke="#222" stroke-width="1.6"/>
<line x1="119.25" y1="297.31" x2="124.85" y2="297.31" stroke="#222" stroke-width="1.6"/>
<line x1="173.02" y1="298.77" x2="173.02" y2="289.43" stroke="#222" stroke-width="1.4"/>
<line x1="170.22" y1="298.77" x2="175.82" y2="298.77" stroke="#222" stroke-width="1.6"/>
<line x1="170.22" y1="289.43" x2="175.82" y2="289.43" stroke="#222" stroke-width="1.6"/>
<polyline points="55.16,296.72 77.45,296.43 83.83,280.39 88.60,290.60 94.97,295.27 99.75,292.06 110.90,296.72 122.05,299.35 173.02,294.39 220.80,289.43" fill="none" stroke="#111" stroke-width="2.0" stroke-linejoin="round"/>
<rect x="52.86" y="294.42" width="4.6" height="4.6" fill="#111"/>
<rect x="75.15" y="294.13" width="4.6" height="4.6" fill="#111"/>
<rect x="81.53" y="278.09" width="4.6" height="4.6" fill="#111"/>
<rect x="86.30" y="288.30" width="4.6" height="4.6" fill="#111"/>
<rect x="92.67" y="292.97" width="4.6" height="4.6" fill="#111"/>
<rect x="97.45" y="289.76" width="4.6" height="4.6" fill="#111"/>
<rect x="108.60" y="294.42" width="4.6" height="4.6" fill="#111"/>
<rect x="119.75" y="297.05" width="4.6" height="4.6" fill="#111"/>
<rect x="170.72" y="292.09" width="4.6" height="4.6" fill="#111"/>
<rect x="218.50" y="287.13" width="4.6" height="4.6" fill="#111"/>
<line x1="76.50" y1="297.02" x2="76.50" y2="249.17" stroke="#bb3a52" stroke-width="1.3"/>
<line x1="73.70" y1="297.02" x2="79.30" y2="297.02" stroke="#bb3a52" stroke-width="1.5"/>
<line x1="73.70" y1="249.17" x2="79.30" y2="249.17" stroke="#bb3a52" stroke-width="1.5"/>
<line x1="83.83" y1="256.76" x2="83.83" y2="217.37" stroke="#bb3a52" stroke-width="1.3"/>
<line x1="81.03" y1="256.76" x2="86.63" y2="256.76" stroke="#bb3a52" stroke-width="1.5"/>
<line x1="81.03" y1="217.37" x2="86.63" y2="217.37" stroke="#bb3a52" stroke-width="1.5"/>
<line x1="88.60" y1="257.92" x2="88.60" y2="215.33" stroke="#bb3a52" stroke-width="1.3"/>
<line x1="85.80" y1="257.92" x2="91.40" y2="257.92" stroke="#bb3a52" stroke-width="1.5"/>
<line x1="85.80" y1="215.33" x2="91.40" y2="215.33" stroke="#bb3a52" stroke-width="1.5"/>
<line x1="94.97" y1="287.68" x2="94.97" y2="255.88" stroke="#bb3a52" stroke-width="1.3"/>
<line x1="92.17" y1="287.68" x2="97.77" y2="287.68" stroke="#bb3a52" stroke-width="1.5"/>
<line x1="92.17" y1="255.88" x2="97.77" y2="255.88" stroke="#bb3a52" stroke-width="1.5"/>
<line x1="99.75" y1="263.17" x2="99.75" y2="224.95" stroke="#bb3a52" stroke-width="1.3"/>
<line x1="96.95" y1="263.17" x2="102.55" y2="263.17" stroke="#bb3a52" stroke-width="1.5"/>
<line x1="96.95" y1="224.95" x2="102.55" y2="224.95" stroke="#bb3a52" stroke-width="1.5"/>
<line x1="110.90" y1="279.80" x2="110.90" y2="227.29" stroke="#bb3a52" stroke-width="1.3"/>
<line x1="108.10" y1="279.80" x2="113.70" y2="279.80" stroke="#bb3a52" stroke-width="1.5"/>
<line x1="108.10" y1="227.29" x2="113.70" y2="227.29" stroke="#bb3a52" stroke-width="1.5"/>
<line x1="122.05" y1="290.60" x2="122.05" y2="257.05" stroke="#bb3a52" stroke-width="1.3"/>
<line x1="119.25" y1="290.60" x2="124.85" y2="290.60" stroke="#bb3a52" stroke-width="1.5"/>
<line x1="119.25" y1="257.05" x2="124.85" y2="257.05" stroke="#bb3a52" stroke-width="1.5"/>
<line x1="173.02" y1="290.01" x2="173.02" y2="243.33" stroke="#bb3a52" stroke-width="1.3"/>
<line x1="170.22" y1="290.01" x2="175.82" y2="290.01" stroke="#bb3a52" stroke-width="1.5"/>
<line x1="170.22" y1="243.33" x2="175.82" y2="243.33" stroke="#bb3a52" stroke-width="1.5"/>
<line x1="220.80" y1="264.63" x2="220.80" y2="222.62" stroke="#bb3a52" stroke-width="1.3"/>
<line x1="218.00" y1="264.63" x2="223.60" y2="264.63" stroke="#bb3a52" stroke-width="1.5"/>
<line x1="218.00" y1="222.62" x2="223.60" y2="222.62" stroke="#bb3a52" stroke-width="1.5"/>
<polyline points="55.16,296.72 76.50,273.09 83.83,236.92 88.60,236.92 94.97,271.05 99.75,244.21 110.90,254.13 122.05,274.26 173.02,266.97 220.80,244.21" fill="none" stroke="#e0161e" stroke-width="2.3" stroke-linejoin="round"/>
<path d="M52.56,298.52 L57.76,298.52 L55.16,294.12 Z" fill="#e0161e"/>
<path d="M73.90,274.89 L79.10,274.89 L76.50,270.49 Z" fill="#e0161e"/>
<path d="M81.23,238.72 L86.43,238.72 L83.83,234.32 Z" fill="#e0161e"/>
<path d="M86.00,238.72 L91.20,238.72 L88.60,234.32 Z" fill="#e0161e"/>
<path d="M92.37,272.85 L97.57,272.85 L94.97,268.45 Z" fill="#e0161e"/>
<path d="M97.15,246.01 L102.35,246.01 L99.75,241.61 Z" fill="#e0161e"/>
<path d="M108.30,255.93 L113.50,255.93 L110.90,251.53 Z" fill="#e0161e"/>
<path d="M119.45,276.06 L124.65,276.06 L122.05,271.66 Z" fill="#e0161e"/>
<path d="M170.42,268.77 L175.62,268.77 L173.02,264.37 Z" fill="#e0161e"/>
<path d="M218.20,246.01 L223.40,246.01 L220.80,241.61 Z" fill="#e0161e"/>
<line x1="164.00" y1="207.20" x2="181.00" y2="207.20" stroke="#111" stroke-width="1.9"/>
<rect x="170.30" y="205.00" width="4.4" height="4.4" fill="#111"/>
<text x="0" y="0" font-size="9.5" font-weight="normal" text-anchor="start" fill="#222" transform="translate(183.20 209.80) rotate(0) scale(0.97 1)">SMs</text>
<line x1="164.00" y1="221.00" x2="181.00" y2="221.00" stroke="#e0161e" stroke-width="1.9"/>
<path d="M170.10,222.70 L174.90,222.70 L172.50,218.60 Z" fill="#e0161e"/>
<text x="0" y="0" font-size="9.5" font-weight="normal" text-anchor="start" fill="#222" transform="translate(183.20 223.60) rotate(0) scale(0.97 1)">RMs</text>
<line x1="364.50" y1="208.40" x2="364.50" y2="325.70" stroke="#111" stroke-width="1.7" stroke-dasharray="3 2.1"/>
<line x1="367.69" y1="208.40" x2="367.69" y2="325.70" stroke="#111" stroke-width="1.7" stroke-dasharray="3 2.1"/>
<line x1="335.80" y1="208.30" x2="335.80" y2="326.60" stroke="#111" stroke-width="1.8"/>
<line x1="334.90" y1="325.70" x2="511.80" y2="325.70" stroke="#111" stroke-width="1.8"/>
<line x1="332.00" y1="325.70" x2="335.80" y2="325.70" stroke="#111" stroke-width="1.5"/>
<text x="330.70" y="329.45" font-size="8.2" font-weight="bold" text-anchor="end" fill="#111">0</text>
<line x1="332.00" y1="296.50" x2="335.80" y2="296.50" stroke="#111" stroke-width="1.5"/>
<text x="330.70" y="300.25" font-size="8.2" font-weight="bold" text-anchor="end" fill="#111">50</text>
<line x1="332.00" y1="267.30" x2="335.80" y2="267.30" stroke="#111" stroke-width="1.5"/>
<text x="330.70" y="271.05" font-size="8.2" font-weight="bold" text-anchor="end" fill="#111">100</text>
<line x1="332.00" y1="238.10" x2="335.80" y2="238.10" stroke="#111" stroke-width="1.5"/>
<text x="330.70" y="241.85" font-size="8.2" font-weight="bold" text-anchor="end" fill="#111">150</text>
<line x1="332.00" y1="208.90" x2="335.80" y2="208.90" stroke="#111" stroke-width="1.5"/>
<text x="330.70" y="212.65" font-size="8.2" font-weight="bold" text-anchor="end" fill="#111">200</text>
<line x1="335.80" y1="325.70" x2="335.80" y2="329.50" stroke="#111" stroke-width="1.5"/>
<text x="335.80" y="338.30" font-size="8.2" font-weight="bold" text-anchor="middle" fill="#111">-20</text>
<line x1="351.75" y1="325.70" x2="351.75" y2="329.50" stroke="#111" stroke-width="1.5"/>
<text x="351.75" y="338.30" font-size="8.2" font-weight="bold" text-anchor="middle" fill="#111">-10</text>
<line x1="367.69" y1="325.70" x2="367.69" y2="329.50" stroke="#111" stroke-width="1.5"/>
<text x="367.69" y="338.30" font-size="8.2" font-weight="bold" text-anchor="middle" fill="#111">0</text>
<line x1="383.64" y1="325.70" x2="383.64" y2="329.50" stroke="#111" stroke-width="1.5"/>
<text x="383.64" y="338.30" font-size="8.2" font-weight="bold" text-anchor="middle" fill="#111">10</text>
<line x1="399.58" y1="325.70" x2="399.58" y2="329.50" stroke="#111" stroke-width="1.5"/>
<text x="399.58" y="338.30" font-size="8.2" font-weight="bold" text-anchor="middle" fill="#111">20</text>
<line x1="415.53" y1="325.70" x2="415.53" y2="329.50" stroke="#111" stroke-width="1.5"/>
<text x="415.53" y="338.30" font-size="8.2" font-weight="bold" text-anchor="middle" fill="#111">30</text>
<line x1="431.47" y1="325.70" x2="431.47" y2="329.50" stroke="#111" stroke-width="1.5"/>
<text x="431.47" y="338.30" font-size="8.2" font-weight="bold" text-anchor="middle" fill="#111">40</text>
<line x1="447.42" y1="325.70" x2="447.42" y2="329.50" stroke="#111" stroke-width="1.5"/>
<text x="447.42" y="338.30" font-size="8.2" font-weight="bold" text-anchor="middle" fill="#111">50</text>
<line x1="463.36" y1="325.70" x2="463.36" y2="329.50" stroke="#111" stroke-width="1.5"/>
<text x="463.36" y="338.30" font-size="8.2" font-weight="bold" text-anchor="middle" fill="#111">60</text>
<line x1="479.31" y1="325.70" x2="479.31" y2="329.50" stroke="#111" stroke-width="1.5"/>
<text x="479.31" y="338.30" font-size="8.2" font-weight="bold" text-anchor="middle" fill="#111">70</text>
<line x1="495.25" y1="325.70" x2="495.25" y2="329.50" stroke="#111" stroke-width="1.5"/>
<text x="495.25" y="338.30" font-size="8.2" font-weight="bold" text-anchor="middle" fill="#111">80</text>
<line x1="511.20" y1="325.70" x2="511.20" y2="329.50" stroke="#111" stroke-width="1.5"/>
<text x="511.20" y="338.30" font-size="8.2" font-weight="bold" text-anchor="middle" fill="#111">90</text>
<text x="422.50" y="353.30" font-size="8.3" font-weight="bold" text-anchor="middle" fill="#111">Days</text>
<text x="300.10" y="267.50" font-size="8.6" font-weight="bold" text-anchor="middle" fill="#111" transform="rotate(-90 300.10 267.50)">% CD3+CD8+ in lymphogate</text>
<text x="310.90" y="267.50" font-size="8.6" font-weight="bold" text-anchor="middle" fill="#111" transform="rotate(-90 310.90 267.50)">(as % of baseline)</text>
<line x1="378.85" y1="325.70" x2="378.85" y2="316.36" stroke="#222" stroke-width="1.4"/>
<line x1="376.05" y1="325.70" x2="381.65" y2="325.70" stroke="#222" stroke-width="1.6"/>
<line x1="376.05" y1="316.36" x2="381.65" y2="316.36" stroke="#222" stroke-width="1.6"/>
<line x1="463.36" y1="283.07" x2="463.36" y2="275.48" stroke="#222" stroke-width="1.4"/>
<line x1="460.56" y1="283.07" x2="466.16" y2="283.07" stroke="#222" stroke-width="1.6"/>
<line x1="460.56" y1="275.48" x2="466.16" y2="275.48" stroke="#222" stroke-width="1.6"/>
<polyline points="345.37,267.30 367.69,325.12 374.07,325.12 378.85,323.36 385.23,300.00 390.01,301.76 401.18,293.58 412.34,299.42 463.36,279.56 511.20,283.65" fill="none" stroke="#111" stroke-width="2.0" stroke-linejoin="round"/>
<rect x="343.07" y="265.00" width="4.6" height="4.6" fill="#111"/>
<rect x="365.39" y="322.82" width="4.6" height="4.6" fill="#111"/>
<rect x="371.77" y="322.82" width="4.6" height="4.6" fill="#111"/>
<rect x="376.55" y="321.06" width="4.6" height="4.6" fill="#111"/>
<rect x="382.93" y="297.70" width="4.6" height="4.6" fill="#111"/>
<rect x="387.71" y="299.46" width="4.6" height="4.6" fill="#111"/>
<rect x="398.88" y="291.28" width="4.6" height="4.6" fill="#111"/>
<rect x="410.04" y="297.12" width="4.6" height="4.6" fill="#111"/>
<rect x="461.06" y="277.26" width="4.6" height="4.6" fill="#111"/>
<rect x="508.90" y="281.35" width="4.6" height="4.6" fill="#111"/>
<line x1="385.23" y1="304.09" x2="385.23" y2="287.74" stroke="#bb3a52" stroke-width="1.3"/>
<line x1="382.43" y1="304.09" x2="388.03" y2="304.09" stroke="#bb3a52" stroke-width="1.5"/>
<line x1="382.43" y1="287.74" x2="388.03" y2="287.74" stroke="#bb3a52" stroke-width="1.5"/>
<line x1="401.18" y1="295.92" x2="401.18" y2="264.96" stroke="#bb3a52" stroke-width="1.3"/>
<line x1="398.38" y1="295.92" x2="403.98" y2="295.92" stroke="#bb3a52" stroke-width="1.5"/>
<line x1="398.38" y1="264.96" x2="403.98" y2="264.96" stroke="#bb3a52" stroke-width="1.5"/>
<line x1="412.34" y1="276.64" x2="412.34" y2="263.80" stroke="#bb3a52" stroke-width="1.3"/>
<line x1="409.54" y1="276.64" x2="415.14" y2="276.64" stroke="#bb3a52" stroke-width="1.5"/>
<line x1="409.54" y1="263.80" x2="415.14" y2="263.80" stroke="#bb3a52" stroke-width="1.5"/>
<line x1="463.36" y1="280.15" x2="463.36" y2="263.21" stroke="#bb3a52" stroke-width="1.3"/>
<line x1="460.56" y1="280.15" x2="466.16" y2="280.15" stroke="#bb3a52" stroke-width="1.5"/>
<line x1="460.56" y1="263.21" x2="466.16" y2="263.21" stroke="#bb3a52" stroke-width="1.5"/>
<line x1="511.20" y1="269.05" x2="511.20" y2="242.19" stroke="#bb3a52" stroke-width="1.3"/>
<line x1="508.40" y1="269.05" x2="514.00" y2="269.05" stroke="#bb3a52" stroke-width="1.5"/>
<line x1="508.40" y1="242.19" x2="514.00" y2="242.19" stroke="#bb3a52" stroke-width="1.5"/>
<polyline points="345.37,267.30 367.69,322.78 374.07,321.03 378.85,322.78 385.23,298.84 390.01,279.56 401.18,280.15 412.34,270.22 463.36,271.39 511.20,255.91" fill="none" stroke="#e0161e" stroke-width="2.3" stroke-linejoin="round"/>
<path d="M342.77,269.10 L347.97,269.10 L345.37,264.70 Z" fill="#e0161e"/>
<path d="M365.09,324.58 L370.29,324.58 L367.69,320.18 Z" fill="#e0161e"/>
<path d="M371.47,322.83 L376.67,322.83 L374.07,318.43 Z" fill="#e0161e"/>
<path d="M376.25,324.58 L381.45,324.58 L378.85,320.18 Z" fill="#e0161e"/>
<path d="M382.63,300.64 L387.83,300.64 L385.23,296.24 Z" fill="#e0161e"/>
<path d="M387.41,281.36 L392.61,281.36 L390.01,276.96 Z" fill="#e0161e"/>
<path d="M398.58,281.95 L403.78,281.95 L401.18,277.55 Z" fill="#e0161e"/>
<path d="M409.74,272.02 L414.94,272.02 L412.34,267.62 Z" fill="#e0161e"/>
<path d="M460.76,273.19 L465.96,273.19 L463.36,268.79 Z" fill="#e0161e"/>
<path d="M508.60,257.71 L513.80,257.71 L511.20,253.31 Z" fill="#e0161e"/>
<line x1="458.70" y1="221.20" x2="476.60" y2="221.20" stroke="#111" stroke-width="1.9"/>
<rect x="465.45" y="219.00" width="4.4" height="4.4" fill="#111"/>
<text x="0" y="0" font-size="9.5" font-weight="normal" text-anchor="start" fill="#222" transform="translate(478.00 223.80) rotate(0) scale(0.97 1)">SMs</text>
<line x1="458.70" y1="235.50" x2="476.60" y2="235.50" stroke="#e0161e" stroke-width="1.9"/>
<path d="M465.25,237.20 L470.05,237.20 L467.65,233.10 Z" fill="#e0161e"/>
<text x="0" y="0" font-size="9.5" font-weight="normal" text-anchor="start" fill="#222" transform="translate(478.00 238.10) rotate(0) scale(0.97 1)">RMs</text>
<line x1="69.78" y1="403.80" x2="69.78" y2="520.20" stroke="#111" stroke-width="1.7" stroke-dasharray="3 2.1"/>
<line x1="73.64" y1="403.80" x2="73.64" y2="520.20" stroke="#111" stroke-width="1.7" stroke-dasharray="3 2.1"/>
<line x1="43.00" y1="403.70" x2="43.00" y2="521.10" stroke="#111" stroke-width="1.8"/>
<line x1="42.10" y1="520.20" x2="216.90" y2="520.20" stroke="#111" stroke-width="1.8"/>
<line x1="39.20" y1="520.20" x2="43.00" y2="520.20" stroke="#111" stroke-width="1.5"/>
<text x="37.90" y="523.95" font-size="8.2" font-weight="bold" text-anchor="end" fill="#111">0</text>
<line x1="39.20" y1="481.57" x2="43.00" y2="481.57" stroke="#111" stroke-width="1.5"/>
<text x="37.90" y="485.32" font-size="8.2" font-weight="bold" text-anchor="end" fill="#111">1000</text>
<line x1="39.20" y1="442.93" x2="43.00" y2="442.93" stroke="#111" stroke-width="1.5"/>
<text x="37.90" y="446.69" font-size="8.2" font-weight="bold" text-anchor="end" fill="#111">2000</text>
<line x1="39.20" y1="404.30" x2="43.00" y2="404.30" stroke="#111" stroke-width="1.5"/>
<text x="37.90" y="408.05" font-size="8.2" font-weight="bold" text-anchor="end" fill="#111">3000</text>
<line x1="43.00" y1="520.20" x2="43.00" y2="524.00" stroke="#111" stroke-width="1.5"/>
<text x="43.00" y="533.00" font-size="8.2" font-weight="bold" text-anchor="middle" fill="#111">-20</text>
<line x1="58.75" y1="520.20" x2="58.75" y2="524.00" stroke="#111" stroke-width="1.5"/>
<text x="58.75" y="533.00" font-size="8.2" font-weight="bold" text-anchor="middle" fill="#111">-10</text>
<line x1="74.51" y1="520.20" x2="74.51" y2="524.00" stroke="#111" stroke-width="1.5"/>
<text x="74.51" y="533.00" font-size="8.2" font-weight="bold" text-anchor="middle" fill="#111">0</text>
<line x1="90.26" y1="520.20" x2="90.26" y2="524.00" stroke="#111" stroke-width="1.5"/>
<text x="90.26" y="533.00" font-size="8.2" font-weight="bold" text-anchor="middle" fill="#111">10</text>
<line x1="106.02" y1="520.20" x2="106.02" y2="524.00" stroke="#111" stroke-width="1.5"/>
<text x="106.02" y="533.00" font-size="8.2" font-weight="bold" text-anchor="middle" fill="#111">20</text>
<line x1="121.77" y1="520.20" x2="121.77" y2="524.00" stroke="#111" stroke-width="1.5"/>
<text x="121.77" y="533.00" font-size="8.2" font-weight="bold" text-anchor="middle" fill="#111">30</text>
<line x1="137.53" y1="520.20" x2="137.53" y2="524.00" stroke="#111" stroke-width="1.5"/>
<text x="137.53" y="533.00" font-size="8.2" font-weight="bold" text-anchor="middle" fill="#111">40</text>
<line x1="153.28" y1="520.20" x2="153.28" y2="524.00" stroke="#111" stroke-width="1.5"/>
<text x="153.28" y="533.00" font-size="8.2" font-weight="bold" text-anchor="middle" fill="#111">50</text>
<line x1="169.04" y1="520.20" x2="169.04" y2="524.00" stroke="#111" stroke-width="1.5"/>
<text x="169.04" y="533.00" font-size="8.2" font-weight="bold" text-anchor="middle" fill="#111">60</text>
<line x1="184.79" y1="520.20" x2="184.79" y2="524.00" stroke="#111" stroke-width="1.5"/>
<text x="184.79" y="533.00" font-size="8.2" font-weight="bold" text-anchor="middle" fill="#111">70</text>
<line x1="200.55" y1="520.20" x2="200.55" y2="524.00" stroke="#111" stroke-width="1.5"/>
<text x="200.55" y="533.00" font-size="8.2" font-weight="bold" text-anchor="middle" fill="#111">80</text>
<line x1="216.30" y1="520.20" x2="216.30" y2="524.00" stroke="#111" stroke-width="1.5"/>
<text x="216.30" y="533.00" font-size="8.2" font-weight="bold" text-anchor="middle" fill="#111">90</text>
<text x="129.40" y="544.80" font-size="8.3" font-weight="bold" text-anchor="middle" fill="#111">Days</text>
<text x="0" y="0" font-size="12.2" font-weight="bold" text-anchor="middle" fill="#111" transform="translate(14.80 463.20) rotate(-90) scale(0.77 1)"># CD3+CD4+ cells/mm<tspan font-size="8" dy="-5.5">3</tspan></text>
<line x1="52.45" y1="488.52" x2="52.45" y2="485.43" stroke="#222" stroke-width="1.4"/>
<line x1="49.65" y1="488.52" x2="55.25" y2="488.52" stroke="#222" stroke-width="1.6"/>
<line x1="49.65" y1="485.43" x2="55.25" y2="485.43" stroke="#222" stroke-width="1.6"/>
<line x1="74.51" y1="503.97" x2="74.51" y2="499.72" stroke="#222" stroke-width="1.4"/>
<line x1="71.71" y1="503.97" x2="77.31" y2="503.97" stroke="#222" stroke-width="1.6"/>
<line x1="71.71" y1="499.72" x2="77.31" y2="499.72" stroke="#222" stroke-width="1.6"/>
<line x1="96.57" y1="491.80" x2="96.57" y2="477.12" stroke="#222" stroke-width="1.4"/>
<line x1="93.77" y1="491.80" x2="99.37" y2="491.80" stroke="#222" stroke-width="1.6"/>
<line x1="93.77" y1="477.12" x2="99.37" y2="477.12" stroke="#222" stroke-width="1.6"/>
<line x1="107.59" y1="488.52" x2="107.59" y2="484.66" stroke="#222" stroke-width="1.4"/>
<line x1="104.79" y1="488.52" x2="110.39" y2="488.52" stroke="#222" stroke-width="1.6"/>
<line x1="104.79" y1="484.66" x2="110.39" y2="484.66" stroke="#222" stroke-width="1.6"/>
<line x1="118.62" y1="497.60" x2="118.62" y2="489.87" stroke="#222" stroke-width="1.4"/>
<line x1="115.82" y1="497.60" x2="121.42" y2="497.60" stroke="#222" stroke-width="1.6"/>
<line x1="115.82" y1="489.87" x2="121.42" y2="489.87" stroke="#222" stroke-width="1.6"/>
<line x1="169.04" y1="493.35" x2="169.04" y2="478.09" stroke="#222" stroke-width="1.4"/>
<line x1="166.24" y1="493.35" x2="171.84" y2="493.35" stroke="#222" stroke-width="1.6"/>
<line x1="166.24" y1="478.09" x2="171.84" y2="478.09" stroke="#222" stroke-width="1.6"/>
<line x1="216.30" y1="486.20" x2="216.30" y2="474.61" stroke="#222" stroke-width="1.4"/>
<line x1="213.50" y1="486.20" x2="219.10" y2="486.20" stroke="#222" stroke-width="1.6"/>
<line x1="213.50" y1="474.61" x2="219.10" y2="474.61" stroke="#222" stroke-width="1.6"/>
<polyline points="52.45,486.98 74.51,501.85 80.81,492.00 85.54,491.42 91.84,490.45 96.57,484.46 107.59,486.78 118.62,493.74 169.04,486.20 216.30,480.41" fill="none" stroke="#111" stroke-width="2.0" stroke-linejoin="round"/>
<rect x="50.15" y="484.68" width="4.6" height="4.6" fill="#111"/>
<rect x="72.21" y="499.55" width="4.6" height="4.6" fill="#111"/>
<rect x="78.51" y="489.70" width="4.6" height="4.6" fill="#111"/>
<rect x="83.24" y="489.12" width="4.6" height="4.6" fill="#111"/>
<rect x="89.54" y="488.15" width="4.6" height="4.6" fill="#111"/>
<rect x="94.27" y="482.16" width="4.6" height="4.6" fill="#111"/>
<rect x="105.29" y="484.48" width="4.6" height="4.6" fill="#111"/>
<rect x="116.32" y="491.44" width="4.6" height="4.6" fill="#111"/>
<rect x="166.74" y="483.90" width="4.6" height="4.6" fill="#111"/>
<rect x="214.00" y="478.11" width="4.6" height="4.6" fill="#111"/>
<line x1="52.45" y1="497.99" x2="52.45" y2="488.13" stroke="#bb3a52" stroke-width="1.3"/>
<line x1="49.65" y1="497.99" x2="55.25" y2="497.99" stroke="#bb3a52" stroke-width="1.5"/>
<line x1="49.65" y1="488.13" x2="55.25" y2="488.13" stroke="#bb3a52" stroke-width="1.5"/>
<line x1="74.51" y1="498.57" x2="74.51" y2="480.41" stroke="#bb3a52" stroke-width="1.3"/>
<line x1="71.71" y1="498.57" x2="77.31" y2="498.57" stroke="#bb3a52" stroke-width="1.5"/>
<line x1="71.71" y1="480.41" x2="77.31" y2="480.41" stroke="#bb3a52" stroke-width="1.5"/>
<line x1="80.81" y1="496.25" x2="80.81" y2="475.00" stroke="#bb3a52" stroke-width="1.3"/>
<line x1="78.01" y1="496.25" x2="83.61" y2="496.25" stroke="#bb3a52" stroke-width="1.5"/>
<line x1="78.01" y1="475.00" x2="83.61" y2="475.00" stroke="#bb3a52" stroke-width="1.5"/>
<line x1="85.54" y1="497.60" x2="85.54" y2="445.25" stroke="#bb3a52" stroke-width="1.3"/>
<line x1="82.74" y1="497.60" x2="88.34" y2="497.60" stroke="#bb3a52" stroke-width="1.5"/>
<line x1="82.74" y1="445.25" x2="88.34" y2="445.25" stroke="#bb3a52" stroke-width="1.5"/>
<line x1="91.84" y1="486.78" x2="91.84" y2="459.16" stroke="#bb3a52" stroke-width="1.3"/>
<line x1="89.04" y1="486.78" x2="94.64" y2="486.78" stroke="#bb3a52" stroke-width="1.5"/>
<line x1="89.04" y1="459.16" x2="94.64" y2="459.16" stroke="#bb3a52" stroke-width="1.5"/>
<line x1="96.57" y1="492.19" x2="96.57" y2="418.40" stroke="#bb3a52" stroke-width="1.3"/>
<line x1="93.77" y1="492.19" x2="99.37" y2="492.19" stroke="#bb3a52" stroke-width="1.5"/>
<line x1="93.77" y1="418.40" x2="99.37" y2="418.40" stroke="#bb3a52" stroke-width="1.5"/>
<line x1="107.59" y1="483.50" x2="107.59" y2="414.34" stroke="#bb3a52" stroke-width="1.3"/>
<line x1="104.79" y1="483.50" x2="110.39" y2="483.50" stroke="#bb3a52" stroke-width="1.5"/>
<line x1="104.79" y1="414.34" x2="110.39" y2="414.34" stroke="#bb3a52" stroke-width="1.5"/>
<line x1="118.62" y1="490.45" x2="118.62" y2="460.32" stroke="#bb3a52" stroke-width="1.3"/>
<line x1="115.82" y1="490.45" x2="121.42" y2="490.45" stroke="#bb3a52" stroke-width="1.5"/>
<line x1="115.82" y1="460.32" x2="121.42" y2="460.32" stroke="#bb3a52" stroke-width="1.5"/>
<line x1="169.04" y1="478.09" x2="169.04" y2="426.32" stroke="#bb3a52" stroke-width="1.3"/>
<line x1="166.24" y1="478.09" x2="171.84" y2="478.09" stroke="#bb3a52" stroke-width="1.5"/>
<line x1="166.24" y1="426.32" x2="171.84" y2="426.32" stroke="#bb3a52" stroke-width="1.5"/>
<line x1="216.30" y1="469.98" x2="216.30" y2="422.65" stroke="#bb3a52" stroke-width="1.3"/>
<line x1="213.50" y1="469.98" x2="219.10" y2="469.98" stroke="#bb3a52" stroke-width="1.5"/>
<line x1="213.50" y1="422.65" x2="219.10" y2="422.65" stroke="#bb3a52" stroke-width="1.5"/>
<polyline points="52.45,492.77 74.51,493.16 80.81,486.59 85.54,471.91 91.84,473.07 96.57,448.34 107.59,449.69 118.62,478.86 169.04,458.00 216.30,446.80" fill="none" stroke="#e0161e" stroke-width="2.3" stroke-linejoin="round"/>
<path d="M49.85,494.57 L55.05,494.57 L52.45,490.17 Z" fill="#e0161e"/>
<path d="M71.91,494.96 L77.11,494.96 L74.51,490.56 Z" fill="#e0161e"/>
<path d="M78.21,488.39 L83.41,488.39 L80.81,483.99 Z" fill="#e0161e"/>
<path d="M82.94,473.71 L88.14,473.71 L85.54,469.31 Z" fill="#e0161e"/>
<path d="M89.24,474.87 L94.44,474.87 L91.84,470.47 Z" fill="#e0161e"/>
<path d="M93.97,450.14 L99.17,450.14 L96.57,445.74 Z" fill="#e0161e"/>
<path d="M104.99,451.49 L110.19,451.49 L107.59,447.09 Z" fill="#e0161e"/>
<path d="M116.02,480.66 L121.22,480.66 L118.62,476.26 Z" fill="#e0161e"/>
<path d="M166.44,459.80 L171.64,459.80 L169.04,455.40 Z" fill="#e0161e"/>
<path d="M213.70,448.60 L218.90,448.60 L216.30,444.20 Z" fill="#e0161e"/>
<line x1="172.20" y1="396.60" x2="190.00" y2="396.60" stroke="#111" stroke-width="1.9"/>
<rect x="178.90" y="394.40" width="4.4" height="4.4" fill="#111"/>
<text x="0" y="0" font-size="9.5" font-weight="normal" text-anchor="start" fill="#222" transform="translate(192.20 399.20) rotate(0) scale(0.97 1)">SMs</text>
<line x1="172.20" y1="410.00" x2="190.00" y2="410.00" stroke="#e0161e" stroke-width="1.9"/>
<path d="M178.70,411.70 L183.50,411.70 L181.10,407.60 Z" fill="#e0161e"/>
<text x="0" y="0" font-size="9.5" font-weight="normal" text-anchor="start" fill="#222" transform="translate(192.20 412.60) rotate(0) scale(0.97 1)">RMs</text>
<line x1="361.18" y1="398.30" x2="361.18" y2="518.80" stroke="#111" stroke-width="1.7" stroke-dasharray="3 2.1"/>
<line x1="365.50" y1="398.30" x2="365.50" y2="518.80" stroke="#111" stroke-width="1.7" stroke-dasharray="3 2.1"/>
<line x1="333.60" y1="398.20" x2="333.60" y2="519.70" stroke="#111" stroke-width="1.8"/>
<line x1="332.70" y1="518.80" x2="513.70" y2="518.80" stroke="#111" stroke-width="1.8"/>
<line x1="329.80" y1="518.80" x2="333.60" y2="518.80" stroke="#111" stroke-width="1.5"/>
<text x="328.50" y="522.55" font-size="8.2" font-weight="bold" text-anchor="end" fill="#111">0</text>
<line x1="329.80" y1="501.66" x2="333.60" y2="501.66" stroke="#111" stroke-width="1.5"/>
<text x="328.50" y="505.41" font-size="8.2" font-weight="bold" text-anchor="end" fill="#111">200</text>
<line x1="329.80" y1="484.51" x2="333.60" y2="484.51" stroke="#111" stroke-width="1.5"/>
<text x="328.50" y="488.27" font-size="8.2" font-weight="bold" text-anchor="end" fill="#111">400</text>
<line x1="329.80" y1="467.37" x2="333.60" y2="467.37" stroke="#111" stroke-width="1.5"/>
<text x="328.50" y="471.12" font-size="8.2" font-weight="bold" text-anchor="end" fill="#111">600</text>
<line x1="329.80" y1="450.23" x2="333.60" y2="450.23" stroke="#111" stroke-width="1.5"/>
<text x="328.50" y="453.98" font-size="8.2" font-weight="bold" text-anchor="end" fill="#111">800</text>
<line x1="329.80" y1="433.09" x2="333.60" y2="433.09" stroke="#111" stroke-width="1.5"/>
<text x="328.50" y="436.84" font-size="8.2" font-weight="bold" text-anchor="end" fill="#111">1000</text>
<line x1="329.80" y1="415.94" x2="333.60" y2="415.94" stroke="#111" stroke-width="1.5"/>
<text x="328.50" y="419.69" font-size="8.2" font-weight="bold" text-anchor="end" fill="#111">1200</text>
<line x1="329.80" y1="398.80" x2="333.60" y2="398.80" stroke="#111" stroke-width="1.5"/>
<text x="328.50" y="402.55" font-size="8.2" font-weight="bold" text-anchor="end" fill="#111">1400</text>
<line x1="333.60" y1="518.80" x2="333.60" y2="522.60" stroke="#111" stroke-width="1.5"/>
<text x="333.60" y="531.30" font-size="8.2" font-weight="bold" text-anchor="middle" fill="#111">-20</text>
<line x1="349.92" y1="518.80" x2="349.92" y2="522.60" stroke="#111" stroke-width="1.5"/>
<text x="349.92" y="531.30" font-size="8.2" font-weight="bold" text-anchor="middle" fill="#111">-10</text>
<line x1="366.24" y1="518.80" x2="366.24" y2="522.60" stroke="#111" stroke-width="1.5"/>
<text x="366.24" y="531.30" font-size="8.2" font-weight="bold" text-anchor="middle" fill="#111">0</text>
<line x1="382.55" y1="518.80" x2="382.55" y2="522.60" stroke="#111" stroke-width="1.5"/>
<text x="382.55" y="531.30" font-size="8.2" font-weight="bold" text-anchor="middle" fill="#111">10</text>
<line x1="398.87" y1="518.80" x2="398.87" y2="522.60" stroke="#111" stroke-width="1.5"/>
<text x="398.87" y="531.30" font-size="8.2" font-weight="bold" text-anchor="middle" fill="#111">20</text>
<line x1="415.19" y1="518.80" x2="415.19" y2="522.60" stroke="#111" stroke-width="1.5"/>
<text x="415.19" y="531.30" font-size="8.2" font-weight="bold" text-anchor="middle" fill="#111">30</text>
<line x1="431.51" y1="518.80" x2="431.51" y2="522.60" stroke="#111" stroke-width="1.5"/>
<text x="431.51" y="531.30" font-size="8.2" font-weight="bold" text-anchor="middle" fill="#111">40</text>
<line x1="447.83" y1="518.80" x2="447.83" y2="522.60" stroke="#111" stroke-width="1.5"/>
<text x="447.83" y="531.30" font-size="8.2" font-weight="bold" text-anchor="middle" fill="#111">50</text>
<line x1="464.15" y1="518.80" x2="464.15" y2="522.60" stroke="#111" stroke-width="1.5"/>
<text x="464.15" y="531.30" font-size="8.2" font-weight="bold" text-anchor="middle" fill="#111">60</text>
<line x1="480.46" y1="518.80" x2="480.46" y2="522.60" stroke="#111" stroke-width="1.5"/>
<text x="480.46" y="531.30" font-size="8.2" font-weight="bold" text-anchor="middle" fill="#111">70</text>
<line x1="496.78" y1="518.80" x2="496.78" y2="522.60" stroke="#111" stroke-width="1.5"/>
<text x="496.78" y="531.30" font-size="8.2" font-weight="bold" text-anchor="middle" fill="#111">80</text>
<line x1="513.10" y1="518.80" x2="513.10" y2="522.60" stroke="#111" stroke-width="1.5"/>
<text x="513.10" y="531.30" font-size="8.2" font-weight="bold" text-anchor="middle" fill="#111">90</text>
<text x="423.30" y="543.80" font-size="8.3" font-weight="bold" text-anchor="middle" fill="#111">Days</text>
<text x="0" y="0" font-size="12.2" font-weight="bold" text-anchor="middle" fill="#111" transform="translate(305.30 460.20) rotate(-90) scale(0.77 1)"># CD3+CD8+ cells/mm<tspan font-size="8" dy="-5.5">3</tspan></text>
<line x1="343.39" y1="433.94" x2="343.39" y2="422.80" stroke="#222" stroke-width="1.4"/>
<line x1="340.59" y1="433.94" x2="346.19" y2="433.94" stroke="#222" stroke-width="1.6"/>
<line x1="340.59" y1="422.80" x2="346.19" y2="422.80" stroke="#222" stroke-width="1.6"/>
<line x1="377.66" y1="518.80" x2="377.66" y2="506.80" stroke="#222" stroke-width="1.4"/>
<line x1="374.86" y1="518.80" x2="380.46" y2="518.80" stroke="#222" stroke-width="1.6"/>
<line x1="374.86" y1="506.80" x2="380.46" y2="506.80" stroke="#222" stroke-width="1.6"/>
<line x1="384.19" y1="488.37" x2="384.19" y2="480.66" stroke="#222" stroke-width="1.4"/>
<line x1="381.39" y1="488.37" x2="386.99" y2="488.37" stroke="#222" stroke-width="1.6"/>
<line x1="381.39" y1="480.66" x2="386.99" y2="480.66" stroke="#222" stroke-width="1.6"/>
<line x1="389.08" y1="489.66" x2="389.08" y2="479.80" stroke="#222" stroke-width="1.4"/>
<line x1="386.28" y1="489.66" x2="391.88" y2="489.66" stroke="#222" stroke-width="1.6"/>
<line x1="386.28" y1="479.80" x2="391.88" y2="479.80" stroke="#222" stroke-width="1.6"/>
<line x1="400.50" y1="475.09" x2="400.50" y2="460.51" stroke="#222" stroke-width="1.4"/>
<line x1="397.70" y1="475.09" x2="403.30" y2="475.09" stroke="#222" stroke-width="1.6"/>
<line x1="397.70" y1="460.51" x2="403.30" y2="460.51" stroke="#222" stroke-width="1.6"/>
<line x1="464.15" y1="465.23" x2="464.15" y2="435.66" stroke="#222" stroke-width="1.4"/>
<line x1="461.35" y1="465.23" x2="466.95" y2="465.23" stroke="#222" stroke-width="1.6"/>
<line x1="461.35" y1="435.66" x2="466.95" y2="435.66" stroke="#222" stroke-width="1.6"/>
<line x1="513.10" y1="467.80" x2="513.10" y2="443.37" stroke="#222" stroke-width="1.4"/>
<line x1="510.30" y1="467.80" x2="515.90" y2="467.80" stroke="#222" stroke-width="1.6"/>
<line x1="510.30" y1="443.37" x2="515.90" y2="443.37" stroke="#222" stroke-width="1.6"/>
<polyline points="343.39,428.46 366.24,518.80 372.76,518.37 377.66,513.66 384.19,484.51 389.08,484.51 400.50,468.66 411.93,484.51 464.15,450.66 513.10,455.80" fill="none" stroke="#111" stroke-width="2.0" stroke-linejoin="round"/>
<rect x="341.09" y="426.16" width="4.6" height="4.6" fill="#111"/>
<rect x="363.94" y="516.50" width="4.6" height="4.6" fill="#111"/>
<rect x="370.46" y="516.07" width="4.6" height="4.6" fill="#111"/>
<rect x="375.36" y="511.36" width="4.6" height="4.6" fill="#111"/>
<rect x="381.89" y="482.21" width="4.6" height="4.6" fill="#111"/>
<rect x="386.78" y="482.21" width="4.6" height="4.6" fill="#111"/>
<rect x="398.20" y="466.36" width="4.6" height="4.6" fill="#111"/>
<rect x="409.63" y="482.21" width="4.6" height="4.6" fill="#111"/>
<rect x="461.85" y="448.36" width="4.6" height="4.6" fill="#111"/>
<rect x="510.80" y="453.50" width="4.6" height="4.6" fill="#111"/>
<line x1="343.39" y1="467.37" x2="343.39" y2="412.51" stroke="#bb3a52" stroke-width="1.3"/>
<line x1="340.59" y1="467.37" x2="346.19" y2="467.37" stroke="#bb3a52" stroke-width="1.5"/>
<line x1="340.59" y1="412.51" x2="346.19" y2="412.51" stroke="#bb3a52" stroke-width="1.5"/>
<line x1="384.19" y1="494.37" x2="384.19" y2="480.23" stroke="#bb3a52" stroke-width="1.3"/>
<line x1="381.39" y1="494.37" x2="386.99" y2="494.37" stroke="#bb3a52" stroke-width="1.5"/>
<line x1="381.39" y1="480.23" x2="386.99" y2="480.23" stroke="#bb3a52" stroke-width="1.5"/>
<line x1="389.08" y1="475.09" x2="389.08" y2="465.23" stroke="#bb3a52" stroke-width="1.3"/>
<line x1="386.28" y1="475.09" x2="391.88" y2="475.09" stroke="#bb3a52" stroke-width="1.5"/>
<line x1="386.28" y1="465.23" x2="391.88" y2="465.23" stroke="#bb3a52" stroke-width="1.5"/>
<line x1="400.50" y1="484.94" x2="400.50" y2="442.94" stroke="#bb3a52" stroke-width="1.3"/>
<line x1="397.70" y1="484.94" x2="403.30" y2="484.94" stroke="#bb3a52" stroke-width="1.5"/>
<line x1="397.70" y1="442.94" x2="403.30" y2="442.94" stroke="#bb3a52" stroke-width="1.5"/>
<line x1="411.93" y1="469.51" x2="411.93" y2="457.09" stroke="#bb3a52" stroke-width="1.3"/>
<line x1="409.13" y1="469.51" x2="414.73" y2="469.51" stroke="#bb3a52" stroke-width="1.5"/>
<line x1="409.13" y1="457.09" x2="414.73" y2="457.09" stroke="#bb3a52" stroke-width="1.5"/>
<line x1="464.15" y1="465.66" x2="464.15" y2="427.09" stroke="#bb3a52" stroke-width="1.3"/>
<line x1="461.35" y1="465.66" x2="466.95" y2="465.66" stroke="#bb3a52" stroke-width="1.5"/>
<line x1="461.35" y1="427.09" x2="466.95" y2="427.09" stroke="#bb3a52" stroke-width="1.5"/>
<line x1="513.10" y1="459.66" x2="513.10" y2="410.37" stroke="#bb3a52" stroke-width="1.3"/>
<line x1="510.30" y1="459.66" x2="515.90" y2="459.66" stroke="#bb3a52" stroke-width="1.5"/>
<line x1="510.30" y1="410.37" x2="515.90" y2="410.37" stroke="#bb3a52" stroke-width="1.5"/>
<polyline points="343.39,441.23 366.24,517.09 372.76,516.66 377.66,515.37 384.19,487.94 389.08,469.94 400.50,464.80 411.93,463.51 464.15,445.51 513.10,435.23" fill="none" stroke="#e0161e" stroke-width="2.3" stroke-linejoin="round"/>
<path d="M340.79,443.03 L345.99,443.03 L343.39,438.63 Z" fill="#e0161e"/>
<path d="M363.64,518.89 L368.84,518.89 L366.24,514.49 Z" fill="#e0161e"/>
<path d="M370.16,518.46 L375.36,518.46 L372.76,514.06 Z" fill="#e0161e"/>
<path d="M375.06,517.17 L380.26,517.17 L377.66,512.77 Z" fill="#e0161e"/>
<path d="M381.59,489.74 L386.79,489.74 L384.19,485.34 Z" fill="#e0161e"/>
<path d="M386.48,471.74 L391.68,471.74 L389.08,467.34 Z" fill="#e0161e"/>
<path d="M397.90,466.60 L403.10,466.60 L400.50,462.20 Z" fill="#e0161e"/>
<path d="M409.33,465.31 L414.53,465.31 L411.93,460.91 Z" fill="#e0161e"/>
<path d="M461.55,447.31 L466.75,447.31 L464.15,442.91 Z" fill="#e0161e"/>
<path d="M510.50,437.03 L515.70,437.03 L513.10,432.63 Z" fill="#e0161e"/>
<line x1="413.80" y1="408.50" x2="431.20" y2="408.50" stroke="#111" stroke-width="1.9"/>
<rect x="420.30" y="406.30" width="4.4" height="4.4" fill="#111"/>
<text x="0" y="0" font-size="9.5" font-weight="normal" text-anchor="start" fill="#222" transform="translate(434.00 411.10) rotate(0) scale(0.97 1)">SMs</text>
<line x1="413.80" y1="423.50" x2="431.20" y2="423.50" stroke="#e0161e" stroke-width="1.9"/>
<path d="M420.10,425.20 L424.90,425.20 L422.50,421.10 Z" fill="#e0161e"/>
<text x="0" y="0" font-size="9.5" font-weight="normal" text-anchor="start" fill="#222" transform="translate(434.00 426.10) rotate(0) scale(0.97 1)">RMs</text>
<line x1="108.80" y1="586.40" x2="108.80" y2="703.90" stroke="#111" stroke-width="1.7" stroke-dasharray="3 2.1"/>
<line x1="115.84" y1="586.40" x2="115.84" y2="703.90" stroke="#111" stroke-width="1.7" stroke-dasharray="3 2.1"/>
<line x1="45.40" y1="586.30" x2="45.40" y2="704.80" stroke="#111" stroke-width="1.8"/>
<line x1="44.50" y1="703.90" x2="222.10" y2="703.90" stroke="#111" stroke-width="1.8"/>
<line x1="41.60" y1="703.90" x2="45.40" y2="703.90" stroke="#111" stroke-width="1.5"/>
<text x="40.30" y="707.65" font-size="8.2" font-weight="bold" text-anchor="end" fill="#111">0</text>
<line x1="41.60" y1="674.65" x2="45.40" y2="674.65" stroke="#111" stroke-width="1.5"/>
<text x="40.30" y="678.40" font-size="8.2" font-weight="bold" text-anchor="end" fill="#111">50</text>
<line x1="41.60" y1="645.40" x2="45.40" y2="645.40" stroke="#111" stroke-width="1.5"/>
<text x="40.30" y="649.15" font-size="8.2" font-weight="bold" text-anchor="end" fill="#111">100</text>
<line x1="41.60" y1="616.15" x2="45.40" y2="616.15" stroke="#111" stroke-width="1.5"/>
<text x="40.30" y="619.90" font-size="8.2" font-weight="bold" text-anchor="end" fill="#111">150</text>
<line x1="41.60" y1="586.90" x2="45.40" y2="586.90" stroke="#111" stroke-width="1.5"/>
<text x="40.30" y="590.65" font-size="8.2" font-weight="bold" text-anchor="end" fill="#111">200</text>
<line x1="45.40" y1="703.90" x2="45.40" y2="707.70" stroke="#111" stroke-width="1.5"/>
<text x="45.40" y="716.80" font-size="8.2" font-weight="bold" text-anchor="middle" fill="#111">-20</text>
<line x1="80.62" y1="703.90" x2="80.62" y2="707.70" stroke="#111" stroke-width="1.5"/>
<text x="80.62" y="716.80" font-size="8.2" font-weight="bold" text-anchor="middle" fill="#111">-10</text>
<line x1="115.84" y1="703.90" x2="115.84" y2="707.70" stroke="#111" stroke-width="1.5"/>
<text x="115.84" y="716.80" font-size="8.2" font-weight="bold" text-anchor="middle" fill="#111">0</text>
<line x1="151.06" y1="703.90" x2="151.06" y2="707.70" stroke="#111" stroke-width="1.5"/>
<text x="151.06" y="716.80" font-size="8.2" font-weight="bold" text-anchor="middle" fill="#111">10</text>
<line x1="186.28" y1="703.90" x2="186.28" y2="707.70" stroke="#111" stroke-width="1.5"/>
<text x="186.28" y="716.80" font-size="8.2" font-weight="bold" text-anchor="middle" fill="#111">20</text>
<line x1="221.50" y1="703.90" x2="221.50" y2="707.70" stroke="#111" stroke-width="1.5"/>
<text x="221.50" y="716.80" font-size="8.2" font-weight="bold" text-anchor="middle" fill="#111">30</text>
<text x="132.30" y="732.60" font-size="8.3" font-weight="bold" text-anchor="middle" fill="#111">Days</text>
<text x="10.40" y="646.20" font-size="8.7" font-weight="bold" text-anchor="middle" fill="#111" transform="rotate(-90 10.40 646.20)">% CD3+CD4+ in lymphogate</text>
<text x="20.60" y="646.20" font-size="8.7" font-weight="bold" text-anchor="middle" fill="#111" transform="rotate(-90 20.60 646.20)">(as % of baseline)</text>
<line x1="154.58" y1="663.53" x2="154.58" y2="647.15" stroke="#222" stroke-width="1.4"/>
<line x1="151.78" y1="663.53" x2="157.38" y2="663.53" stroke="#222" stroke-width="1.6"/>
<line x1="151.78" y1="647.15" x2="157.38" y2="647.15" stroke="#222" stroke-width="1.6"/>
<line x1="214.46" y1="654.17" x2="214.46" y2="641.01" stroke="#222" stroke-width="1.4"/>
<line x1="211.66" y1="654.17" x2="217.26" y2="654.17" stroke="#222" stroke-width="1.6"/>
<line x1="211.66" y1="641.01" x2="217.26" y2="641.01" stroke="#222" stroke-width="1.6"/>
<polyline points="66.53,645.40 115.84,659.15 154.58,655.05 214.46,647.74" fill="none" stroke="#111" stroke-width="2.0" stroke-linejoin="round"/>
<rect x="64.23" y="643.10" width="4.6" height="4.6" fill="#111"/>
<rect x="113.54" y="656.85" width="4.6" height="4.6" fill="#111"/>
<rect x="152.28" y="652.75" width="4.6" height="4.6" fill="#111"/>
<rect x="212.16" y="645.44" width="4.6" height="4.6" fill="#111"/>
<line x1="115.84" y1="662.07" x2="115.84" y2="646.57" stroke="#bb3a52" stroke-width="1.3"/>
<line x1="113.04" y1="662.07" x2="118.64" y2="662.07" stroke="#bb3a52" stroke-width="1.5"/>
<line x1="113.04" y1="646.57" x2="118.64" y2="646.57" stroke="#bb3a52" stroke-width="1.5"/>
<line x1="154.58" y1="641.30" x2="154.58" y2="612.05" stroke="#bb3a52" stroke-width="1.3"/>
<line x1="151.78" y1="641.30" x2="157.38" y2="641.30" stroke="#bb3a52" stroke-width="1.5"/>
<line x1="151.78" y1="612.05" x2="157.38" y2="612.05" stroke="#bb3a52" stroke-width="1.5"/>
<line x1="214.46" y1="660.61" x2="214.46" y2="645.40" stroke="#bb3a52" stroke-width="1.3"/>
<line x1="211.66" y1="660.61" x2="217.26" y2="660.61" stroke="#bb3a52" stroke-width="1.5"/>
<line x1="211.66" y1="645.40" x2="217.26" y2="645.40" stroke="#bb3a52" stroke-width="1.5"/>
<polyline points="66.53,645.40 115.84,654.76 154.58,627.26 214.46,652.42" fill="none" stroke="#e0161e" stroke-width="2.3" stroke-linejoin="round"/>
<path d="M63.93,647.20 L69.13,647.20 L66.53,642.80 Z" fill="#e0161e"/>
<path d="M113.24,656.56 L118.44,656.56 L115.84,652.16 Z" fill="#e0161e"/>
<path d="M151.98,629.06 L157.18,629.06 L154.58,624.66 Z" fill="#e0161e"/>
<path d="M211.86,654.22 L217.06,654.22 L214.46,649.82 Z" fill="#e0161e"/>
<line x1="174.50" y1="596.30" x2="192.50" y2="596.30" stroke="#111" stroke-width="1.9"/>
<rect x="181.30" y="594.10" width="4.4" height="4.4" fill="#111"/>
<text x="0" y="0" font-size="9.5" font-weight="normal" text-anchor="start" fill="#222" transform="translate(194.40 598.90) rotate(0) scale(0.97 1)">SMs</text>
<line x1="174.50" y1="610.50" x2="192.50" y2="610.50" stroke="#e0161e" stroke-width="1.9"/>
<path d="M181.10,612.20 L185.90,612.20 L183.50,608.10 Z" fill="#e0161e"/>
<text x="0" y="0" font-size="9.5" font-weight="normal" text-anchor="start" fill="#222" transform="translate(194.40 613.10) rotate(0) scale(0.97 1)">RMs</text>
<line x1="397.60" y1="585.70" x2="397.60" y2="703.00" stroke="#111" stroke-width="1.7" stroke-dasharray="3 2.1"/>
<line x1="404.64" y1="585.70" x2="404.64" y2="703.00" stroke="#111" stroke-width="1.7" stroke-dasharray="3 2.1"/>
<line x1="334.20" y1="585.60" x2="334.20" y2="703.90" stroke="#111" stroke-width="1.8"/>
<line x1="333.30" y1="703.00" x2="510.90" y2="703.00" stroke="#111" stroke-width="1.8"/>
<line x1="330.40" y1="703.00" x2="334.20" y2="703.00" stroke="#111" stroke-width="1.5"/>
<text x="329.10" y="706.75" font-size="8.2" font-weight="bold" text-anchor="end" fill="#111">0</text>
<line x1="330.40" y1="673.80" x2="334.20" y2="673.80" stroke="#111" stroke-width="1.5"/>
<text x="329.10" y="677.55" font-size="8.2" font-weight="bold" text-anchor="end" fill="#111">50</text>
<line x1="330.40" y1="644.60" x2="334.20" y2="644.60" stroke="#111" stroke-width="1.5"/>
<text x="329.10" y="648.35" font-size="8.2" font-weight="bold" text-anchor="end" fill="#111">100</text>
<line x1="330.40" y1="615.40" x2="334.20" y2="615.40" stroke="#111" stroke-width="1.5"/>
<text x="329.10" y="619.15" font-size="8.2" font-weight="bold" text-anchor="end" fill="#111">150</text>
<line x1="330.40" y1="586.20" x2="334.20" y2="586.20" stroke="#111" stroke-width="1.5"/>
<text x="329.10" y="589.95" font-size="8.2" font-weight="bold" text-anchor="end" fill="#111">200</text>
<line x1="334.20" y1="703.00" x2="334.20" y2="706.80" stroke="#111" stroke-width="1.5"/>
<text x="334.20" y="715.90" font-size="8.2" font-weight="bold" text-anchor="middle" fill="#111">-20</text>
<line x1="369.42" y1="703.00" x2="369.42" y2="706.80" stroke="#111" stroke-width="1.5"/>
<text x="369.42" y="715.90" font-size="8.2" font-weight="bold" text-anchor="middle" fill="#111">-10</text>
<line x1="404.64" y1="703.00" x2="404.64" y2="706.80" stroke="#111" stroke-width="1.5"/>
<text x="404.64" y="715.90" font-size="8.2" font-weight="bold" text-anchor="middle" fill="#111">0</text>
<line x1="439.86" y1="703.00" x2="439.86" y2="706.80" stroke="#111" stroke-width="1.5"/>
<text x="439.86" y="715.90" font-size="8.2" font-weight="bold" text-anchor="middle" fill="#111">10</text>
<line x1="475.08" y1="703.00" x2="475.08" y2="706.80" stroke="#111" stroke-width="1.5"/>
<text x="475.08" y="715.90" font-size="8.2" font-weight="bold" text-anchor="middle" fill="#111">20</text>
<line x1="510.30" y1="703.00" x2="510.30" y2="706.80" stroke="#111" stroke-width="1.5"/>
<text x="510.30" y="715.90" font-size="8.2" font-weight="bold" text-anchor="middle" fill="#111">30</text>
<text x="421.90" y="730.80" font-size="8.3" font-weight="bold" text-anchor="middle" fill="#111">Days</text>
<text x="297.20" y="644.60" font-size="8.7" font-weight="bold" text-anchor="middle" fill="#111" transform="rotate(-90 297.20 644.60)">% CD3+CD8+ in lymphogate</text>
<text x="306.50" y="644.60" font-size="8.7" font-weight="bold" text-anchor="middle" fill="#111" transform="rotate(-90 306.50 644.60)">(as % of baseline)</text>
<line x1="443.38" y1="659.20" x2="443.38" y2="653.36" stroke="#222" stroke-width="1.4"/>
<line x1="440.58" y1="659.20" x2="446.18" y2="659.20" stroke="#222" stroke-width="1.6"/>
<line x1="440.58" y1="653.36" x2="446.18" y2="653.36" stroke="#222" stroke-width="1.6"/>
<line x1="503.26" y1="669.13" x2="503.26" y2="660.95" stroke="#222" stroke-width="1.4"/>
<line x1="500.46" y1="669.13" x2="506.06" y2="669.13" stroke="#222" stroke-width="1.6"/>
<line x1="500.46" y1="660.95" x2="506.06" y2="660.95" stroke="#222" stroke-width="1.6"/>
<polyline points="355.33,644.60 404.64,699.50 443.38,656.28 503.26,665.04" fill="none" stroke="#111" stroke-width="2.0" stroke-linejoin="round"/>
<rect x="353.03" y="642.30" width="4.6" height="4.6" fill="#111"/>
<rect x="402.34" y="697.20" width="4.6" height="4.6" fill="#111"/>
<rect x="441.08" y="653.98" width="4.6" height="4.6" fill="#111"/>
<rect x="500.96" y="662.74" width="4.6" height="4.6" fill="#111"/>
<line x1="443.38" y1="661.54" x2="443.38" y2="637.59" stroke="#bb3a52" stroke-width="1.3"/>
<line x1="440.58" y1="661.54" x2="446.18" y2="661.54" stroke="#bb3a52" stroke-width="1.5"/>
<line x1="440.58" y1="637.59" x2="446.18" y2="637.59" stroke="#bb3a52" stroke-width="1.5"/>
<line x1="503.26" y1="669.13" x2="503.26" y2="655.11" stroke="#bb3a52" stroke-width="1.3"/>
<line x1="500.46" y1="669.13" x2="506.06" y2="669.13" stroke="#bb3a52" stroke-width="1.5"/>
<line x1="500.46" y1="655.11" x2="506.06" y2="655.11" stroke="#bb3a52" stroke-width="1.5"/>
<polyline points="355.33,644.60 404.64,695.99 443.38,649.56 503.26,662.12" fill="none" stroke="#e0161e" stroke-width="2.3" stroke-linejoin="round"/>
<path d="M352.73,646.40 L357.93,646.40 L355.33,642.00 Z" fill="#e0161e"/>
<path d="M402.04,697.79 L407.24,697.79 L404.64,693.39 Z" fill="#e0161e"/>
<path d="M440.78,651.36 L445.98,651.36 L443.38,646.96 Z" fill="#e0161e"/>
<path d="M500.66,663.92 L505.86,663.92 L503.26,659.52 Z" fill="#e0161e"/>
<line x1="464.20" y1="603.50" x2="481.50" y2="603.50" stroke="#111" stroke-width="1.9"/>
<rect x="470.65" y="601.30" width="4.4" height="4.4" fill="#111"/>
<text x="0" y="0" font-size="9.5" font-weight="normal" text-anchor="start" fill="#222" transform="translate(484.20 606.10) rotate(0) scale(0.97 1)">SMs</text>
<line x1="464.20" y1="617.50" x2="481.50" y2="617.50" stroke="#e0161e" stroke-width="1.9"/>
<path d="M470.45,619.20 L475.25,619.20 L472.85,615.10 Z" fill="#e0161e"/>
<text x="0" y="0" font-size="9.5" font-weight="normal" text-anchor="start" fill="#222" transform="translate(484.20 620.10) rotate(0) scale(0.97 1)">RMs</text>
<text x="0" y="0" font-size="14.2" font-weight="normal" text-anchor="start" fill="#111" transform="translate(196.90 13.60) rotate(0) scale(1.09 1)">CD8+ lymphocyte depletion</text>
<text x="4.90" y="37.20" font-size="20" font-weight="bold" text-anchor="start" fill="#111">A</text>
<text x="2.70" y="198.70" font-size="20" font-weight="bold" text-anchor="start" fill="#111">B</text>
<text x="1.40" y="395.70" font-size="20" font-weight="bold" text-anchor="start" fill="#111">C</text>
<text x="4.00" y="577.70" font-size="20" font-weight="bold" text-anchor="start" fill="#111">D</text>
<text x="103.90" y="35.90" font-size="14.8" font-weight="normal" text-anchor="start" fill="#111">SM</text>
<text x="399.90" y="38.80" font-size="14.8" font-weight="normal" text-anchor="start" fill="#111">RM</text>
<text x="38.50" y="69.70" font-size="12" font-weight="normal" text-anchor="start" fill="#111">d -14</text>
<text x="114.50" y="69.70" font-size="12" font-weight="normal" text-anchor="start" fill="#111">d 4</text>
<text x="177.00" y="69.70" font-size="12" font-weight="normal" text-anchor="start" fill="#111">d 60</text>
<text x="337.80" y="69.70" font-size="12" font-weight="normal" text-anchor="start" fill="#111">d -14</text>
<text x="411.30" y="69.70" font-size="12" font-weight="normal" text-anchor="start" fill="#111">d 4</text>
<text x="476.90" y="69.70" font-size="12" font-weight="normal" text-anchor="start" fill="#111">d 60</text>
<text x="11.70" y="120.50" font-size="12" font-weight="normal" text-anchor="middle" fill="#111" transform="rotate(-90 11.70 120.50)">CD3</text>
<text x="27.30" y="174.60" font-size="12" font-weight="normal" text-anchor="start" fill="#111">CD8</text>
<line x1="62" y1="170" x2="486" y2="170" stroke="#111" stroke-width="1.8"/>
<path d="M484.5,165.8 L496,170 L484.5,174.2 Z" fill="#111"/>
</svg>
</body></html>
